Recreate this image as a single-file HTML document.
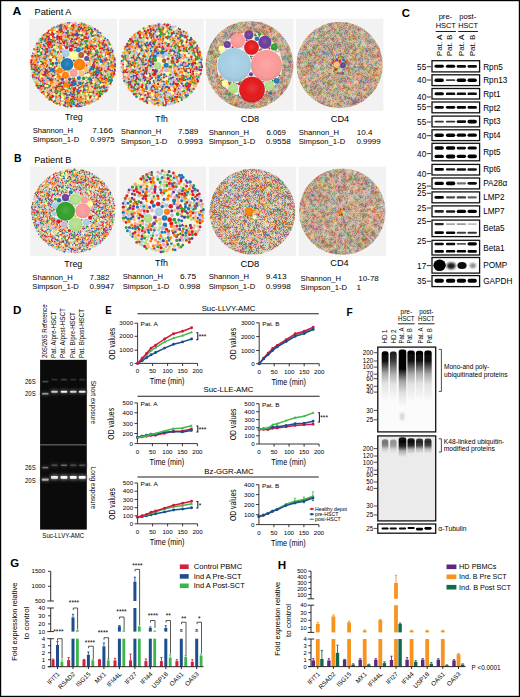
<!DOCTYPE html><html><head><meta charset="utf-8"><title>Figure</title><style>html,body{margin:0;padding:0;background:#fff;}svg{display:block;}</style></head><body><svg width="520" height="697" viewBox="0 0 520 697" font-family='"Liberation Sans", sans-serif'><defs><radialGradient id="shd" cx="0.5" cy="0.45" r="0.55"><stop offset="0" stop-color="#fff" stop-opacity="0.14"/><stop offset="0.6" stop-color="#fff" stop-opacity="0"/><stop offset="1" stop-color="#000" stop-opacity="0.1"/></radialGradient><filter id="pnA" x="0" y="0" width="1" height="1" color-interpolation-filters="sRGB"><feTurbulence type="fractalNoise" baseFrequency="1.618" numOctaves="1" seed="3"/><feColorMatrix type="matrix" values="3 0 0 0 -1.000  3 0 0 0 -1.000  3 0 0 0 -1.000  0 0 0 0 1"/><feComponentTransfer result="p"><feFuncR type="discrete" tableValues="0.871 0.984 0.122 0.694 0.992 0.792 1.000 0.890 0.871 1.000 0.416 0.651 0.200 0.698 0.200 0.122 1.000 1.000 0.984 0.871 0.694 0.992 0.792 0.698 0.416 0.890 0.651 1.000 1.000 0.792 0.694 0.871 0.416 0.890 0.651 0.122 0.698 0.200 0.992 0.984 0.890 1.000 0.651 0.200 0.122 0.416 0.871 0.694 0.698 0.792 1.000 0.984 0.992 0.694 0.698 1.000 0.122 0.890 0.200 1.000 0.416 0.871 0.984 0.992 0.651 0.792 0.122 0.698 1.000 0.200 0.694 0.890 1.000 0.871 0.792 0.984 0.651 0.416 0.992 0.698 0.871 0.200 0.694 0.984 1.000 0.792 0.651 0.416 0.992 0.122 0.890 1.000 0.890 0.792 1.000 0.984 0.694 0.871 0.416 0.992 0.651 0.698 0.200 1.000 0.122 0.871"/><feFuncG type="discrete" tableValues="0.808 0.604 0.471 0.349 0.749 0.698 1.000 0.102 0.808 0.498 0.239 0.808 0.627 0.875 0.627 0.471 1.000 0.498 0.604 0.808 0.349 0.749 0.698 0.875 0.239 0.102 0.808 1.000 0.498 0.698 0.349 0.808 0.239 0.102 0.808 0.471 0.875 0.627 0.749 0.604 0.102 0.498 0.808 0.627 0.471 0.239 0.808 0.349 0.875 0.698 1.000 0.604 0.749 0.349 0.875 1.000 0.471 0.102 0.627 0.498 0.239 0.808 0.604 0.749 0.808 0.698 0.471 0.875 1.000 0.627 0.349 0.102 0.498 0.808 0.698 0.604 0.808 0.239 0.749 0.875 0.808 0.627 0.349 0.604 1.000 0.698 0.808 0.239 0.749 0.471 0.102 0.498 0.102 0.698 1.000 0.604 0.349 0.808 0.239 0.749 0.808 0.875 0.627 0.498 0.471 0.808"/><feFuncB type="discrete" tableValues="0.761 0.600 0.706 0.157 0.435 0.839 0.600 0.110 0.761 0.000 0.604 0.890 0.173 0.541 0.173 0.706 0.600 0.000 0.600 0.761 0.157 0.435 0.839 0.541 0.604 0.110 0.890 0.600 0.000 0.839 0.157 0.761 0.604 0.110 0.890 0.706 0.541 0.173 0.435 0.600 0.110 0.000 0.890 0.173 0.706 0.604 0.761 0.157 0.541 0.839 0.600 0.600 0.435 0.157 0.541 0.600 0.706 0.110 0.173 0.000 0.604 0.761 0.600 0.435 0.890 0.839 0.706 0.541 0.600 0.173 0.157 0.110 0.000 0.761 0.839 0.600 0.890 0.604 0.435 0.541 0.761 0.173 0.157 0.600 0.600 0.839 0.890 0.604 0.435 0.706 0.110 0.000 0.110 0.839 0.600 0.600 0.157 0.761 0.604 0.435 0.890 0.541 0.173 0.000 0.706 0.761"/></feComponentTransfer><feGaussianBlur in="p" stdDeviation="1" result="b"/><feComposite in="p" in2="b" operator="arithmetic" k2="0.28" k3="0.72" result="m"/><feComposite in="m" in2="SourceGraphic" operator="in"/></filter><filter id="pnB" x="0" y="0" width="1" height="1" color-interpolation-filters="sRGB"><feTurbulence type="fractalNoise" baseFrequency="1.618" numOctaves="1" seed="5"/><feColorMatrix type="matrix" values="3 0 0 0 -1.000  3 0 0 0 -1.000  3 0 0 0 -1.000  0 0 0 0 1"/><feComponentTransfer result="p"><feFuncR type="discrete" tableValues="0.871 1.000 0.698 0.200 0.992 0.792 0.871 0.416 1.000 0.122 0.984 0.694 0.651 0.890 1.000 0.651 0.416 0.698 0.871 0.200 1.000 0.992 0.122 0.694 0.984 0.792 0.890 0.651 0.871 0.890 0.416 1.000 0.694 0.984 0.200 1.000 0.792 0.122 0.698 0.992 0.984 0.890 0.416 1.000 0.200 0.871 0.122 1.000 0.992 0.651 0.698 0.792 0.694 0.122 1.000 0.992 0.792 0.698 0.871 0.890 1.000 0.200 0.651 0.416 0.984 0.694 1.000 0.992 0.694 1.000 0.122 0.890 0.651 0.792 0.698 0.416 0.871 0.984 0.200 0.792 0.871 1.000 0.122 0.200 0.694 0.651 0.984 0.698 1.000 0.890 0.992 0.416 0.200 0.416 0.651 0.984 0.890 1.000 0.992 1.000 0.122 0.792 0.694 0.871 0.698 0.871"/><feFuncG type="discrete" tableValues="0.808 0.498 0.875 0.627 0.749 0.698 0.808 0.239 1.000 0.471 0.604 0.349 0.808 0.102 1.000 0.808 0.239 0.875 0.808 0.627 0.498 0.749 0.471 0.349 0.604 0.698 0.102 0.808 0.808 0.102 0.239 1.000 0.349 0.604 0.627 0.498 0.698 0.471 0.875 0.749 0.604 0.102 0.239 1.000 0.627 0.808 0.471 0.498 0.749 0.808 0.875 0.698 0.349 0.471 1.000 0.749 0.698 0.875 0.808 0.102 0.498 0.627 0.808 0.239 0.604 0.349 1.000 0.749 0.349 0.498 0.471 0.102 0.808 0.698 0.875 0.239 0.808 0.604 0.627 0.698 0.808 1.000 0.471 0.627 0.349 0.808 0.604 0.875 0.498 0.102 0.749 0.239 0.627 0.239 0.808 0.604 0.102 1.000 0.749 0.498 0.471 0.698 0.349 0.808 0.875 0.808"/><feFuncB type="discrete" tableValues="0.761 0.000 0.541 0.173 0.435 0.839 0.761 0.604 0.600 0.706 0.600 0.157 0.890 0.110 0.600 0.890 0.604 0.541 0.761 0.173 0.000 0.435 0.706 0.157 0.600 0.839 0.110 0.890 0.761 0.110 0.604 0.600 0.157 0.600 0.173 0.000 0.839 0.706 0.541 0.435 0.600 0.110 0.604 0.600 0.173 0.761 0.706 0.000 0.435 0.890 0.541 0.839 0.157 0.706 0.600 0.435 0.839 0.541 0.761 0.110 0.000 0.173 0.890 0.604 0.600 0.157 0.600 0.435 0.157 0.000 0.706 0.110 0.890 0.839 0.541 0.604 0.761 0.600 0.173 0.839 0.761 0.600 0.706 0.173 0.157 0.890 0.600 0.541 0.000 0.110 0.435 0.604 0.173 0.604 0.890 0.600 0.110 0.600 0.435 0.000 0.706 0.839 0.157 0.761 0.541 0.761"/></feComponentTransfer><feGaussianBlur in="p" stdDeviation="1" result="b"/><feComposite in="p" in2="b" operator="arithmetic" k2="0.28" k3="0.72" result="m"/><feComposite in="m" in2="SourceGraphic" operator="in"/></filter><filter id="pnC" x="0" y="0" width="1" height="1" color-interpolation-filters="sRGB"><feTurbulence type="fractalNoise" baseFrequency="1.618" numOctaves="1" seed="7"/><feColorMatrix type="matrix" values="3 0 0 0 -1.000  3 0 0 0 -1.000  3 0 0 0 -1.000  0 0 0 0 1"/><feComponentTransfer result="p"><feFuncR type="discrete" tableValues="0.925 0.416 0.992 0.792 0.122 0.698 0.694 0.651 1.000 0.925 0.200 0.890 0.984 1.000 0.992 0.792 0.984 1.000 0.925 0.651 1.000 0.200 0.416 0.694 0.122 0.890 0.698 0.792 1.000 0.984 0.200 1.000 0.698 0.925 0.651 0.992 0.890 0.416 0.694 0.122 0.992 0.925 0.890 0.651 0.122 1.000 0.792 0.698 0.694 0.416 0.984 1.000 0.200 0.416 0.122 0.651 0.925 0.890 0.984 0.200 0.698 0.694 0.992 1.000 0.792 1.000 0.122 1.000 1.000 0.992 0.200 0.694 0.984 0.416 0.890 0.651 0.698 0.792 0.925 0.890 0.992 1.000 0.651 0.792 1.000 0.200 0.984 0.925 0.122 0.416 0.694 0.698 0.698 0.651 0.925 0.890 1.000 0.416 0.694 0.992 0.792 0.984 0.200 1.000 0.122 0.925"/><feFuncG type="discrete" tableValues="0.910 0.239 0.749 0.698 0.471 0.875 0.349 0.808 1.000 0.910 0.627 0.102 0.604 0.498 0.749 0.698 0.604 0.498 0.910 0.808 1.000 0.627 0.239 0.349 0.471 0.102 0.875 0.698 0.498 0.604 0.627 1.000 0.875 0.910 0.808 0.749 0.102 0.239 0.349 0.471 0.749 0.910 0.102 0.808 0.471 1.000 0.698 0.875 0.349 0.239 0.604 0.498 0.627 0.239 0.471 0.808 0.910 0.102 0.604 0.627 0.875 0.349 0.749 0.498 0.698 1.000 0.471 0.498 1.000 0.749 0.627 0.349 0.604 0.239 0.102 0.808 0.875 0.698 0.910 0.102 0.749 0.498 0.808 0.698 1.000 0.627 0.604 0.910 0.471 0.239 0.349 0.875 0.875 0.808 0.910 0.102 0.498 0.239 0.349 0.749 0.698 0.604 0.627 1.000 0.471 0.910"/><feFuncB type="discrete" tableValues="0.894 0.604 0.435 0.839 0.706 0.541 0.157 0.890 0.600 0.894 0.173 0.110 0.600 0.000 0.435 0.839 0.600 0.000 0.894 0.890 0.600 0.173 0.604 0.157 0.706 0.110 0.541 0.839 0.000 0.600 0.173 0.600 0.541 0.894 0.890 0.435 0.110 0.604 0.157 0.706 0.435 0.894 0.110 0.890 0.706 0.600 0.839 0.541 0.157 0.604 0.600 0.000 0.173 0.604 0.706 0.890 0.894 0.110 0.600 0.173 0.541 0.157 0.435 0.000 0.839 0.600 0.706 0.000 0.600 0.435 0.173 0.157 0.600 0.604 0.110 0.890 0.541 0.839 0.894 0.110 0.435 0.000 0.890 0.839 0.600 0.173 0.600 0.894 0.706 0.604 0.157 0.541 0.541 0.890 0.894 0.110 0.000 0.604 0.157 0.435 0.839 0.600 0.173 0.600 0.706 0.894"/></feComponentTransfer><feGaussianBlur in="p" stdDeviation="1" result="b"/><feComposite in="p" in2="b" operator="arithmetic" k2="0.5" k3="0.5" result="m"/><feComposite in="m" in2="SourceGraphic" operator="in"/></filter><filter id="pnD" x="0" y="0" width="1" height="1" color-interpolation-filters="sRGB"><feTurbulence type="fractalNoise" baseFrequency="1.618" numOctaves="1" seed="9"/><feColorMatrix type="matrix" values="3 0 0 0 -1.000  3 0 0 0 -1.000  3 0 0 0 -1.000  0 0 0 0 1"/><feComponentTransfer result="p"><feFuncR type="discrete" tableValues="0.871 0.890 0.200 0.871 0.984 0.792 0.698 0.694 0.651 0.992 0.416 1.000 0.122 1.000 0.694 0.890 0.698 0.984 0.792 0.416 0.871 1.000 0.992 0.122 0.651 0.200 1.000 0.694 0.992 0.984 0.890 0.698 0.416 1.000 1.000 0.651 0.122 0.871 0.792 0.200 1.000 0.694 0.416 0.200 0.122 0.992 0.651 0.698 1.000 0.871 0.984 0.792 0.890 0.416 0.122 1.000 0.890 0.698 0.694 0.992 0.792 0.871 0.984 1.000 0.651 0.200 0.651 0.890 0.122 0.992 0.792 1.000 0.984 0.698 0.694 0.871 0.416 1.000 0.200 0.992 0.200 0.416 0.792 0.890 1.000 0.122 0.651 0.694 1.000 0.871 0.984 0.698 0.122 1.000 0.416 0.871 0.200 0.694 0.651 1.000 0.992 0.984 0.792 0.890 0.698 0.871"/><feFuncG type="discrete" tableValues="0.808 0.102 0.627 0.808 0.604 0.698 0.875 0.349 0.808 0.749 0.239 1.000 0.471 0.498 0.349 0.102 0.875 0.604 0.698 0.239 0.808 1.000 0.749 0.471 0.808 0.627 0.498 0.349 0.749 0.604 0.102 0.875 0.239 1.000 0.498 0.808 0.471 0.808 0.698 0.627 1.000 0.349 0.239 0.627 0.471 0.749 0.808 0.875 0.498 0.808 0.604 0.698 0.102 0.239 0.471 0.498 0.102 0.875 0.349 0.749 0.698 0.808 0.604 1.000 0.808 0.627 0.808 0.102 0.471 0.749 0.698 0.498 0.604 0.875 0.349 0.808 0.239 1.000 0.627 0.749 0.627 0.239 0.698 0.102 0.498 0.471 0.808 0.349 1.000 0.808 0.604 0.875 0.471 1.000 0.239 0.808 0.627 0.349 0.808 0.498 0.749 0.604 0.698 0.102 0.875 0.808"/><feFuncB type="discrete" tableValues="0.761 0.110 0.173 0.761 0.600 0.839 0.541 0.157 0.890 0.435 0.604 0.600 0.706 0.000 0.157 0.110 0.541 0.600 0.839 0.604 0.761 0.600 0.435 0.706 0.890 0.173 0.000 0.157 0.435 0.600 0.110 0.541 0.604 0.600 0.000 0.890 0.706 0.761 0.839 0.173 0.600 0.157 0.604 0.173 0.706 0.435 0.890 0.541 0.000 0.761 0.600 0.839 0.110 0.604 0.706 0.000 0.110 0.541 0.157 0.435 0.839 0.761 0.600 0.600 0.890 0.173 0.890 0.110 0.706 0.435 0.839 0.000 0.600 0.541 0.157 0.761 0.604 0.600 0.173 0.435 0.173 0.604 0.839 0.110 0.000 0.706 0.890 0.157 0.600 0.761 0.600 0.541 0.706 0.600 0.604 0.761 0.173 0.157 0.890 0.000 0.435 0.600 0.839 0.110 0.541 0.761"/></feComponentTransfer><feGaussianBlur in="p" stdDeviation="1" result="b"/><feComposite in="p" in2="b" operator="arithmetic" k2="0.30000000000000004" k3="0.7" result="m"/><feComposite in="m" in2="SourceGraphic" operator="in"/></filter><filter id="nzA" x="0" y="0" width="1" height="1" color-interpolation-filters="sRGB"><feTurbulence type="fractalNoise" baseFrequency="0.713" numOctaves="1" seed="3"/><feColorMatrix type="matrix" values="0.9 0 0 0.9 -0.139  0 0.9 0 0.9 -0.241  0 0 0.9 0.9 -0.304  0 0 0 0 1"/><feComposite in2="SourceGraphic" operator="in"/></filter><filter id="nzB" x="0" y="0" width="1" height="1" color-interpolation-filters="sRGB"><feTurbulence type="fractalNoise" baseFrequency="0.713" numOctaves="1" seed="5"/><feColorMatrix type="matrix" values="0.6 0 0 0.9 0.023  0 0.6 0 0.9 -0.095  0 0 0.6 0.9 -0.158  0 0 0 0 1"/><feComposite in2="SourceGraphic" operator="in"/></filter><filter id="nzC" x="0" y="0" width="1" height="1" color-interpolation-filters="sRGB"><feTurbulence type="fractalNoise" baseFrequency="0.713" numOctaves="1" seed="7"/><feColorMatrix type="matrix" values="1.45 0 0 0.9 -0.438  0 1.45 0 0.9 -0.524  0 0 1.45 0.9 -0.571  0 0 0 0 1"/><feComposite in2="SourceGraphic" operator="in"/></filter><filter id="nzD" x="0" y="0" width="1" height="1" color-interpolation-filters="sRGB"><feTurbulence type="fractalNoise" baseFrequency="0.713" numOctaves="1" seed="9"/><feColorMatrix type="matrix" values="0.75 0 0 0.9 -0.060  0 0.75 0 0.9 -0.166  0 0 0.75 0.9 -0.229  0 0 0 0 1"/><feComposite in2="SourceGraphic" operator="in"/></filter><filter id="bl" x="-30%" y="-80%" width="160%" height="260%"><feGaussianBlur stdDeviation="0.45"/></filter><filter id="bl2" x="-50%" y="-80%" width="200%" height="260%"><feGaussianBlur stdDeviation="1.1"/></filter><filter id="gl" x="-40%" y="-150%" width="180%" height="400%"><feGaussianBlur stdDeviation="0.7"/></filter><filter id="gl2" x="-40%" y="-150%" width="180%" height="400%"><feGaussianBlur stdDeviation="1.6"/></filter><linearGradient id="sm1" x1="0" y1="0" x2="0" y2="1"><stop offset="0" stop-color="#000"/><stop offset="0.2" stop-color="#111"/><stop offset="0.32" stop-color="#5a5a5a"/><stop offset="0.46" stop-color="#aaa"/><stop offset="0.66" stop-color="#e2e2e2"/><stop offset="1" stop-color="#fbfbfb"/></linearGradient><linearGradient id="sm2" x1="0" y1="0" x2="0" y2="1"><stop offset="0" stop-color="#1a1a1a"/><stop offset="0.18" stop-color="#383838"/><stop offset="0.32" stop-color="#777"/><stop offset="0.48" stop-color="#b5b5b5"/><stop offset="0.68" stop-color="#e4e4e4"/><stop offset="1" stop-color="#fbfbfb"/></linearGradient><linearGradient id="sm3" x1="0" y1="0" x2="0" y2="1"><stop offset="0" stop-color="#000"/><stop offset="0.34" stop-color="#060606"/><stop offset="0.44" stop-color="#555"/><stop offset="0.56" stop-color="#a5a5a5"/><stop offset="0.76" stop-color="#e0e0e0"/><stop offset="1" stop-color="#fbfbfb"/></linearGradient><filter id="smb" x="-30%" y="-10%" width="160%" height="120%"><feGaussianBlur stdDeviation="0.7"/></filter><linearGradient id="kg" x1="0" y1="0" x2="0" y2="1"><stop offset="0" stop-color="#000" stop-opacity="0.85"/><stop offset="0.2" stop-color="#000" stop-opacity="1"/><stop offset="0.45" stop-color="#000" stop-opacity="0.85"/><stop offset="0.7" stop-color="#000" stop-opacity="0.25"/><stop offset="1" stop-color="#000" stop-opacity="0"/></linearGradient></defs><rect width="520" height="697" fill="#fff"/><rect x="29.2" y="18.6" width="87.9" height="92.2" fill="#f2f2f2"/><path d="M112.9 65.8h0M45.1 68.5h0M79.9 34.7h0M53.5 30.7h0M90 79.9h0" stroke="#1f78b4" stroke-width="2.0" stroke-linecap="round"/><path d="M40.7 81.8h0M98.8 84.7h0M50.2 51.1h0M84.4 41.8h0M71.7 103.8h0M75 80.5h0M69.3 103h0M84.2 24.3h0M77.3 32.4h0M92.9 31.4h0M49.8 37.6h0M36.9 59.3h0M33 53.2h0M108.3 81.5h0M52.9 46h0M65.3 101.9h0M96.2 59.3h0M103.9 60.7h0M84.5 103.2h0M76.7 99.4h0M99.8 94h0M79.8 91.5h0M112 80.4h0M76.8 91.4h0M44.3 80.5h0M83 47.9h0M44 71.6h0M114.9 70.8h0M100.6 62.1h0M50.1 90.7h0M61.6 24.5h0M35.7 74h0M67.8 23h0M104.1 91.4h0" stroke="#1f78b4" stroke-width="2.1" stroke-linecap="round"/><path d="M94.9 45.7h0M88.8 36.9h0M50 68.8h0M54.5 37.5h0M100.5 57.6h0M95.1 61.3h0M40.3 70.9h0M98.9 72.6h0M105.6 60.9h0M59.4 26.5h0M87.9 30.5h0M74.1 34.1h0M40 88h0M77.9 106.5h0M104.2 77.6h0M40.6 40.5h0M57 26.9h0M51.4 91.5h0M65.5 106.1h0M74.5 43.3h0" stroke="#1f78b4" stroke-width="2.2" stroke-linecap="round"/><path d="M98.3 32.5h0M37.9 62.4h0M69.5 86h0M72.3 29.8h0M105.1 38.6h0M47.4 69.9h0M43.8 35.1h0M70.2 92.3h0M105.2 55.4h0M54.1 27.6h0M48.5 51.1h0M86.1 47.4h0M34.1 56.2h0" stroke="#1f78b4" stroke-width="2.3" stroke-linecap="round"/><path d="M53.7 96h0M87.3 82.8h0M67.2 95.2h0M91.2 33.8h0M69.3 46.3h0M90.6 78.4h0M73 94.2h0M92.1 101.3h0M102.2 62h0M47.4 77.9h0M97 72.5h0M55.8 58h0M101.3 67.8h0" stroke="#1f78b4" stroke-width="2.4" stroke-linecap="round"/><path d="M55.4 100.8h0M46.1 43.5h0M88.6 79.2h0M85.7 85.8h0M61.3 26.4h0M40.8 61.6h0M56.8 37.6h0M60.6 98.3h0M49.3 43.2h0M82.4 49.3h0M98.4 52.2h0M46.8 71.4h0" stroke="#1f78b4" stroke-width="2.5" stroke-linecap="round"/><path d="M100.4 60.1h0M100.1 88.3h0M47.5 65.2h0M104.4 47.2h0M60.5 28h0M99.2 70.7h0M44.8 40.7h0M54.5 72.8h0M100.4 82.4h0M74.7 39.6h0" stroke="#1f78b4" stroke-width="2.6" stroke-linecap="round"/><path d="M109.8 80.2h0M49.1 78.1h0M38.9 68.3h0M78.4 90.5h0M104.2 87.9h0M73.2 36.2h0M59.2 95.4h0M73.7 104.3h0M42.1 39.7h0" stroke="#1f78b4" stroke-width="2.7" stroke-linecap="round"/><path d="M79.8 83.3h0" stroke="#1f78b4" stroke-width="4.6" stroke-linecap="round"/><path d="M91.9 68.5h0" stroke="#1f78b4" stroke-width="5.3" stroke-linecap="round"/><path d="M52.6 70h0" stroke="#1f78b4" stroke-width="5.5" stroke-linecap="round"/><path d="M74.5 83.4h0" stroke="#1f78b4" stroke-width="5.6" stroke-linecap="round"/><path d="M66.3 41.8h0M70.2 100.7h0M85.6 73.6h0M80.6 42.2h0M90.5 84.1h0M64 95.1h0" stroke="#33a02c" stroke-width="2.0" stroke-linecap="round"/><path d="M81.9 41.1h0M48.6 84.9h0M109.4 44.1h0M40.5 38.8h0M72.7 41.8h0M32.9 77.2h0M55.4 79.1h0M73.4 44.2h0M40.6 55h0M88.7 95.1h0M43.1 58.4h0M97.3 71h0M84.7 105.1h0M60.2 32.7h0M54.4 42.1h0M70.6 89.1h0M98.6 58.9h0M94.2 96.7h0M87.7 33.6h0M60.3 91.7h0M46.4 37.3h0M110.5 61h0M53.8 49.3h0M72.5 78.5h0M98.9 44.1h0M83.7 39.4h0M55.4 40.6h0M74.7 50.4h0M51.1 80.9h0M108.1 64.2h0M110.4 45h0M82.3 83.3h0M71.6 35.7h0M45.6 46.9h0" stroke="#33a02c" stroke-width="2.1" stroke-linecap="round"/><path d="M99.3 80.5h0M39 77.6h0M111.6 78.9h0M110 57h0M42.8 62.1h0M68.5 97.5h0M69.1 88.2h0M79.8 30.1h0M94 35.6h0M36.8 67.1h0M77.5 100.8h0M86 30.4h0M93.6 56.3h0M61.1 86.1h0M102.6 56.3h0M95.3 40.4h0M58 86.2h0M47.3 87.9h0M94.6 68.1h0M61.9 40.2h0M52.1 40.1h0M53.4 35.6h0M111.3 48.2h0M58.8 46.9h0M110.5 49.9h0M95.3 34.8h0M81.7 106h0M84.1 85.6h0M42.8 84.2h0M105.6 91.7h0M37.7 86.6h0M94.9 75.3h0M67 44.8h0" stroke="#33a02c" stroke-width="2.2" stroke-linecap="round"/><path d="M40.6 53.1h0M37.6 54.9h0M73.9 102.5h0M92.2 56.9h0M105.1 90.1h0M60.3 93.8h0M49.1 94h0M46.6 76.3h0M50.6 61.7h0M105.1 76.1h0M87.9 89.3h0M91.3 92.3h0M99.2 36.3h0M59.5 62.7h0M85.8 89.9h0M71.2 102.5h0M60.4 84.4h0M78.2 28.2h0" stroke="#33a02c" stroke-width="2.3" stroke-linecap="round"/><path d="M107.7 79.5h0M82.7 102.8h0M63.2 88.9h0M39.2 85.4h0M44.7 50.4h0M93.4 74.2h0M34.1 72.6h0M107.8 75.1h0M90.8 28.1h0M108.9 77.3h0M110.4 63.2h0M37.3 71.3h0M41.1 42.1h0M72.6 101.3h0M31.9 69h0M55.5 90.7h0M95.3 83.4h0M63.7 81.8h0M80.3 46h0M89.5 48.4h0M97.7 57.4h0M49.1 87h0M89.7 60.6h0" stroke="#33a02c" stroke-width="2.4" stroke-linecap="round"/><path d="M34.5 77.4h0M95 86.1h0M96.6 69.1h0M50.7 64h0M85.7 40.8h0M101.7 94.1h0M87 45.2h0M39.5 49.5h0M87.4 41.2h0M98.7 45.6h0M38.8 43.2h0M83.1 92.5h0M99.2 86.7h0M82.7 44.6h0M39.2 51.4h0M91.3 32.2h0M63.6 93.4h0M105.9 57.6h0M83.6 82.5h0" stroke="#33a02c" stroke-width="2.5" stroke-linecap="round"/><path d="M90.7 52h0M84.4 89h0M54.3 45h0M44.7 89h0M51 98.9h0M35.4 71.1h0M68 32.5h0M96.6 52.2h0M110.9 81.9h0M81.5 23.9h0M97.3 50.3h0M57.5 92.8h0M67.7 35.4h0M100.6 91.4h0M89.5 77.2h0" stroke="#33a02c" stroke-width="2.6" stroke-linecap="round"/><path d="M67.7 106.3h0M80 103.1h0M97.1 87.8h0M47 56h0M100.9 73.3h0M99.2 92.4h0M57.1 103.3h0M88.6 27.5h0M57.6 90.9h0M37.5 74.2h0M55.2 51.7h0M77.6 94.4h0M110.5 76.7h0M81.6 34.7h0M89.5 81.7h0M52 55.1h0M91.5 44.9h0M97 63h0" stroke="#33a02c" stroke-width="2.7" stroke-linecap="round"/><path d="M69 82.8h0" stroke="#33a02c" stroke-width="3.4" stroke-linecap="round"/><path d="M52.5 64.9h0" stroke="#33a02c" stroke-width="3.5" stroke-linecap="round"/><path d="M98.3 69.3h0M104.1 79.2h0M64.8 26h0M85.8 43.3h0M41.7 52.1h0M69.8 22.9h0M81.3 36.2h0" stroke="#6a3d9a" stroke-width="2.0" stroke-linecap="round"/><path d="M108.4 62.8h0M71 94h0M112.2 70.6h0M101.1 35.6h0M94.7 59h0M83 28.7h0M64.8 41h0M45.7 52.4h0M49 33.2h0M109.1 59.6h0M111.6 62.1h0M74.7 95h0M34.8 67h0M57.7 42.5h0M104.8 59.4h0M45.4 72.1h0M46.3 57.6h0M85.5 83.4h0M95.6 54.3h0M98.4 74.3h0M83.8 86.9h0M60.3 25.2h0M87.3 53.8h0M100.4 33.1h0M102.8 74.9h0M107.9 48.1h0M95 55.8h0M42.9 79.2h0M52.2 95.2h0M78.7 44.8h0" stroke="#6a3d9a" stroke-width="2.1" stroke-linecap="round"/><path d="M71 41h0M93.2 78.1h0M87.6 47.1h0M75.5 33.6h0M38.2 56.9h0M38.2 88h0M75.1 35.3h0M67.8 30.7h0M37.1 51.9h0M108.6 51h0M64.4 45.6h0M43.6 44.7h0M112.2 52.4h0M53.6 50.9h0M63.6 32.5h0M94.5 64.9h0M112.6 50.6h0M49.4 71.4h0M50.9 39.5h0M95.9 71h0M99.3 67.5h0M56.4 59.8h0M38.6 79h0M99.3 48.4h0M73.9 60.6h0M56.6 85.8h0M63.7 57.7h0" stroke="#6a3d9a" stroke-width="2.2" stroke-linecap="round"/><path d="M51.8 78.7h0M69.5 95.2h0M68 37.1h0M78.8 24.6h0M56.1 93.8h0M91.3 95.8h0M78.5 35h0M79 87.9h0M89.8 70.9h0M52.2 42.2h0M110.2 55.4h0M87.8 72.8h0M57.7 53.6h0M104.6 45.6h0" stroke="#6a3d9a" stroke-width="2.3" stroke-linecap="round"/><path d="M72 85.6h0M95.9 74h0M88.8 53.5h0M44.8 73.5h0M65.5 103.7h0M45.3 39.1h0M86.7 77h0M110.1 70.5h0M55.1 87.7h0M77.1 34h0M107.4 40.3h0" stroke="#6a3d9a" stroke-width="2.4" stroke-linecap="round"/><path d="M45.3 54.3h0M83.6 90.6h0M77.9 103.9h0M104.1 50.3h0M44.9 58.8h0M79.9 106h0M114.8 64.3h0M109.4 53.6h0M66.4 33.1h0M71.7 82.5h0M44.7 83.5h0M85.4 101.9h0M106.5 87.4h0" stroke="#6a3d9a" stroke-width="2.5" stroke-linecap="round"/><path d="M49.3 47.7h0M92.3 36.1h0M114.5 59.7h0M94.9 29.4h0M42.4 49h0M34 69.6h0M53.6 34h0M66.6 97.8h0M80.9 28.5h0M93.1 75.8h0" stroke="#6a3d9a" stroke-width="2.6" stroke-linecap="round"/><path d="M102.5 44.7h0M97.4 54.6h0M76.9 35.7h0M48.6 39.4h0M39.2 72.7h0M74.7 99.4h0M91.6 80.1h0M108.6 66.5h0M96.1 77.5h0M57.3 35.7h0M73.9 97h0M76 43.2h0" stroke="#6a3d9a" stroke-width="2.7" stroke-linecap="round"/><path d="M63.3 29.2h0M48.5 59h0M85.1 39.1h0M71.2 90.6h0M93.3 44.6h0M54.1 65.8h0M42.8 69.2h0" stroke="#a6cee3" stroke-width="2.0" stroke-linecap="round"/><path d="M57.4 34h0M93.8 101.6h0M46.6 59h0M104.7 67.5h0M69.3 106.4h0M95.9 48.1h0M76.2 40.6h0M82 50.8h0" stroke="#a6cee3" stroke-width="2.1" stroke-linecap="round"/><path d="M67.1 89.2h0M84.1 84.1h0M94.4 76.7h0M96.3 36h0M62.4 85.2h0M106.6 64.5h0M102 51.4h0M73.3 86.8h0M35.4 78.9h0M45.3 95.7h0M90.3 37.8h0M101.6 33.8h0M79.8 36.2h0M64.4 38.7h0M62.9 48.9h0M95.3 91.5h0M53.7 54.8h0M64.5 87.4h0M39.9 84h0M55.6 80.5h0" stroke="#a6cee3" stroke-width="2.2" stroke-linecap="round"/><path d="M45.4 45.2h0M73.8 106.1h0M50.2 54.9h0M105.9 85.7h0M36.1 46.1h0M43.3 89.8h0M42.1 44.3h0M108.2 45.8h0M45.5 77.7h0" stroke="#a6cee3" stroke-width="2.3" stroke-linecap="round"/><path d="M105.7 40.1h0M101.7 65.1h0M51.3 72.7h0M89.4 50.3h0M57.7 89.1h0M59.8 81.7h0M55.7 38.9h0" stroke="#a6cee3" stroke-width="2.4" stroke-linecap="round"/><path d="M106.7 69h0M92.6 28.1h0M75.8 101h0M57.4 48.2h0M104.5 56.8h0M45.3 66.8h0M53.4 29.2h0M103.6 36.9h0M41.4 83.6h0M50.7 49.1h0M48.7 52.8h0M45.6 81.6h0M63 104.2h0M86.6 63h0M82.9 42.3h0M109.5 75.2h0M71.6 43.9h0" stroke="#a6cee3" stroke-width="2.5" stroke-linecap="round"/><path d="M62.9 101.1h0M53.6 52.6h0M68.3 41h0M109.8 64.9h0M37.4 76.7h0M39.1 47.3h0M76.6 23.9h0M57.5 99.2h0" stroke="#a6cee3" stroke-width="2.6" stroke-linecap="round"/><path d="M95.9 31.6h0M48.9 63.9h0M55.5 95.8h0" stroke="#a6cee3" stroke-width="2.7" stroke-linecap="round"/><path d="M102.5 83h0M40.6 47h0M77.4 37.5h0M81.4 102h0" stroke="#b15928" stroke-width="2.0" stroke-linecap="round"/><path d="M100 42.6h0M95.4 51.1h0M114.3 57.9h0M70.1 105h0M49.7 35.2h0M51.8 100.3h0M74.5 47.5h0M85.2 46.2h0M64.9 89.8h0M86.3 32.1h0M97.4 30.5h0M92.7 32.9h0M79.2 31.4h0M59.5 83.2h0M46.8 35.8h0M60.6 31.4h0M62.4 90.4h0M46.9 66.7h0M51.6 74.3h0" stroke="#b15928" stroke-width="2.1" stroke-linecap="round"/><path d="M111.8 75.4h0M98.4 97h0M53.9 40.6h0M59.5 41.2h0M48.2 72.4h0M41 64.5h0M39.6 59.1h0M89.5 92.4h0M46.9 84.5h0M110.7 52.6h0M60.9 51.9h0M47.4 92.9h0M51.5 44.9h0M91.2 73.5h0M88.4 55.2h0M73 99h0M101.8 86.2h0M59.5 43.2h0M93.6 60.3h0M39 55.7h0" stroke="#b15928" stroke-width="2.2" stroke-linecap="round"/><path d="M35.6 68.6h0M60.8 100.7h0M101.7 87.8h0M77.3 97.1h0M86.6 65.5h0M57.6 74.3h0M113.8 61.9h0M73.2 88.7h0M104.8 70.8h0M70.8 42.5h0M88.6 102.3h0M108.8 42.4h0M70.5 45.3h0M73.6 26.1h0" stroke="#b15928" stroke-width="2.3" stroke-linecap="round"/><path d="M67.2 102.5h0M103.8 82.3h0M33.3 64.3h0M50.6 53.2h0M50.1 59.7h0M96.3 85h0M106 71.8h0M50.4 85.6h0M114 72.1h0M56.7 96.8h0M31.7 66.7h0M93.3 72.5h0M45.6 48.5h0" stroke="#b15928" stroke-width="2.4" stroke-linecap="round"/><path d="M42.1 54.1h0M105.2 44h0M34.3 49.3h0M56 89h0M87.8 38.6h0M74 27.8h0M54.7 92.7h0M46.9 73.5h0M76 30.9h0M93.3 93.1h0" stroke="#b15928" stroke-width="2.5" stroke-linecap="round"/><path d="M114.9 66h0M80.8 44h0M106.5 49.4h0M97.9 79.1h0M31.6 64.8h0M84.9 36.5h0M111.2 73.9h0M87.4 85.4h0M66.3 40.1h0" stroke="#b15928" stroke-width="2.6" stroke-linecap="round"/><path d="M36.7 85.3h0M61.1 89.5h0M79.6 93.1h0M57.9 80.7h0M52.6 80.2h0M74.1 92.6h0M74.5 78.6h0M52.7 57.8h0" stroke="#b15928" stroke-width="2.7" stroke-linecap="round"/><path d="M76.9 29.1h0M43.2 56.2h0M95.6 37.3h0M94.8 70h0M78.5 57.7h0M47.5 60.1h0M67.5 87.6h0M103.6 89.5h0" stroke="#b2df8a" stroke-width="2.0" stroke-linecap="round"/><path d="M67.6 38.9h0M75.1 29.5h0M48.5 97.7h0M96.5 41.6h0M41 60h0M80.5 88.7h0M43.1 70.5h0M113.4 68.9h0M77.3 82.2h0M66 43.8h0M66 79.8h0M55.7 69.5h0M88.1 80.9h0M92.2 52.7h0M86.4 78.5h0M99.2 54.9h0M79.8 39.2h0M62.5 43.4h0M96.7 45.3h0" stroke="#b2df8a" stroke-width="2.1" stroke-linecap="round"/><path d="M83.5 96h0M111.6 54.6h0M102.5 39.6h0M33.1 71.1h0M44.2 47.8h0M108 85.6h0M41 68.3h0M98.4 34h0M75.9 90h0M108.6 83.6h0M95.2 100.7h0M32.7 59.1h0M98.8 89.7h0M93.4 34.2h0M113 53.6h0M90.5 36.4h0M46.8 45.5h0M89.4 85.9h0M67.2 93.2h0M111.4 56.7h0M51.6 52h0M113 60.5h0" stroke="#b2df8a" stroke-width="2.2" stroke-linecap="round"/><path d="M103.2 92.9h0M81.5 47.1h0M76.2 93.2h0M89.5 44.8h0M47 47.5h0M96.2 79.6h0M37.1 79.7h0M64.8 96.4h0M99.8 34.9h0M101.9 46.4h0M79.3 94.9h0M37.9 46.3h0M89.6 67.5h0M76 79.4h0M83.8 101.8h0" stroke="#b2df8a" stroke-width="2.3" stroke-linecap="round"/><path d="M84 94.1h0M51.6 87.5h0M42.9 41.5h0M108 60.9h0M82.4 94.1h0M92.4 94.7h0M65.8 38.4h0M93.3 88.8h0M68.2 29h0M91.8 77h0M104.5 64.3h0M68.5 71.5h0" stroke="#b2df8a" stroke-width="2.4" stroke-linecap="round"/><path d="M87.5 96.2h0M102 89.5h0M70.2 30.5h0M44.5 37.3h0M79.2 33h0M97.7 83.6h0M57.8 82.7h0M66.1 30.3h0M36.9 81.4h0" stroke="#b2df8a" stroke-width="2.5" stroke-linecap="round"/><path d="M43.4 60.5h0M99.2 50.7h0M93.3 84.2h0M108.9 71.8h0M109 73.5h0M107.3 76.7h0M113.1 63.5h0M90.3 26.5h0" stroke="#b2df8a" stroke-width="2.6" stroke-linecap="round"/><path d="M34.8 81.6h0M93.6 53.6h0M53 73.7h0M103.1 72h0M92 71.3h0M39.3 41.5h0M72.1 37.6h0" stroke="#b2df8a" stroke-width="2.7" stroke-linecap="round"/><path d="M91.7 60.3h0" stroke="#b2df8a" stroke-width="3.4" stroke-linecap="round"/><path d="M59.1 66.1h0" stroke="#b2df8a" stroke-width="3.6" stroke-linecap="round"/><path d="M55.7 54.2h0" stroke="#b2df8a" stroke-width="4.0" stroke-linecap="round"/><path d="M43.7 43h0M44.7 91.5h0" stroke="#cab2d6" stroke-width="2.0" stroke-linecap="round"/><path d="M39.1 60.6h0M89.5 99.6h0M91 85.5h0M95.4 63.7h0M92.5 39.2h0M49.7 73.7h0M37.3 63.9h0M32.3 72.6h0M36.6 72.9h0M105.6 65.6h0M43.4 54.9h0" stroke="#cab2d6" stroke-width="2.1" stroke-linecap="round"/><path d="M55.6 27.3h0M55.2 85.8h0M58.2 44.2h0M106.1 67h0M78.4 102.3h0M115.2 61.5h0M99.7 75.1h0M74.2 49h0" stroke="#cab2d6" stroke-width="2.2" stroke-linecap="round"/><path d="M85.3 87.6h0M107.4 88.7h0M109.5 48.2h0M79.2 96.5h0M68.6 92.7h0M69.2 27.7h0M38.6 81.1h0M83.5 104.4h0M48.2 61.8h0M39.3 39.8h0M102 57.7h0M47.8 57.4h0M93.7 87.1h0" stroke="#cab2d6" stroke-width="2.3" stroke-linecap="round"/><path d="M33.1 54.8h0M103.1 68.4h0M90 40.1h0M48 68h0M66.6 23.9h0M100.5 66.5h0M58 28.3h0M49.2 76.4h0M33.8 79h0M94 95.2h0" stroke="#cab2d6" stroke-width="2.4" stroke-linecap="round"/><path d="M89.4 35.2h0M48.8 49.5h0M47.5 54h0M38.1 58.5h0M48 80.8h0M107 73.2h0" stroke="#cab2d6" stroke-width="2.5" stroke-linecap="round"/><path d="M98.6 76.6h0M41.4 79.9h0M94.2 98.6h0M76.2 86.3h0M53.4 77.8h0M59.6 49.8h0M95.9 89.8h0M102.6 76.8h0M55.6 74.5h0M61.7 50h0M70.9 27.2h0" stroke="#cab2d6" stroke-width="2.6" stroke-linecap="round"/><path d="M41.3 57.3h0M86.7 35.9h0" stroke="#cab2d6" stroke-width="2.7" stroke-linecap="round"/><path d="M56.4 66.2h0M114.7 69.4h0M107.9 54.2h0M37.6 47.7h0M87.8 48.8h0" stroke="#e31a1c" stroke-width="2.0" stroke-linecap="round"/><path d="M56.8 87.3h0M58.5 36.9h0M43.3 91.7h0M92.9 65.1h0M54.1 75.6h0M100.8 48.3h0M60.6 96.2h0M51.9 47.2h0M96.2 46.6h0M94.8 72.3h0M110.3 83.9h0M35.6 55.9h0M82.8 35.9h0M62.8 41.8h0M98.6 41.4h0M92.2 86.7h0M74 24.7h0M78.2 29.8h0M51.4 89.7h0M102.7 91.4h0M48.5 31.1h0M39.8 80h0M78 92.8h0M81 90.6h0M76 47.2h0M59.9 36.7h0M89.1 29.7h0M48.2 46h0M70.7 84.8h0M100.6 52.3h0M45.5 87.6h0M81.3 27h0M108 49.8h0M102 60.3h0M65.6 27.2h0M84 38h0M90.8 49.8h0M77.3 89.2h0" stroke="#e31a1c" stroke-width="2.1" stroke-linecap="round"/><path d="M41.9 78.1h0M42.6 81.1h0M47.9 95.4h0M101.3 74.9h0M61 43.5h0M59.5 103.2h0M58.7 84.5h0M67.5 43.3h0M65.4 91.4h0M99.1 56.4h0M53.7 101.8h0M47.9 44.5h0M49.9 44.9h0M106.4 45.4h0M62.1 31.6h0M97.3 67.7h0M41.9 92.4h0M42.7 38.1h0M54.8 67.6h0M101.8 69.4h0M82.9 30.4h0M37 43.7h0M36.6 78h0M106.8 90.3h0M49.5 67.4h0M51.5 60.2h0M50.9 43.1h0M32.1 56h0" stroke="#e31a1c" stroke-width="2.2" stroke-linecap="round"/><path d="M86.3 34.1h0M93.4 91.3h0M104 40.7h0M57.2 31.6h0M50.1 97.1h0M64.1 105.3h0M100.8 70.6h0M36.9 49.5h0M37 69.6h0M59.8 86.7h0M47.1 51.9h0M49.5 99.5h0M79 26.9h0M44.1 46.1h0M58 51.9h0M52.6 76h0M81 86.8h0M77.8 43.6h0" stroke="#e31a1c" stroke-width="2.3" stroke-linecap="round"/><path d="M94.3 48.8h0M57.4 39.1h0M93.7 62.8h0M45.8 70h0M97.1 75.2h0M31.2 62.4h0M106 78.4h0M66.2 28.5h0M43 74.9h0M52.3 32.5h0M72 39.3h0M32.8 75.5h0M61.3 38.8h0M97.8 35.5h0M86.2 37.8h0" stroke="#e31a1c" stroke-width="2.4" stroke-linecap="round"/><path d="M72.1 25.5h0M59.6 30h0M90.7 46.5h0M102 78.7h0M72.2 34.3h0M95 88.2h0M78.1 85.3h0M52.9 62.9h0M52.7 37h0M69.5 35.4h0M102.4 48.5h0M48.1 36.7h0M84.8 27.4h0M81 97h0M52.3 96.9h0M42.9 63.7h0M106.9 59.5h0M35.2 65.1h0M45.1 75.2h0M64.1 83.6h0M88.5 51.7h0" stroke="#e31a1c" stroke-width="2.5" stroke-linecap="round"/><path d="M62.3 87.1h0M61.5 82.9h0M64.1 43.1h0M73.5 80.6h0M81.8 39.4h0M65.6 93.8h0M47.1 49.4h0M71.2 106.3h0M47.4 33.3h0M92.9 46.8h0M100 96.1h0M96.7 94h0M50.1 41.7h0M49.9 79.7h0M41 86.1h0M71.2 99.2h0M91.6 82.9h0M103 42.6h0M31.5 60.5h0M114.1 73.9h0" stroke="#e31a1c" stroke-width="2.6" stroke-linecap="round"/><path d="M75 88.3h0M103.8 85.9h0M43.4 86.4h0M73.9 90.4h0M91.8 30.1h0M51.5 34.7h0M72 96.5h0M76.2 105.6h0M76.7 38.9h0M59.6 38.7h0M61.7 36.5h0M90.2 97.3h0M61.4 29.6h0M108.4 68.9h0M47.9 42.2h0M93.9 66.5h0" stroke="#e31a1c" stroke-width="2.7" stroke-linecap="round"/><path d="M72.5 45.9h0" stroke="#e31a1c" stroke-width="3.4" stroke-linecap="round"/><path d="M80.9 30.9h0M51.2 76.4h0M88.9 25.8h0M111 58.2h0M88.1 93.5h0M86.1 104.1h0M64.6 28.6h0" stroke="#fb9a99" stroke-width="2.0" stroke-linecap="round"/><path d="M72.9 31.7h0M82.1 32h0M96.6 33.3h0M107 46.8h0M64.5 30.9h0M48.2 34.6h0M42.1 36.4h0M91.1 102.8h0M39.5 89.8h0M72.1 23.5h0M108.4 87.1h0M58.1 40.8h0M79.7 81h0M56.5 72.8h0M77.1 80.6h0M104.8 69.1h0M94.6 47.3h0M60.7 87.9h0M44.2 69.6h0" stroke="#fb9a99" stroke-width="2.1" stroke-linecap="round"/><path d="M38.1 44.7h0M48.9 70.1h0M58.3 97h0M95.5 95.2h0M96.2 81.9h0M53.7 88.7h0M97.6 39.5h0M54.2 39.1h0" stroke="#fb9a99" stroke-width="2.2" stroke-linecap="round"/><path d="M41.3 73.8h0M79.3 43.3h0M83.9 32.6h0M73.8 37.8h0M33.8 60.9h0M95.1 93h0M42.5 46.7h0M96.1 39h0M62.2 45h0M42.7 50.9h0M106.2 62.6h0M70.5 34h0M93.7 57.9h0" stroke="#fb9a99" stroke-width="2.3" stroke-linecap="round"/><path d="M52.6 92.6h0M92.2 99.5h0M81.5 100.3h0M34.9 53.9h0M48.1 90.7h0M97 43.9h0M89.3 41.7h0M42.9 88h0M81 104.6h0M55.7 33.1h0M74.9 45.4h0M44.3 78.6h0M42.4 65.9h0M50 92.2h0M33.3 66.5h0M107.5 43.4h0" stroke="#fb9a99" stroke-width="2.4" stroke-linecap="round"/><path d="M52.7 43.7h0M55.9 42.8h0M101.6 41.2h0M94.4 80.8h0M98.8 64.2h0M86.3 81h0M92.2 54.8h0" stroke="#fb9a99" stroke-width="2.5" stroke-linecap="round"/><path d="M49.8 88.7h0M47.2 82.9h0M36 63h0M74.7 32.2h0M62.7 35.2h0M98.2 65.8h0M59.1 34h0" stroke="#fb9a99" stroke-width="2.6" stroke-linecap="round"/><path d="M99.5 39.7h0M86.5 26.4h0M74.9 23.3h0M46.4 79.9h0M64.6 35.1h0M104.1 52.1h0M59 100.4h0M103.1 59.1h0M35.6 75.8h0M77.4 26h0" stroke="#fb9a99" stroke-width="2.7" stroke-linecap="round"/><path d="M69.3 43.8h0" stroke="#fb9a99" stroke-width="3.4" stroke-linecap="round"/><path d="M66.4 81.7h0" stroke="#fb9a99" stroke-width="3.8" stroke-linecap="round"/><path d="M46.1 91.2h0M106.9 84.2h0M84 34.8h0M62.9 38.7h0M46.6 62.3h0M70.5 36.8h0M105.5 73.8h0M103.1 70.3h0M106 47.9h0" stroke="#fdbf6f" stroke-width="2.0" stroke-linecap="round"/><path d="M97.1 64.6h0M82.1 87.8h0M69.9 32.7h0M50.4 75.1h0M60.9 103.7h0M79.7 85.9h0M57.1 79.1h0M55.9 49.1h0M62.7 94.6h0M96.3 99.6h0M102.5 66.7h0M45.7 92.5h0M98 42.8h0M84.1 43.4h0M52.8 84.1h0M90.3 30.8h0M93.4 30.1h0M40.6 91.3h0M60.9 41.3h0M77.6 83.9h0" stroke="#fdbf6f" stroke-width="2.1" stroke-linecap="round"/><path d="M78.3 39.8h0M99.1 61.7h0M54.4 83.2h0M49.1 81.9h0M61.1 34.1h0M41 72.3h0M63.7 36.8h0M43.1 52.9h0M55.9 44.6h0M105.5 51h0M58.5 102.1h0M60.3 61.5h0M70.1 76.4h0M80 23.6h0" stroke="#fdbf6f" stroke-width="2.2" stroke-linecap="round"/><path d="M75.6 96.4h0M84.9 44.7h0M38.6 64.7h0M42.5 71.9h0M56.2 82.1h0M59.3 53.4h0M83.7 100.3h0M53.3 90.4h0M38.5 83.5h0M90.3 56.9h0M35.7 51.2h0M35.7 48.4h0M104.2 66.1h0M40.2 78.5h0M103.4 80.8h0" stroke="#fdbf6f" stroke-width="2.3" stroke-linecap="round"/><path d="M54 81.5h0M62.1 91.9h0M82.3 26h0M34.2 57.8h0M92 43h0M88.4 43.4h0M94.5 79.2h0M97.8 37.7h0M75.7 27.5h0M92.4 50.1h0M90.6 88.2h0M56.9 46h0M108.4 56.4h0M103.7 73.7h0M53.3 85.7h0M66.7 105h0M107.3 41.9h0M111.6 60h0M57 76.8h0M64.4 23.8h0M69 90h0M63.8 91.1h0M70.5 97.6h0M105 84.2h0M36.6 53.5h0M39.9 74.4h0M46.5 89.4h0M52.9 67.1h0" stroke="#fdbf6f" stroke-width="2.4" stroke-linecap="round"/><path d="M51.4 94h0M88.8 84h0M89.3 90.5h0M91.9 90.4h0M110.7 72.3h0M99.5 53.4h0M76 103.3h0M49.5 65.7h0M108.2 58.4h0M75.3 36.9h0" stroke="#fdbf6f" stroke-width="2.5" stroke-linecap="round"/><path d="M101.9 37.2h0M55.9 84.3h0M95.7 57.3h0M88.9 32h0M57 101.2h0M105.2 42.2h0" stroke="#fdbf6f" stroke-width="2.6" stroke-linecap="round"/><path d="M55 29.9h0M82 81h0M43.3 76.9h0M100.6 45.2h0M110.8 68h0M81.2 95.3h0M57.4 95.3h0" stroke="#fdbf6f" stroke-width="2.7" stroke-linecap="round"/><path d="M86.7 28.2h0M112.4 58.2h0M72.3 27.9h0M43.6 39.4h0M45.4 35.5h0M88.8 46.3h0M33.6 68h0" stroke="#ff7f00" stroke-width="2.0" stroke-linecap="round"/><path d="M39.2 69.9h0M97.8 81.3h0M51 67.5h0M62.8 25.1h0M69 24.2h0M55.8 98.1h0M34.2 74.8h0M43.6 68h0M39.5 76h0M98.3 95.1h0M83.3 98.7h0M59.4 90.7h0M97.7 85.8h0M100.2 69h0M96.5 66.5h0M79.6 98.5h0M47 38.6h0M52.1 53.4h0M84.6 48.1h0M87.6 101h0M78.2 99.4h0M70.8 29h0M85.7 24.8h0M99.8 37.6h0M101.5 49.8h0M114.7 67.8h0M101.4 43.1h0M63.9 85.7h0M55.3 102.9h0M73.7 30h0M85.8 48.9h0M41.7 69.9h0M64 70.8h0M62.3 33.3h0" stroke="#ff7f00" stroke-width="2.1" stroke-linecap="round"/><path d="M58 25.7h0M53.6 56.4h0M103.1 64h0M91.3 58.4h0M79.2 41.3h0M90.4 101.6h0M90.8 54h0M68.1 104.4h0M89.1 103.7h0M36.7 61h0M32.3 57.6h0M106.6 52h0M85.7 97.7h0M84.4 29.2h0M33.9 62.7h0M113.5 76h0M39.6 57.2h0M112.4 77.1h0M50.4 95.6h0M52 28.4h0M99.9 46.7h0M107.3 70.5h0M90.1 43.4h0M108 52.4h0M58.5 61h0" stroke="#ff7f00" stroke-width="2.2" stroke-linecap="round"/><path d="M101.7 53.6h0M37.2 65.7h0M104.3 62.2h0M46.1 63.9h0M106 53.5h0M100.1 78h0M89.7 72.7h0M84.5 30.8h0M97.3 60.7h0M52.3 50.2h0M52.5 82.5h0M60.1 45.7h0M91.5 41.2h0M63.4 40.1h0M50 30.2h0M68.4 101.4h0M101.1 76.4h0M59.2 88.2h0M83.9 25.8h0M53.2 87.3h0M60 104.8h0" stroke="#ff7f00" stroke-width="2.3" stroke-linecap="round"/><path d="M112.4 72.5h0M113.1 55.8h0M52.7 38.7h0M36.2 57.5h0M44.3 65.6h0M48.4 75h0M75.2 25.8h0M85.4 95.8h0M44 93.8h0M105.8 82.8h0M71.5 32.8h0M50.4 46.5h0M63.6 27.5h0M80.7 25.3h0M71.8 92h0M91.4 48.3h0M65.6 36.8h0M59.5 78.6h0" stroke="#ff7f00" stroke-width="2.4" stroke-linecap="round"/><path d="M94.2 41.9h0M74.3 41.4h0M45 62.7h0M36.5 83.5h0M87.4 91.7h0M71.9 87.6h0M111.7 64.4h0M55.2 56.4h0M45.3 34h0M43.1 82.6h0M68.1 99.2h0M77.3 45.3h0M58.8 31.9h0M48.8 56.1h0M91.3 75.3h0M100.9 55.7h0M35.3 60.3h0M84.9 92.5h0" stroke="#ff7f00" stroke-width="2.5" stroke-linecap="round"/><path d="M82.4 85.5h0M52 30.3h0M87.1 102.9h0M64.6 98.6h0M41.2 89.2h0M85.8 99.3h0M81.4 98.7h0M69.5 38.6h0M112.7 67.3h0M101.7 80.6h0M88 87.4h0M97.4 91.5h0M44.7 56.9h0M67.4 90.9h0M79.4 100.6h0M46.9 97h0M75.8 98.1h0" stroke="#ff7f00" stroke-width="2.6" stroke-linecap="round"/><path d="M45.9 60.5h0M94.2 38.9h0M50.7 83.2h0M66.1 100.3h0M106 80.5h0M79.1 37.8h0M46.7 40.8h0M39.9 66.8h0M40.4 45.1h0M67.1 26.6h0M55.9 71.2h0M97.7 98.8h0M111.2 66h0" stroke="#ff7f00" stroke-width="2.7" stroke-linecap="round"/><path d="M60.7 47.8h0" stroke="#ff7f00" stroke-width="3.9" stroke-linecap="round"/><path d="M59.3 76.4h0" stroke="#ff7f00" stroke-width="4.2" stroke-linecap="round"/><path d="M66.5 85.2h0" stroke="#ff7f00" stroke-width="5.9" stroke-linecap="round"/><path d="M95.3 43.7h0M92.8 37.7h0M63 47.1h0M58.6 93.9h0M93.1 79.7h0" stroke="#ffff99" stroke-width="2.0" stroke-linecap="round"/><path d="M77.1 41.7h0M63 102.7h0M77.3 87.7h0M86.8 94.1h0M100.3 63.9h0M60.9 74.6h0M51 36.6h0M78 23.3h0M56.6 68.1h0M109.4 61.9h0M82.1 89.5h0M51 66.1h0M75.9 77.8h0M49.1 83.4h0M47.5 86.1h0" stroke="#ffff99" stroke-width="2.1" stroke-linecap="round"/><path d="M106.6 56.3h0M85.1 82h0M70.7 24.2h0M53.8 98.9h0M50.1 32.1h0M39.3 53.7h0M54.9 77.2h0M51.2 38h0M65.6 88.3h0M100.6 85.1h0M86.6 88.6h0M56.8 29.8h0M81.3 92.9h0M109.6 85.7h0M85.1 54.7h0" stroke="#ffff99" stroke-width="2.2" stroke-linecap="round"/><path d="M93.5 51.5h0M55.6 35.3h0M33.5 51.7h0M92.7 97.5h0M102.6 35h0M83.4 46.3h0" stroke="#ffff99" stroke-width="2.3" stroke-linecap="round"/><path d="M69.2 25.7h0M40 63.3h0M96.8 97.3h0M90.8 93.9h0M87.7 98.3h0M54.3 94.3h0M63.3 97.5h0" stroke="#ffff99" stroke-width="2.4" stroke-linecap="round"/><path d="M97.6 48.5h0M45.9 86h0M46.2 94h0M62.3 96.2h0M102.2 84.6h0M85.1 75.4h0M41.1 50.3h0" stroke="#ffff99" stroke-width="2.5" stroke-linecap="round"/><path d="M54.5 47.3h0M93.7 82.3h0M57.4 50.1h0M110.8 46.6h0M94.7 33.2h0M103.6 54.7h0M80.9 33h0M101.1 38.8h0" stroke="#ffff99" stroke-width="2.6" stroke-linecap="round"/><path d="M82.2 37.6h0M50.8 57.1h0M54.4 31.9h0M41.3 76.4h0M62.1 99.3h0" stroke="#ffff99" stroke-width="2.7" stroke-linecap="round"/><path d="M88 75.3h0" stroke="#ffff99" stroke-width="4.2" stroke-linecap="round"/><path d="M53.7 60.1h0" stroke="#ffff99" stroke-width="4.4" stroke-linecap="round"/><circle cx="67.1" cy="64.2" r="6.3" fill="#1f78b4"/><circle cx="67.1" cy="64.2" r="6.3" fill="url(#shd)"/><circle cx="79.5" cy="64.6" r="5.8" fill="#ff7f00"/><circle cx="79.5" cy="64.6" r="5.8" fill="url(#shd)"/><circle cx="73.7" cy="55.6" r="4" fill="#ffff99"/><circle cx="73.7" cy="55.6" r="4" fill="url(#shd)"/><circle cx="65.7" cy="53.3" r="3.7" fill="#a6cee3"/><circle cx="65.7" cy="53.3" r="3.7" fill="url(#shd)"/><circle cx="73.7" cy="72.9" r="3.8" fill="#fb9a99"/><circle cx="73.7" cy="72.9" r="3.8" fill="url(#shd)"/><circle cx="65.4" cy="75.2" r="3.5" fill="#ff7f00"/><circle cx="65.4" cy="75.2" r="3.5" fill="url(#shd)"/><circle cx="59.9" cy="70.6" r="2.9" fill="#ff7f00"/><circle cx="59.9" cy="70.6" r="2.9" fill="url(#shd)"/><circle cx="59.9" cy="57.3" r="2.9" fill="#fdbf6f"/><circle cx="59.9" cy="57.3" r="2.9" fill="url(#shd)"/><circle cx="81.2" cy="55" r="2.9" fill="#b15928"/><circle cx="81.2" cy="55" r="2.9" fill="url(#shd)"/><circle cx="86.7" cy="58.5" r="2.5" fill="#6a3d9a"/><circle cx="86.7" cy="58.5" r="2.5" fill="url(#shd)"/><circle cx="78.4" cy="49.8" r="2.5" fill="#1f78b4"/><circle cx="78.4" cy="49.8" r="2.5" fill="url(#shd)"/><circle cx="81.6" cy="73.5" r="2.9" fill="#fdbf6f"/><circle cx="81.6" cy="73.5" r="2.9" fill="url(#shd)"/><circle cx="86.4" cy="69.4" r="2.5" fill="#fdbf6f"/><circle cx="86.4" cy="69.4" r="2.5" fill="url(#shd)"/><circle cx="70.9" cy="49.6" r="2.1" fill="#e31a1c"/><circle cx="66.6" cy="47.5" r="1.7" fill="#e31a1c"/><circle cx="78.9" cy="78.1" r="2.1" fill="#1f78b4"/><circle cx="83.6" cy="78.4" r="1.8" fill="#33a02c"/><circle cx="69.7" cy="79.2" r="1.8" fill="#6a3d9a"/><circle cx="89.7" cy="63.8" r="2" fill="#fdbf6f"/><circle cx="56.4" cy="63.3" r="1.8" fill="#1f78b4"/><circle cx="62.2" cy="79.3" r="1.7" fill="#6a3d9a"/><circle cx="85.2" cy="51.8" r="1.8" fill="#b15928"/><rect x="119.2" y="18.6" width="84.6" height="92.2" fill="#f2f2f2"/><path d="M146.6 91.8h0M150.8 42.2h0M133.6 78h0M191.7 91.9h0M179.4 56.2h0" stroke="#1f78b4" stroke-width="2.1" stroke-linecap="round"/><path d="M178.3 28.6h0M132 71.4h0M150.5 48.6h0M161.9 81.5h0M195.6 56.6h0M150.4 97.7h0M192.6 67.3h0M182.9 35.8h0M127.3 61.4h0M145.4 70h0M127.8 66.6h0M180.2 35.1h0M156.7 98.7h0M169.8 37.4h0M128.9 61.4h0M138.6 56.9h0M195.3 42.5h0M177.5 55.8h0M181.4 44.4h0M187.8 36.5h0M176.2 58.7h0" stroke="#1f78b4" stroke-width="2.2" stroke-linecap="round"/><path d="M169 53.6h0M140.7 47.4h0M156.8 29.6h0M160.4 37h0M171.2 46.6h0M184.4 37.2h0M174 31.9h0M145.9 50.4h0M131.3 43.3h0M170.4 83.9h0M167.6 38.6h0M166.3 103.8h0M145.5 79.3h0M144.7 91.5h0M174.4 100.5h0M177.6 67h0M174 33.5h0M151.7 55.4h0M161 96.9h0" stroke="#1f78b4" stroke-width="2.3" stroke-linecap="round"/><path d="M182.4 64.7h0M174 51h0M159.6 35.4h0M166.3 42.9h0M172 34.8h0" stroke="#1f78b4" stroke-width="2.4" stroke-linecap="round"/><path d="M187.8 78.9h0M131.4 76.7h0M164.2 84.6h0M170.5 26.9h0M186.9 83h0M121.9 61h0M180.6 57.4h0M174.6 64.2h0M152.1 77.8h0M162.2 89.1h0M201.8 65.7h0M143.4 78.4h0M188.2 72.5h0M172.4 50.3h0M187.8 85.4h0M175.8 75.6h0" stroke="#1f78b4" stroke-width="2.5" stroke-linecap="round"/><path d="M139.7 53.5h0M149.9 83.3h0M141.4 60.1h0M187.9 65.8h0M189.1 64h0M136.5 59.9h0M191.8 45.9h0M175.2 97h0M181.6 99.8h0M151.3 51.1h0M185.8 66.1h0M177.4 53.3h0M138.6 79.4h0" stroke="#1f78b4" stroke-width="2.6" stroke-linecap="round"/><path d="M199.6 67.3h0M165.1 51.9h0M155.5 31.5h0M149.4 74h0M158 102.9h0M182 40.5h0M185.6 95.3h0M151 31.3h0M188.8 59.9h0M165.8 87h0M197 69.4h0M190.8 38h0M124.5 80.8h0" stroke="#1f78b4" stroke-width="2.7" stroke-linecap="round"/><path d="M164.6 93.7h0M146.8 42.7h0M190 78.5h0M157.8 80.4h0M136.5 96.5h0M172.8 84.5h0M152.3 46.8h0M138.5 42.5h0M179.9 37.6h0M180.6 65.2h0M187.6 95.3h0" stroke="#1f78b4" stroke-width="2.8" stroke-linecap="round"/><path d="M164.2 74.6h0M146.5 88.5h0M141.9 49.2h0M180 54.3h0M154.6 52.1h0" stroke="#1f78b4" stroke-width="2.9" stroke-linecap="round"/><path d="M150.9 62h0" stroke="#1f78b4" stroke-width="3.4" stroke-linecap="round"/><path d="M157.7 53.2h0" stroke="#1f78b4" stroke-width="3.7" stroke-linecap="round"/><path d="M158.5 76.8h0" stroke="#1f78b4" stroke-width="4.3" stroke-linecap="round"/><path d="M162.2 52.6h0M154.6 56.2h0" stroke="#1f78b4" stroke-width="4.7" stroke-linecap="round"/><path d="M160.5 94.5h0M177.1 57.3h0M181 36.3h0M147.7 67.8h0M124.1 76.9h0M147.8 66.3h0" stroke="#33a02c" stroke-width="2.1" stroke-linecap="round"/><path d="M143.1 50.7h0M188.8 53.7h0M183.4 50.8h0M144.2 101.3h0M128.7 85.8h0M199 62.5h0M141.3 74h0M128.6 83.9h0M171.7 97.2h0M128.8 41.1h0M138.7 64.9h0M192.1 47.5h0M195.7 60.2h0M128.8 65.5h0M189.7 42.9h0M153.7 37h0M133.5 88.5h0M146.2 47h0M163.4 34.7h0M186.2 97.1h0M193.5 65.1h0" stroke="#33a02c" stroke-width="2.2" stroke-linecap="round"/><path d="M154.9 42.6h0M148.6 95.3h0M187.2 40h0M190 91.5h0M134.1 87h0M192.5 82.5h0M135.5 73.2h0M139.6 31.4h0M196.4 76.3h0M174.7 102.6h0M162.4 49.9h0M160.9 79.4h0M178.2 61.6h0M198.9 58.1h0M134.3 80.8h0M192.8 53.1h0M133.5 91h0M141.9 62h0M167.4 31h0M149 97h0" stroke="#33a02c" stroke-width="2.3" stroke-linecap="round"/><path d="M179.4 97h0M165 34.3h0M138.7 72h0M123.5 59.6h0M178.5 51.7h0M183.9 76.1h0M153.6 41.7h0M175.5 47.9h0M168.4 81.7h0M130.7 73.1h0M169.3 97.1h0M178.9 49.6h0" stroke="#33a02c" stroke-width="2.4" stroke-linecap="round"/><path d="M168.8 79.2h0M168.6 33.2h0M163 27.5h0M181.3 97.7h0M183.9 78.3h0M143.7 28.6h0M183.8 90.7h0M173.1 40.5h0M190.9 76h0M146.9 81.4h0M135.4 40.7h0M161.7 48.1h0M198.5 77h0M143.1 58.7h0M146 31.8h0M146.4 99.6h0M153.3 35.2h0" stroke="#33a02c" stroke-width="2.5" stroke-linecap="round"/><path d="M137.7 40.3h0M145.2 56.6h0M155 89.2h0M170.5 98.9h0M130.4 63.9h0M144.8 71.5h0M186.4 47.6h0M199.7 55.9h0M142.4 64.4h0M133.1 70.2h0M194.1 83.1h0M174.6 46.3h0M141.7 38.1h0M161.2 34.4h0M185.6 84.4h0" stroke="#33a02c" stroke-width="2.6" stroke-linecap="round"/><path d="M157.5 89.3h0M136.9 57.9h0M160.6 32.1h0M140.3 80.2h0M170.4 74.9h0M177.8 46.1h0M190.1 47.6h0M135.5 63.3h0M144.6 43.8h0" stroke="#33a02c" stroke-width="2.7" stroke-linecap="round"/><path d="M185.9 50h0M197.3 59.1h0M158.8 28.7h0M136.5 83.4h0M149.9 58.9h0M170.7 30h0M168.2 36.6h0M135.3 89.4h0M136.1 94h0M130.5 52.2h0M193.7 43.5h0M147.2 83.1h0M178.2 80.8h0M133.2 62.7h0M161 29.7h0M194.6 54.8h0" stroke="#33a02c" stroke-width="2.8" stroke-linecap="round"/><path d="M125.3 55.7h0M123.4 57.4h0M201.2 59.4h0" stroke="#33a02c" stroke-width="2.9" stroke-linecap="round"/><path d="M170.2 67.2h0M155.1 60.1h0" stroke="#33a02c" stroke-width="4.0" stroke-linecap="round"/><path d="M187.7 88.2h0M178.8 88.6h0M175.4 55.6h0M180 29.4h0M170.8 36.2h0M162.7 86.7h0M126.3 66.5h0" stroke="#6a3d9a" stroke-width="2.1" stroke-linecap="round"/><path d="M133.7 55.3h0M153.8 33.6h0M176.9 78.9h0M125.5 71.1h0M175.8 65.7h0M182.1 42.7h0M197.2 79.2h0M166.3 92.2h0M131.6 38.9h0M152.8 43.3h0M144.2 65.1h0M187.8 90.2h0M146.6 37.6h0M166.3 76.4h0M129.1 53.4h0M134.8 60.3h0M186.7 71.1h0M154.2 83.1h0M128.5 63.4h0M144.7 80.7h0M150.9 45h0M181.7 34.7h0" stroke="#6a3d9a" stroke-width="2.2" stroke-linecap="round"/><path d="M148.9 65.3h0M128.8 82.2h0M162.3 43.4h0M133.5 42.5h0M190.7 84.4h0M183.7 31.6h0M143.6 62.3h0M185.7 79.8h0M146.8 73.9h0M173 77.4h0M155.4 48.7h0M156.2 50.7h0" stroke="#6a3d9a" stroke-width="2.3" stroke-linecap="round"/><path d="M146.4 71.8h0M175.1 52.3h0M197 45.7h0M131.8 57.6h0M153.8 81h0M123.3 72.3h0M178.1 38.8h0M154.2 44.2h0M176.8 33.4h0M135 84.8h0M150.1 81.6h0" stroke="#6a3d9a" stroke-width="2.4" stroke-linecap="round"/><path d="M136.1 79.8h0M198.9 70.1h0M167.9 87h0M151.6 87.5h0M150.3 56.7h0M136.1 76.1h0M183.4 85.7h0M200.8 62.5h0M139 46.9h0M141.2 94.9h0M146.3 86.5h0M145.7 64.1h0" stroke="#6a3d9a" stroke-width="2.5" stroke-linecap="round"/><path d="M160.6 90.8h0M133.7 75.7h0M139.8 58.3h0M130.8 81.9h0M146.3 101.3h0M129.5 49.1h0M127.4 44.1h0M200.4 73.6h0M192.9 77.8h0M141.5 45.4h0M149.7 33.3h0M138.7 44.9h0" stroke="#6a3d9a" stroke-width="2.6" stroke-linecap="round"/><path d="M195.6 48.1h0M189.5 89.7h0M197.6 53h0M163.8 48.6h0M145.6 45.4h0M155.6 92.4h0M149.8 43.7h0M181.9 83.3h0M138.5 84.3h0M158.8 24.6h0" stroke="#6a3d9a" stroke-width="2.7" stroke-linecap="round"/><path d="M143.3 74.7h0M171.1 78.3h0M191.9 65.3h0M170.4 51.4h0M153 85.9h0M197.4 50.5h0" stroke="#6a3d9a" stroke-width="2.8" stroke-linecap="round"/><path d="M183.5 62.5h0M189.7 39.9h0M157.1 36.8h0" stroke="#6a3d9a" stroke-width="2.9" stroke-linecap="round"/><path d="M153.1 63.8h0" stroke="#6a3d9a" stroke-width="3.0" stroke-linecap="round"/><path d="M150.8 65.9h0" stroke="#6a3d9a" stroke-width="3.1" stroke-linecap="round"/><path d="M155.9 71.2h0" stroke="#6a3d9a" stroke-width="4.6" stroke-linecap="round"/><path d="M151 85h0M129.9 58.6h0M172.3 82.2h0M170.6 53.3h0" stroke="#a6cee3" stroke-width="2.1" stroke-linecap="round"/><path d="M192.9 54.9h0M145.3 62.3h0M142.2 55h0M200.8 71.7h0M161 45.2h0M161.9 92.3h0M128.3 59.5h0M151.7 25.9h0M182.9 44.4h0M190.3 57.9h0M150.5 53.3h0M132.3 55.9h0M199.3 79.1h0M132.6 92.9h0M179.4 91.1h0M152.1 97.6h0" stroke="#a6cee3" stroke-width="2.2" stroke-linecap="round"/><path d="M160.7 24.7h0M162.2 98.1h0M173.6 75.1h0M132.6 84.4h0M155 27.9h0M159.3 97.8h0M199.9 60.7h0M193.2 69.6h0M177.6 41.8h0M140.7 63.1h0M166.3 93.8h0M127 48.4h0M165 41.6h0M177.9 73.5h0M121.8 71.3h0M141.4 53.3h0M148 72.8h0M157 25.5h0" stroke="#a6cee3" stroke-width="2.3" stroke-linecap="round"/><path d="M141.3 67.6h0M149.4 87.6h0M180 92.9h0M171.1 81h0M128 70.4h0M164.7 82.8h0M187 58.5h0M137.5 35.1h0M138.1 69.3h0" stroke="#a6cee3" stroke-width="2.4" stroke-linecap="round"/><path d="M182.6 88h0M178.6 64.5h0M187.4 34.7h0M139.1 81.7h0M197.2 83h0M155.2 80.2h0M161.7 38.5h0M173.1 103.3h0" stroke="#a6cee3" stroke-width="2.5" stroke-linecap="round"/><path d="M148 85.3h0M191.5 51.8h0M147.6 54.2h0M161.3 101.8h0M153.4 88.4h0M179.5 75.4h0M143.1 68.1h0" stroke="#a6cee3" stroke-width="2.6" stroke-linecap="round"/><path d="M126.3 80.3h0M123.4 54.5h0M135.6 45.9h0M140.3 43.9h0M189.7 51.6h0M136.1 51.4h0M142.3 71.7h0M163 100.8h0M139.7 74.6h0M174.2 58.7h0M182.2 81.5h0" stroke="#a6cee3" stroke-width="2.7" stroke-linecap="round"/><path d="M140.9 40.1h0M131.8 74.5h0M175.9 42.5h0M147.1 58h0M172.3 28.1h0M143.4 41.7h0M182.2 49.4h0" stroke="#a6cee3" stroke-width="2.8" stroke-linecap="round"/><path d="M159.2 92.3h0M171.8 71.5h0" stroke="#a6cee3" stroke-width="2.9" stroke-linecap="round"/><path d="M165.8 54.2h0" stroke="#a6cee3" stroke-width="4.2" stroke-linecap="round"/><path d="M201.2 64.1h0M178.2 92.3h0M145.9 84.5h0M126.1 60h0M155.8 100.5h0M191.3 63.6h0M143.9 36.9h0M171.3 101.8h0" stroke="#b15928" stroke-width="2.1" stroke-linecap="round"/><path d="M155.7 78.1h0M163 103h0M170.4 49.7h0M174.5 73.2h0M151.8 36.4h0M130.5 40.9h0M146 59.9h0M150.7 89.6h0M156.4 103.3h0M173.7 54.2h0M174.8 40.9h0M123.1 67.8h0M131.4 85.4h0M159.5 30.8h0M157.3 92.2h0" stroke="#b15928" stroke-width="2.2" stroke-linecap="round"/><path d="M173.7 81.1h0M188.9 49.2h0M175.9 35.9h0M168.7 46h0M127.2 82.6h0M178.6 31.6h0M148.3 50.6h0M162.7 32.8h0M193.6 48.4h0M125 72.8h0M182.4 91.6h0M183.9 66.4h0" stroke="#b15928" stroke-width="2.3" stroke-linecap="round"/><path d="M133.7 58.6h0M197.4 57h0M147.2 70.1h0M125.6 58.1h0M184.7 69.9h0M177.2 85.9h0M155.1 97.3h0M185.5 63.1h0M180.3 41.2h0M166.4 26.1h0M185.1 35.8h0M182.3 77.7h0M122.2 56h0M163.7 81.5h0" stroke="#b15928" stroke-width="2.4" stroke-linecap="round"/><path d="M151.4 34.1h0M128.9 79.2h0M186.7 69h0M155.4 25.8h0M158.5 26.6h0M150.1 35.6h0M135.4 48.2h0M163.5 29.1h0" stroke="#b15928" stroke-width="2.5" stroke-linecap="round"/><path d="M139.8 68.6h0M139.4 93.5h0M148.5 80.7h0M164.5 97.4h0M138.6 88h0" stroke="#b15928" stroke-width="2.6" stroke-linecap="round"/><path d="M175.9 44.5h0M125.6 46.8h0M194.4 52.5h0M149.6 26.3h0M180.3 94.7h0M154.2 100.1h0M189.2 68.5h0" stroke="#b15928" stroke-width="2.7" stroke-linecap="round"/><path d="M193.5 88.9h0M127 50.4h0M182.1 79.6h0M134.3 66.5h0M155.5 40.6h0M180.9 32.5h0M163.5 105.1h0M159.1 44.2h0" stroke="#b15928" stroke-width="2.8" stroke-linecap="round"/><path d="M156.9 47.3h0M136.8 44.3h0M138.3 54.9h0M129.8 44.5h0M163.5 39.2h0M152.9 61.2h0" stroke="#b15928" stroke-width="2.9" stroke-linecap="round"/><path d="M152.8 59.1h0M161.1 74.6h0" stroke="#b15928" stroke-width="3.1" stroke-linecap="round"/><path d="M172.5 61.7h0" stroke="#b15928" stroke-width="4.7" stroke-linecap="round"/><path d="M142.3 43.8h0M175.5 61.2h0M190.6 66.5h0M148.5 41.3h0M141.4 77.8h0M157.9 86.3h0M153 51.2h0M178.6 95.5h0" stroke="#b2df8a" stroke-width="2.1" stroke-linecap="round"/><path d="M158.7 81.8h0M136.3 69.8h0M137.3 64.7h0M165.4 27.3h0M142.6 52.2h0M170.4 43.7h0M160.6 99.4h0M159.6 101.4h0M125.3 82.9h0M186.8 60.3h0M177.3 77h0M141.8 81.2h0M152.7 101.2h0M139.2 39.7h0M143.7 49.3h0" stroke="#b2df8a" stroke-width="2.2" stroke-linecap="round"/><path d="M134.3 39h0M130.7 55.7h0M197.5 71h0M177.4 68.6h0M126.9 64.4h0M136 36h0M198.3 66.1h0M152.5 48.9h0M129.6 74.9h0M149.2 67.1h0" stroke="#b2df8a" stroke-width="2.3" stroke-linecap="round"/><path d="M134.8 92.1h0M157.6 42.7h0M180 42.9h0M185.7 75.1h0M170.8 41.3h0M173.4 48.4h0M175 77.2h0M184 83.7h0M169.7 34.8h0M127.3 53.7h0M123.1 66.2h0M168.2 83.4h0" stroke="#b2df8a" stroke-width="2.4" stroke-linecap="round"/><path d="M195.3 65.4h0M166.3 89.4h0M125.2 50.3h0M199.2 50.2h0M175.6 32.1h0M144.8 38.2h0M144.5 99.5h0M179.2 77.1h0" stroke="#b2df8a" stroke-width="2.5" stroke-linecap="round"/><path d="M148.6 52.4h0M161.2 104.2h0M136.3 33.3h0M137.4 81h0M197 63.8h0M191.3 88.4h0" stroke="#b2df8a" stroke-width="2.6" stroke-linecap="round"/><path d="M154.8 102h0M190.6 61.6h0M144 85.5h0M139.9 97.3h0M167.5 95.9h0M186.9 81.1h0M143.5 83h0M176.4 91.3h0M184.2 98h0M132.8 82.5h0" stroke="#b2df8a" stroke-width="2.7" stroke-linecap="round"/><path d="M138.7 91.2h0M188.4 74.9h0M143 39.4h0M171.5 38.3h0M150.1 69.2h0M172.4 65.1h0M183 54.2h0M190.4 93.2h0" stroke="#b2df8a" stroke-width="2.8" stroke-linecap="round"/><path d="M132.3 52.7h0" stroke="#b2df8a" stroke-width="2.9" stroke-linecap="round"/><path d="M169 55.5h0" stroke="#b2df8a" stroke-width="3.3" stroke-linecap="round"/><path d="M169.3 62.6h0" stroke="#b2df8a" stroke-width="3.4" stroke-linecap="round"/><path d="M152.1 72.5h0" stroke="#b2df8a" stroke-width="3.5" stroke-linecap="round"/><path d="M158.6 73.3h0" stroke="#b2df8a" stroke-width="4.1" stroke-linecap="round"/><path d="M183.6 34h0M133.3 48.6h0M134.9 69h0M138.2 37.9h0M156.6 90.7h0M186.4 64.5h0M136.5 38h0M143.8 45.7h0M176 67.2h0M176 54.2h0" stroke="#cab2d6" stroke-width="2.2" stroke-linecap="round"/><path d="M153.7 96.1h0M184.7 61.1h0M172.7 44.1h0M173.3 26.6h0M132.6 44.6h0M135 54h0M164.6 36.1h0M194 85.5h0" stroke="#cab2d6" stroke-width="2.3" stroke-linecap="round"/><path d="M121.4 67.3h0M173.3 56h0M150.6 95.9h0M155.3 53.8h0M181.9 95.4h0M166.1 44.5h0M141.4 34.3h0M155.2 36.4h0M130.8 78.4h0M176.7 51.4h0M135.2 77.8h0M195.8 71.2h0M175.4 50.1h0" stroke="#cab2d6" stroke-width="2.4" stroke-linecap="round"/><path d="M175.5 26.8h0M137 67.7h0M188.6 57.7h0M180.6 86.4h0M169.9 93.6h0M170.8 95.5h0M133.6 36.2h0M172.4 42.1h0M169.8 25.1h0M175.3 80.2h0" stroke="#cab2d6" stroke-width="2.5" stroke-linecap="round"/><path d="M169.7 86.5h0M155.7 34.2h0M177 49.4h0M144.6 97.4h0M157.4 31.6h0M152 75h0" stroke="#cab2d6" stroke-width="2.6" stroke-linecap="round"/><path d="M188.9 45.2h0M152.1 102.9h0M179.5 67.9h0M140.5 65.7h0M150.5 100.7h0M169.1 76.9h0M136.9 86.7h0M162.1 94.8h0M172.8 73.5h0M168 93.2h0" stroke="#cab2d6" stroke-width="2.7" stroke-linecap="round"/><path d="M168.6 104.3h0M131.8 89h0M161.7 85.1h0M152.6 66.8h0M163.2 25.4h0M148.5 47.2h0M171.3 103.6h0M158.3 55.7h0" stroke="#cab2d6" stroke-width="2.8" stroke-linecap="round"/><path d="M136.9 53.4h0M164.5 89.8h0" stroke="#cab2d6" stroke-width="2.9" stroke-linecap="round"/><path d="M163.1 56.4h0" stroke="#cab2d6" stroke-width="4.0" stroke-linecap="round"/><path d="M166.3 70.2h0" stroke="#cab2d6" stroke-width="4.3" stroke-linecap="round"/><path d="M167.1 46.1h0M194.6 68.9h0M195.3 58.7h0M133.6 57.1h0M158.1 39.3h0M135 70.7h0" stroke="#e31a1c" stroke-width="2.1" stroke-linecap="round"/><path d="M154.5 50.4h0M186.2 76.8h0M183.5 68.6h0M179 58.1h0M191.6 59.4h0M173 98.5h0M187.1 51.3h0M202 67.3h0M166 101.9h0M146.7 51.8h0M130 39.2h0M190.1 86.1h0M164.6 24.3h0M169.1 28.8h0M165.5 105.3h0M185 55.1h0M159.6 80.6h0M178.3 101.3h0M141.1 50.8h0" stroke="#e31a1c" stroke-width="2.2" stroke-linecap="round"/><path d="M147.6 38.7h0M178.8 69.5h0M154.4 87h0M190.4 72.2h0M150.4 79.2h0M166.2 37.5h0M142.3 84.9h0M188.8 87h0M127.1 72.3h0M123 64.6h0M144.7 73.1h0M151.3 38.1h0M123.9 70.5h0M177.4 94.3h0M176.8 62.5h0M190.7 44.4h0M143.2 70.1h0M173.9 82.9h0M185.3 71.7h0M162.9 46.5h0M126.5 69.2h0M184 48.8h0M135.8 81.6h0M191.7 39.6h0" stroke="#e31a1c" stroke-width="2.3" stroke-linecap="round"/><path d="M179.3 47.5h0M169.1 88.3h0M199.8 52.2h0M130.2 84.3h0M198.3 54.6h0M183.8 80.4h0M177.2 96.9h0M193 73.9h0M134 94.3h0M163.8 77.5h0M193.5 50.4h0M182.5 75.2h0M147.4 102.7h0M166.8 50.3h0" stroke="#e31a1c" stroke-width="2.4" stroke-linecap="round"/><path d="M159.5 46.7h0M179.7 79h0M190.4 70.1h0M150.6 28.9h0M127.6 46h0M147.3 97.5h0M201.1 70.1h0M137.3 74.4h0M143.5 56h0M191.5 56.7h0M137.5 89.5h0M193 63.3h0M176.1 73.7h0M174.3 91.6h0M145.5 77.6h0" stroke="#e31a1c" stroke-width="2.5" stroke-linecap="round"/><path d="M186.4 37.5h0M177.5 60h0M137.1 78h0M168.6 44.3h0M188.9 83.8h0M139.8 35h0M172.3 100.4h0M148.2 45.3h0M133.5 72.3h0M195.1 63.1h0M143.9 76.7h0M132.5 41h0M138.3 32.9h0M158 84h0M180.4 50.7h0" stroke="#e31a1c" stroke-width="2.6" stroke-linecap="round"/><path d="M171.8 33.1h0M142.5 99.1h0M177.7 84h0M148.2 30.4h0M196.3 67.4h0M141.9 87.1h0M148 93.5h0M148.9 60.8h0M153.5 29.8h0M145.3 95h0M152.4 90.9h0M165.6 99.5h0M193.1 71.6h0M150 76.2h0M175.8 84h0M139.9 37.3h0M183.2 46.1h0M131.6 87.2h0" stroke="#e31a1c" stroke-width="2.7" stroke-linecap="round"/><path d="M186.3 86.4h0M175.2 89.4h0M145.9 68h0M131.7 65.3h0M145.9 33.8h0M197.8 81.2h0M172.5 58h0M186.4 41.9h0M153.1 70.1h0" stroke="#e31a1c" stroke-width="2.8" stroke-linecap="round"/><path d="M144.4 30.7h0M167.7 24.9h0" stroke="#e31a1c" stroke-width="2.9" stroke-linecap="round"/><path d="M154.4 74.3h0" stroke="#e31a1c" stroke-width="4.2" stroke-linecap="round"/><path d="M173.1 90.3h0M139.9 49.1h0M159.8 102.9h0" stroke="#fb9a99" stroke-width="2.1" stroke-linecap="round"/><path d="M156.6 39.2h0M160.5 42.8h0M180.2 89.4h0M125.5 76.2h0M134.6 82.6h0M143 80h0M138 76h0M198 74.9h0M191.2 90.2h0M171.4 48.3h0M169.5 47.4h0M139.7 60.9h0M148.9 37.6h0M181.6 61.9h0" stroke="#fb9a99" stroke-width="2.2" stroke-linecap="round"/><path d="M161.2 27.2h0M177.7 89.7h0M128.9 76.5h0M147.3 61.6h0M175.2 37.9h0M187.8 93.4h0M123.4 74.8h0M156.4 27.1h0M173.6 79.6h0M140.9 90.1h0M161.9 77.8h0M160.9 87.1h0M141.8 75.8h0M123.3 78.3h0M122.9 62.2h0M182.7 96.9h0M184.9 87.8h0" stroke="#fb9a99" stroke-width="2.3" stroke-linecap="round"/><path d="M139.4 77.2h0M180.9 63.3h0M167 97.6h0M138 62.7h0M165.9 32.1h0M142.7 47.5h0M169.2 101.1h0M176.6 101.6h0M159.8 95.9h0M142.7 66.1h0M143.9 93h0" stroke="#fb9a99" stroke-width="2.4" stroke-linecap="round"/><path d="M131.1 68.9h0M167.1 84.8h0M153.7 25.5h0M128.1 74.4h0M173.9 68.4h0M172.4 36.7h0M132.1 37.2h0M144.6 51.9h0M159.1 38h0M158.9 41.4h0" stroke="#fb9a99" stroke-width="2.5" stroke-linecap="round"/><path d="M128.1 56.1h0M171.7 86h0M183.9 58.8h0M148.8 100.6h0M156.2 76.2h0M127.7 57.9h0M187.9 76.7h0" stroke="#fb9a99" stroke-width="2.6" stroke-linecap="round"/><path d="M181.5 55.7h0M201 57.3h0M176.4 81.8h0M125.2 78.4h0M186.6 91.7h0" stroke="#fb9a99" stroke-width="2.7" stroke-linecap="round"/><path d="M168 48.5h0M143.2 94.7h0M143 32.8h0M148.1 78.1h0M183.4 56.8h0M176.6 30.3h0M165.8 48.7h0M194.3 66.9h0M196.5 74.1h0M136.6 91.6h0M121.7 63.4h0M184.6 64.7h0M133.5 46.4h0" stroke="#fb9a99" stroke-width="2.8" stroke-linecap="round"/><path d="M175.1 93.9h0" stroke="#fb9a99" stroke-width="2.9" stroke-linecap="round"/><path d="M126.1 52.2h0M182.2 73.7h0M165.8 46.9h0M185.8 44.4h0" stroke="#fdbf6f" stroke-width="2.1" stroke-linecap="round"/><path d="M185.5 33.9h0M152.3 32.6h0M138.3 59.8h0M150.2 46.9h0M188.2 41.6h0M181.9 30.8h0M148.1 56.6h0M171 73.2h0M180.9 48.2h0" stroke="#fdbf6f" stroke-width="2.2" stroke-linecap="round"/><path d="M172.9 30.2h0M149.3 71.7h0M160.5 82.2h0M186.4 72.9h0M153.8 76.9h0M140.3 83.7h0M199.5 64.1h0M131.7 49.5h0M141.5 57.9h0M144.3 66.6h0M145.3 29.2h0" stroke="#fdbf6f" stroke-width="2.3" stroke-linecap="round"/><path d="M178.7 40.6h0M147.5 27.7h0M142.1 92.4h0M153.1 92.6h0M135.5 56.5h0M149 55.3h0M181 70.6h0M182.8 94h0M123 52.8h0M145.1 41.9h0M186.9 45.7h0" stroke="#fdbf6f" stroke-width="2.4" stroke-linecap="round"/><path d="M145.3 36.1h0M128.2 68.5h0M156.9 45.1h0M146.1 66h0M168.2 51.4h0M156.5 85.4h0M180.2 60.2h0M167.2 29.3h0M122.5 69.4h0M126.9 84.3h0M159.8 85.4h0M129.5 42.7h0M135.2 43.1h0M129.8 89.9h0M175.7 69.5h0M193.6 59.4h0" stroke="#fdbf6f" stroke-width="2.5" stroke-linecap="round"/><path d="M177.4 71.1h0M190.4 54.6h0M149.2 90.3h0M137.7 95h0M152.6 84h0M192.8 84.4h0M188.8 80.9h0M182 58.8h0" stroke="#fdbf6f" stroke-width="2.6" stroke-linecap="round"/><path d="M155.7 81.9h0M164.3 45.5h0M176.4 40h0M194.3 46.4h0M174.5 86h0" stroke="#fdbf6f" stroke-width="2.7" stroke-linecap="round"/><path d="M195.6 86.2h0M137.5 48.5h0M132.3 59.8h0M170.1 31.9h0" stroke="#fdbf6f" stroke-width="2.8" stroke-linecap="round"/><path d="M160.6 55.3h0" stroke="#fdbf6f" stroke-width="3.1" stroke-linecap="round"/><path d="M169.5 70.1h0" stroke="#fdbf6f" stroke-width="4.5" stroke-linecap="round"/><path d="M162.6 90.7h0M144.7 89.3h0M164.3 43.3h0M179.1 85.4h0M183.2 41.6h0M174.6 98.9h0M172.3 45.6h0" stroke="#ff7f00" stroke-width="2.1" stroke-linecap="round"/><path d="M177.6 37.2h0M134.7 61.8h0M167.5 101.5h0M170.2 39.5h0M159.4 87.1h0M181.5 68.6h0M130.7 61.7h0M157.3 96.6h0M181.3 76.3h0M143 88.8h0M176.6 87.3h0M127.5 77.7h0M158.4 105.3h0M159.7 51.2h0M124.8 48.7h0M186.3 89h0M164.8 91.6h0M191.3 74.1h0M134.1 64.7h0M184.9 51.6h0M193.8 79.3h0M195.8 84.1h0" stroke="#ff7f00" stroke-width="2.2" stroke-linecap="round"/><path d="M170.6 90h0M124.6 52.6h0M128.7 87.9h0M195.6 82.3h0M184.4 47.3h0M143.7 35.2h0M171.2 55.3h0M191.7 68.9h0M173.2 95.4h0M137.8 66.2h0M180 39.4h0M188.3 61.7h0M199.6 75.4h0M196.1 51.9h0M167.9 27.7h0M186.3 32.7h0M128.3 51.7h0M174.2 66.5h0M136.7 41.9h0" stroke="#ff7f00" stroke-width="2.3" stroke-linecap="round"/><path d="M193.9 41.2h0M184.8 93h0M135 37.4h0M162.6 40.8h0M157.8 49.7h0M148.1 63.4h0M143.4 60.4h0M134.5 34.7h0M168.1 99.7h0M156.9 87.5h0M137 72.1h0M148.1 32.2h0" stroke="#ff7f00" stroke-width="2.4" stroke-linecap="round"/><path d="M150 93.2h0M165.1 95.6h0M178.6 34.1h0M158.3 99.9h0M152.3 40.5h0M154.7 85.4h0M130.4 66.7h0M141.5 42.1h0M162.8 30.9h0M173.3 38.8h0M152.5 99.2h0M191.6 49.7h0M146.9 35.6h0M185.6 57.1h0M140.3 99.3h0M166.4 83.2h0M137.2 46.5h0" stroke="#ff7f00" stroke-width="2.5" stroke-linecap="round"/><path d="M143.2 90.4h0M139.9 86.6h0M182.3 72h0M194.7 77.4h0M173.7 87.8h0M144.4 54.2h0M133.9 51.3h0M166.6 81.2h0M129.4 47.2h0M190.8 81.8h0M178.4 43.5h0M174.7 71h0M140.5 71.3h0M164.2 88h0M181.2 46.1h0M174.1 43.1h0" stroke="#ff7f00" stroke-width="2.6" stroke-linecap="round"/><path d="M180 72.3h0M147.5 49h0M193.4 75.8h0M162.9 36.4h0M158.2 94.6h0M131.7 46.6h0M155.4 95.1h0M168.4 90h0M198.1 48h0M200 54h0" stroke="#ff7f00" stroke-width="2.7" stroke-linecap="round"/><path d="M194.7 80.7h0M177.6 75.3h0M193.5 61.2h0M152.5 53.5h0M192 79.8h0M160.2 39.5h0M131.8 91.1h0M129.5 71.6h0M154.6 46.3h0M152.8 27.7h0M180.1 81.5h0M154.1 39.2h0M140.9 32.6h0M162.9 67.8h0" stroke="#ff7f00" stroke-width="2.8" stroke-linecap="round"/><path d="M176.6 99.5h0M191.6 42.4h0M132.4 80.2h0M154.7 104.1h0" stroke="#ff7f00" stroke-width="2.9" stroke-linecap="round"/><path d="M146.4 75.7h0M154.1 78.8h0" stroke="#ffff99" stroke-width="2.1" stroke-linecap="round"/><path d="M172.3 53.4h0M170.9 91.8h0M194.8 72.5h0M184.2 82.1h0M149.9 39.4h0M124.9 65.4h0M186.7 55.3h0M159.5 88.8h0M145.5 82.3h0M195.5 45.1h0M151.5 80.9h0M189.6 36.1h0M153.7 98h0M176.8 64.2h0M146 53.6h0" stroke="#ffff99" stroke-width="2.2" stroke-linecap="round"/><path d="M142.2 36.3h0M173.6 35.4h0M196.3 54.1h0M182.3 89.7h0M185.3 59.7h0M193.9 57.6h0M132.7 67.2h0M121.8 58.8h0M140.3 56.3h0M125.4 74.4h0M150.5 103.6h0M176.9 27.8h0" stroke="#ffff99" stroke-width="2.3" stroke-linecap="round"/><path d="M182.8 38.4h0M142.6 30.5h0M191.9 86.8h0M179.7 44.7h0M197.3 61.8h0M182.5 60.5h0M159.9 49.3h0M149.6 99.1h0M164.2 31.8h0" stroke="#ffff99" stroke-width="2.4" stroke-linecap="round"/><path d="M184.2 73.3h0M188.6 55.6h0M166.7 34.2h0M145.7 93.1h0" stroke="#ffff99" stroke-width="2.5" stroke-linecap="round"/><path d="M149.3 102.5h0M185.4 53.2h0M181.1 52.7h0M152.6 94.8h0M184.4 43h0M175.4 28.8h0M185 40.4h0M165.1 29.9h0" stroke="#ffff99" stroke-width="2.6" stroke-linecap="round"/><path d="M125.5 62.9h0M172.9 93.2h0M188.8 38.1h0M172 88.6h0M142 96.5h0" stroke="#ffff99" stroke-width="2.7" stroke-linecap="round"/><path d="M144.5 47.7h0M139.1 51h0M167.7 41.6h0M167 78.7h0M179.5 99.9h0M125.1 67.9h0M164.7 79.6h0M165.4 39.9h0M146.3 40.3h0M198.9 72.6h0M162.3 64.2h0" stroke="#ffff99" stroke-width="2.8" stroke-linecap="round"/><path d="M157.8 33.6h0M188.6 70.5h0M148.1 75.5h0" stroke="#ffff99" stroke-width="2.9" stroke-linecap="round"/><path d="M167.6 73.7h0" stroke="#ffff99" stroke-width="3.6" stroke-linecap="round"/><circle cx="157.6" cy="65.8" r="3.6" fill="#b2df8a"/><circle cx="157.6" cy="65.8" r="3.6" fill="url(#shd)"/><circle cx="164.1" cy="60.8" r="2.2" fill="#b15928"/><circle cx="166.1" cy="65.3" r="2.5" fill="#1f78b4"/><circle cx="166.1" cy="65.3" r="2.5" fill="url(#shd)"/><circle cx="159.6" cy="59.8" r="1.8" fill="#ffff99"/><circle cx="161.6" cy="70.8" r="2" fill="#fb9a99"/><circle cx="168.1" cy="58.8" r="1.6" fill="#b15928"/><rect x="205.6" y="18.6" width="88" height="92.2" fill="#f2f2f2"/><circle cx="249.5" cy="65" r="44" fill="#000" filter="url(#pnA)"/><circle cx="249.5" cy="65" r="32.8" fill="#f6f4f2"/><path d="M233.7 82.7h0M278.7 77.8h0M263.3 81.4h0" stroke="#1f78b4" stroke-width="1.5" stroke-linecap="round"/><path d="M251.4 58.6h0" stroke="#1f78b4" stroke-width="1.6" stroke-linecap="round"/><path d="M255.9 35.7h0M236.8 83.6h0M238.4 95h0" stroke="#1f78b4" stroke-width="1.8" stroke-linecap="round"/><path d="M250.9 56.4h0" stroke="#1f78b4" stroke-width="2.0" stroke-linecap="round"/><path d="M218.6 56.3h0" stroke="#33a02c" stroke-width="1.5" stroke-linecap="round"/><path d="M254.4 35.4h0" stroke="#33a02c" stroke-width="1.7" stroke-linecap="round"/><path d="M272.8 80.7h0" stroke="#33a02c" stroke-width="1.9" stroke-linecap="round"/><path d="M267.2 91.3h0M219.7 54.4h0" stroke="#33a02c" stroke-width="2.0" stroke-linecap="round"/><path d="M221.9 80.2h0" stroke="#33a02c" stroke-width="2.1" stroke-linecap="round"/><path d="M230.3 82.7h0M239.9 82.4h0" stroke="#33a02c" stroke-width="2.5" stroke-linecap="round"/><path d="M246.6 40.3h0" stroke="#6a3d9a" stroke-width="2.1" stroke-linecap="round"/><path d="M242.3 47.6h0" stroke="#a6cee3" stroke-width="1.7" stroke-linecap="round"/><path d="M264.7 81.9h0" stroke="#a6cee3" stroke-width="2.2" stroke-linecap="round"/><path d="M252.7 56.6h0" stroke="#b15928" stroke-width="1.4" stroke-linecap="round"/><path d="M241 81.1h0" stroke="#b15928" stroke-width="1.5" stroke-linecap="round"/><path d="M259.5 50.3h0" stroke="#b15928" stroke-width="2.0" stroke-linecap="round"/><path d="M261.1 49.3h0" stroke="#b15928" stroke-width="2.1" stroke-linecap="round"/><path d="M280 56.2h0" stroke="#b2df8a" stroke-width="1.6" stroke-linecap="round"/><path d="M242.3 33.7h0M253.9 75.9h0M226.2 49.2h0" stroke="#cab2d6" stroke-width="1.5" stroke-linecap="round"/><path d="M235.7 83.1h0" stroke="#cab2d6" stroke-width="1.6" stroke-linecap="round"/><path d="M219.9 75.8h0" stroke="#cab2d6" stroke-width="2.2" stroke-linecap="round"/><path d="M276.2 51.3h0" stroke="#cab2d6" stroke-width="2.5" stroke-linecap="round"/><path d="M266.1 92h0M259.2 36.8h0" stroke="#e31a1c" stroke-width="1.5" stroke-linecap="round"/><path d="M255.5 34.3h0M228.7 82.3h0" stroke="#e31a1c" stroke-width="1.6" stroke-linecap="round"/><path d="M232.8 47.2h0M229.2 84h0" stroke="#e31a1c" stroke-width="1.8" stroke-linecap="round"/><path d="M269.4 48.5h0" stroke="#e31a1c" stroke-width="1.9" stroke-linecap="round"/><path d="M279.5 75.5h0" stroke="#e31a1c" stroke-width="2.0" stroke-linecap="round"/><path d="M238.8 84h0" stroke="#e31a1c" stroke-width="2.6" stroke-linecap="round"/><path d="M248.1 75.9h0" stroke="#fb9a99" stroke-width="1.7" stroke-linecap="round"/><path d="M278.3 51.4h0" stroke="#fb9a99" stroke-width="1.8" stroke-linecap="round"/><path d="M231.1 47h0" stroke="#fb9a99" stroke-width="1.9" stroke-linecap="round"/><path d="M223.7 79.4h0" stroke="#fb9a99" stroke-width="2.2" stroke-linecap="round"/><path d="M221.9 78.9h0M220.1 52.7h0" stroke="#fdbf6f" stroke-width="1.4" stroke-linecap="round"/><path d="M238.3 91.8h0" stroke="#fdbf6f" stroke-width="1.8" stroke-linecap="round"/><path d="M254.2 33.6h0" stroke="#ff7f00" stroke-width="1.5" stroke-linecap="round"/><path d="M220.9 77.3h0" stroke="#ff7f00" stroke-width="2.6" stroke-linecap="round"/><path d="M236.4 94.1h0M252.8 38.9h0" stroke="#ffff99" stroke-width="1.5" stroke-linecap="round"/><path d="M279.3 54.4h0" stroke="#ffff99" stroke-width="1.7" stroke-linecap="round"/><circle cx="234.2" cy="64.9" r="16.8" fill="#a6cee3"/><circle cx="234.2" cy="64.9" r="16.8" fill="url(#shd)"/><circle cx="266.5" cy="65.4" r="15.5" fill="#fb9a99"/><circle cx="266.5" cy="65.4" r="15.5" fill="url(#shd)"/><circle cx="252" cy="89.6" r="12.9" fill="#e31a1c"/><circle cx="252" cy="89.6" r="12.9" fill="url(#shd)"/><circle cx="251.5" cy="47.4" r="7.4" fill="#e31a1c"/><circle cx="251.5" cy="47.4" r="7.4" fill="url(#shd)"/><circle cx="237.7" cy="40.5" r="7.4" fill="#fb9a99"/><circle cx="237.7" cy="40.5" r="7.4" fill="url(#shd)"/><circle cx="264.9" cy="42.3" r="6.5" fill="#6a3d9a"/><circle cx="264.9" cy="42.3" r="6.5" fill="url(#shd)"/><circle cx="248.8" cy="34.9" r="4.6" fill="#6a3d9a"/><circle cx="248.8" cy="34.9" r="4.6" fill="url(#shd)"/><circle cx="227.3" cy="44.6" r="3.5" fill="#6a3d9a"/><circle cx="227.3" cy="44.6" r="3.5" fill="url(#shd)"/><circle cx="274.2" cy="46.9" r="3.5" fill="#33a02c"/><circle cx="274.2" cy="46.9" r="3.5" fill="url(#shd)"/><circle cx="233.1" cy="88.5" r="5" fill="#b2df8a"/><circle cx="233.1" cy="88.5" r="5" fill="url(#shd)"/><circle cx="269.5" cy="85.7" r="5" fill="#b2df8a"/><circle cx="269.5" cy="85.7" r="5" fill="url(#shd)"/><circle cx="221.5" cy="48.8" r="3" fill="#ffff99"/><circle cx="221.5" cy="48.8" r="3" fill="url(#shd)"/><circle cx="225" cy="83.8" r="3.2" fill="#ffff99"/><circle cx="225" cy="83.8" r="3.2" fill="url(#shd)"/><circle cx="276.5" cy="80.8" r="2.8" fill="#1f78b4"/><circle cx="276.5" cy="80.8" r="2.8" fill="url(#shd)"/><circle cx="256.9" cy="38.8" r="2.3" fill="#1f78b4"/><circle cx="259.6" cy="34.2" r="1.8" fill="#33a02c"/><circle cx="251" cy="74.2" r="2" fill="#6a3d9a"/><circle cx="229.5" cy="94" r="1.5" fill="#33a02c"/><circle cx="270.5" cy="93" r="1.6" fill="#1f78b4"/><rect x="295.8" y="18.6" width="87.6" height="92.2" fill="#f2f2f2"/><circle cx="339.6" cy="65" r="43.2" fill="#000" filter="url(#pnD)"/><path d="M349.6 65.3L382 66.2M348.2 70L376.3 86.3M346.1 72.6L367.3 97.1M344.1 73.9L358.8 102.8M340.3 75L342.6 107.3M336.9 74.6L328.3 105.9M333.5 72.9L313.6 98.5M331 70.1L303.1 86.5M330.1 68.2L299.5 78.7M329.6 64.9L297.2 64.7M330.9 60L302.9 43.8M332.6 57.9L309.7 34.9M336 55.7L324.5 25.4M337.9 55.2L332.3 23.2M342.2 55.4L350.8 24.1M345.8 57.2L366.1 31.9M347.6 58.9L373.3 39.3M349.5 63.5L381.5 58.6" stroke="#fff" stroke-width="0.7" opacity="0.3"/><path d="M331.6 68.4h0M344.4 71h0M335.1 61.2h0" stroke="#1f78b4" stroke-width="1.1" stroke-linecap="round"/><path d="M333.1 66.5h0" stroke="#1f78b4" stroke-width="1.2" stroke-linecap="round"/><path d="M340.5 56.7h0M348.2 67.5h0" stroke="#33a02c" stroke-width="1.1" stroke-linecap="round"/><path d="M347.8 62.1h0" stroke="#33a02c" stroke-width="1.2" stroke-linecap="round"/><path d="M334.4 72h0" stroke="#33a02c" stroke-width="1.4" stroke-linecap="round"/><path d="M341.9 56.7h0" stroke="#33a02c" stroke-width="1.6" stroke-linecap="round"/><path d="M334.1 67.8h0" stroke="#33a02c" stroke-width="1.8" stroke-linecap="round"/><path d="M347 63.6h0" stroke="#33a02c" stroke-width="2.1" stroke-linecap="round"/><path d="M331.2 65.6h0" stroke="#33a02c" stroke-width="2.2" stroke-linecap="round"/><path d="M333.6 58.5h0" stroke="#6a3d9a" stroke-width="1.1" stroke-linecap="round"/><path d="M330.8 64.1h0" stroke="#6a3d9a" stroke-width="1.2" stroke-linecap="round"/><path d="M333.8 71h0M343.2 73h0" stroke="#6a3d9a" stroke-width="1.4" stroke-linecap="round"/><path d="M345.7 59.3h0" stroke="#a6cee3" stroke-width="1.2" stroke-linecap="round"/><path d="M332.6 65.2h0M345.2 58.2h0M344.6 72.2h0" stroke="#a6cee3" stroke-width="1.3" stroke-linecap="round"/><path d="M343.5 71.4h0" stroke="#a6cee3" stroke-width="1.5" stroke-linecap="round"/><path d="M336.9 56.9h0" stroke="#a6cee3" stroke-width="2.2" stroke-linecap="round"/><path d="M348.5 65.1h0" stroke="#b15928" stroke-width="1.1" stroke-linecap="round"/><path d="M337.6 68.5h0" stroke="#b15928" stroke-width="1.2" stroke-linecap="round"/><path d="M342.5 57.7h0" stroke="#b15928" stroke-width="1.3" stroke-linecap="round"/><path d="M341.9 72.3h0" stroke="#b15928" stroke-width="1.5" stroke-linecap="round"/><path d="M347 60.4h0" stroke="#b15928" stroke-width="1.7" stroke-linecap="round"/><path d="M339.3 73.4h0" stroke="#b15928" stroke-width="1.9" stroke-linecap="round"/><path d="M333 67.5h0" stroke="#b2df8a" stroke-width="1.1" stroke-linecap="round"/><path d="M340.2 58.4h0" stroke="#b2df8a" stroke-width="1.2" stroke-linecap="round"/><path d="M336.3 71.7h0" stroke="#b2df8a" stroke-width="1.3" stroke-linecap="round"/><path d="M339.9 57.4h0" stroke="#b2df8a" stroke-width="1.4" stroke-linecap="round"/><path d="M346.5 66.4h0" stroke="#b2df8a" stroke-width="2.0" stroke-linecap="round"/><path d="M337.4 71.2h0" stroke="#cab2d6" stroke-width="1.4" stroke-linecap="round"/><path d="M346 70.7h0" stroke="#cab2d6" stroke-width="1.5" stroke-linecap="round"/><path d="M347.3 65h0" stroke="#cab2d6" stroke-width="1.6" stroke-linecap="round"/><path d="M331.4 67.3h0" stroke="#cab2d6" stroke-width="1.7" stroke-linecap="round"/><path d="M342.1 73.5h0" stroke="#e31a1c" stroke-width="1.1" stroke-linecap="round"/><path d="M343.2 57.2h0" stroke="#e31a1c" stroke-width="1.2" stroke-linecap="round"/><path d="M340.7 73.2h0" stroke="#e31a1c" stroke-width="1.3" stroke-linecap="round"/><path d="M338.6 57.4h0" stroke="#e31a1c" stroke-width="1.4" stroke-linecap="round"/><path d="M333.7 61h0" stroke="#e31a1c" stroke-width="1.8" stroke-linecap="round"/><path d="M348.1 63.2h0" stroke="#fb9a99" stroke-width="1.1" stroke-linecap="round"/><path d="M339.6 56h0" stroke="#fb9a99" stroke-width="1.2" stroke-linecap="round"/><path d="M333.4 68.9h0" stroke="#fdbf6f" stroke-width="1.4" stroke-linecap="round"/><path d="M331.6 61.6h0M335.1 57.9h0" stroke="#ff7f00" stroke-width="1.1" stroke-linecap="round"/><path d="M347.8 66.6h0M334.4 59.7h0" stroke="#ff7f00" stroke-width="1.2" stroke-linecap="round"/><path d="M335.4 72.5h0M347 67.7h0" stroke="#ff7f00" stroke-width="1.5" stroke-linecap="round"/><path d="M341.6 58.5h0" stroke="#ff7f00" stroke-width="1.6" stroke-linecap="round"/><path d="M338.8 58.9h0" stroke="#ff7f00" stroke-width="1.7" stroke-linecap="round"/><path d="M332.7 69.6h0" stroke="#ffff99" stroke-width="1.3" stroke-linecap="round"/><circle cx="336.6" cy="64.9" r="2.9" fill="#fdbf6f"/><circle cx="336.6" cy="64.9" r="2.9" fill="url(#shd)"/><circle cx="342.9" cy="65.1" r="2.8" fill="#6a3d9a"/><circle cx="342.9" cy="65.1" r="2.8" fill="url(#shd)"/><circle cx="340.1" cy="69.9" r="2.2" fill="#b2df8a"/><circle cx="339.9" cy="61.4" r="1.4" fill="#e31a1c"/><circle cx="336.8" cy="59.9" r="1.4" fill="#6a3d9a"/><circle cx="335.7" cy="69.6" r="1.4" fill="#e31a1c"/><circle cx="345.5" cy="61.8" r="1.1" fill="#e31a1c"/><circle cx="343.5" cy="59.8" r="1.5" fill="#1f78b4"/><circle cx="332.5" cy="59.5" r="0.9" fill="#1f78b4"/><circle cx="332.5" cy="63" r="0.9" fill="#e31a1c"/><circle cx="344" cy="69.2" r="0.9" fill="#b15928"/><circle cx="337.4" cy="73.1" r="0.9" fill="#1f78b4"/><circle cx="346.1" cy="69" r="0.8" fill="#1f78b4"/><rect x="30.2" y="166.6" width="86.1" height="89.4" fill="#f2f2f2"/><path d="M103.4 221.8h0M80.5 234.5h0M107.5 209.7h0M90.2 182.7h0M105.1 192.3h0M80.7 187.5h0M42.9 206h0M60.2 196h0M45.5 208.7h0M45.6 216.6h0M48.6 191.8h0M103.4 186.6h0M59.6 225h0M93.5 218.5h0M103.1 206.4h0M97.1 217.8h0M36.2 221.1h0M81.9 184.1h0M99.1 214.4h0M71.1 250.7h0M93.6 205h0M104.4 183.3h0M77 182h0M32 214.4h0M109.8 200.3h0M72.5 231.7h0" stroke="#1f78b4" stroke-width="1.4" stroke-linecap="round"/><path d="M100.5 217.5h0M109.8 197.4h0M72.1 189.5h0M95.1 209.3h0M62 173.6h0M81.8 185.8h0M61.5 193.4h0M53 228.8h0M95 220.5h0M50.2 201.3h0M92.3 177.6h0M107.3 228.9h0M92.2 245.7h0M110.7 217.2h0M64.6 178.4h0M107.7 232.8h0M83.4 229.3h0M52.7 183.5h0M48.9 204.3h0M38.1 198.5h0M93.1 212.5h0M41 184.6h0M52.3 244.5h0M92.1 222.8h0M84.6 234.4h0M41.2 216.9h0M65.2 231.8h0M74.1 242h0M65.2 240.7h0M69.1 201.1h0M55 222.1h0M73.6 235h0M48.9 244.9h0M49.7 216.4h0M64.2 177.1h0M67.6 188.3h0M70.5 234.1h0M103.3 183.1h0M86.7 246.7h0M87.5 193h0M97 229.8h0M56.3 223.7h0M95.1 221.9h0" stroke="#1f78b4" stroke-width="1.5" stroke-linecap="round"/><path d="M72.9 236h0M66.1 190.5h0M48.6 229h0M88.6 180.9h0M68.2 249.6h0M72.7 172.3h0M43.1 221.8h0M46 187.3h0M90.4 248.5h0M48.9 182.5h0M82.9 244.2h0M38 203.1h0M58.4 240.3h0M82.8 182.6h0M41.8 228.2h0M69.6 171.4h0M95 230.5h0M107.4 189.3h0M98.9 230.1h0M96.1 219.1h0M36.3 215.4h0M57.2 177.5h0M105.7 206.2h0M99.4 236.3h0M39.4 218.5h0M114.1 214.5h0M97.7 235.2h0M82.6 245.7h0M46 183.3h0" stroke="#1f78b4" stroke-width="1.6" stroke-linecap="round"/><path d="M59.5 190h0M74.4 234h0M44.5 208h0M54.7 193h0M50.7 215.6h0M102.4 207.5h0M111.6 205.8h0M53 210.4h0M86.4 243.5h0M95.1 240.3h0M60.5 182.1h0M103.4 191.8h0M108.4 195.5h0M62.5 232.3h0M94.9 231.9h0M98.5 191.4h0M87.5 247.6h0M109.4 227.2h0M96.5 213.7h0M50.6 230.8h0M99.8 198h0M88 174.3h0M56.7 239.9h0M61.9 238.7h0M56.2 187.6h0M45 188h0M82.8 251.1h0M71.7 235.6h0M84 248.9h0M71.8 181.4h0M94.1 235.4h0" stroke="#1f78b4" stroke-width="1.7" stroke-linecap="round"/><path d="M112.5 217.3h0M76.9 177.8h0M72.9 244.9h0M96.4 230.8h0M51.3 245.4h0M58.3 247.8h0M59.8 186.5h0M66.5 232.2h0M36.4 212.4h0M36.5 202.6h0M49.7 243.3h0M43.3 231.1h0M102.5 240.2h0M78.5 232h0M37.8 196.8h0M43.5 224.2h0M93.8 222.2h0M105.4 222.8h0M61.5 192.2h0M107.1 205.3h0M40.4 222.7h0M74.2 236.3h0" stroke="#1f78b4" stroke-width="1.8" stroke-linecap="round"/><path d="M55.1 178.1h0M110.1 211.4h0M100.9 192h0M105.6 197.4h0M62.6 186.6h0M96.5 244.1h0M107.4 214.2h0M49.4 212.4h0M79.5 171.6h0M39.2 199.8h0M76.3 176.1h0M58.8 236.8h0M38.8 206.4h0M81.4 182.8h0M49.4 188.6h0M42.4 199.9h0M32.9 217.2h0M48.8 178.8h0M100.1 225.1h0M66.4 242.6h0M69.3 244.2h0M36.9 225h0M91.6 197.1h0M92.6 228.5h0M85.1 179.4h0M36.3 226.5h0M92.8 237h0" stroke="#1f78b4" stroke-width="1.9" stroke-linecap="round"/><path d="M70.4 188.4h0M92.7 234.9h0M71 248.4h0M41.1 200.2h0M66.9 241h0M97 205.1h0M82.9 240.9h0M53.4 190.5h0M50.8 204.5h0M64.2 251.7h0M107.1 220.9h0M99.3 203.8h0M58 233.1h0M54.2 194.3h0" stroke="#1f78b4" stroke-width="2.0" stroke-linecap="round"/><path d="M46.7 201.6h0M78.7 243.5h0M81.5 250h0M98.5 208.5h0M61 244.1h0M64.7 235.8h0M105.7 199.2h0M113.5 211.2h0M45.2 214.9h0M93.4 184h0M42.1 214.2h0M62.1 188.2h0M33.4 212.3h0M55.5 179.3h0M73.3 173.5h0M88.1 188.1h0M93 243.2h0" stroke="#33a02c" stroke-width="1.4" stroke-linecap="round"/><path d="M47.8 237.1h0M103.5 232.3h0M42.2 190.9h0M35.6 203.8h0M94.3 193.2h0M105.9 214.1h0M89.5 174.8h0M108.1 217.1h0M61.9 228.9h0M91.4 193.2h0M108 229.9h0M66 246.8h0M34.2 213.6h0M77.1 250.2h0M39 214.5h0M99.1 239.2h0M39.6 201h0M65.2 189.3h0M96.2 226.8h0M77.5 252.3h0M96.4 196.1h0M65.5 185.5h0M80.6 183.9h0M102.4 192.6h0M67.7 172.7h0M102.8 202.9h0M101.5 181.9h0M99.1 212.1h0M80.4 179.2h0M103.9 194.6h0M79.1 185.7h0M74.7 237.7h0M104.7 200.2h0M42.1 227h0M67.7 232.7h0M112.7 219h0M35.9 192.5h0M60.1 184.9h0M93.7 192.3h0M40.1 192.5h0M75.1 190.9h0M104.7 238.6h0M48.5 226.5h0M98.7 178.7h0M102.7 233.4h0M76.5 244.4h0" stroke="#33a02c" stroke-width="1.5" stroke-linecap="round"/><path d="M82.3 193.7h0M64.9 172.1h0M93.6 231.9h0M72.6 170.7h0M52 179.8h0M80.4 239.5h0M77.5 186.6h0M35.4 227.8h0M94.5 238.6h0M72.4 174.1h0M55.4 195.2h0M91.9 185h0M75.3 179.4h0M101.8 225.8h0M76.1 181.1h0M34.6 214.9h0M64.5 193h0M43.3 189.5h0M102.7 197.9h0M62.1 178.7h0M93.5 223.5h0M109.8 206.4h0M91.6 242.3h0M100.8 221.8h0M68.2 177h0M80 181.1h0M49.7 229.8h0M39.1 187.1h0M105.7 205h0M86.4 193.2h0M44.9 232.3h0M86.8 190.3h0M44.6 202.5h0M40.8 233.2h0" stroke="#33a02c" stroke-width="1.6" stroke-linecap="round"/><path d="M88 234.7h0M103.1 211.7h0M38.4 211.4h0M72.1 234.3h0M101.6 228.3h0M57.2 185.1h0M87.9 230.8h0M96.9 198.1h0M92.3 233.1h0M99.2 233.7h0M101.6 232.9h0M90.7 235.5h0M63.4 229.4h0M86.9 172.8h0M48.1 243.4h0M81.1 241.4h0M73.9 170.6h0M60 247.4h0M104.1 236.2h0M103.2 223.2h0M93 199.1h0M86.6 226.3h0M68.3 243.3h0" stroke="#33a02c" stroke-width="1.7" stroke-linecap="round"/><path d="M94.8 177.7h0M56.7 179.8h0M34.7 225.2h0M60.1 174.2h0M47.5 233.8h0M84 246.4h0M96.9 183.7h0M96.6 180.9h0M73.1 175.1h0M81.6 179.4h0M107.9 215.5h0M46.4 200.4h0M63.3 176.2h0M90 181.4h0M65.5 245.5h0M63.4 247.7h0M68.8 180.9h0M49.1 220.6h0M54.6 187.8h0M58.3 246.2h0M61.7 242.4h0M72.4 238.6h0M112 220.9h0" stroke="#33a02c" stroke-width="1.8" stroke-linecap="round"/><path d="M101.9 185.3h0M77.6 180.3h0M86.2 228.1h0M105.4 195h0M86 189.1h0M64.8 173.5h0M112.7 222.2h0M69.3 247.6h0M40.8 236.4h0M97.9 210.6h0M101.4 209.2h0M62.4 191h0M99.1 232.3h0M47.9 203.6h0M94.9 207.1h0M37.6 201.2h0M90.8 232.4h0M36.8 228.1h0M65.5 236.8h0M86.4 249.6h0M83.3 188h0M101.9 183.6h0M66.7 187.5h0" stroke="#33a02c" stroke-width="1.9" stroke-linecap="round"/><path d="M66 183.1h0M85.6 178.1h0M77.5 172.8h0M32 206.5h0M42.1 223.3h0M54.7 219h0M104.4 210.8h0M65 238.2h0M110.3 194h0M98.4 216.2h0M81.4 189.2h0M105.7 208.4h0M57.8 190.7h0M67.2 235.4h0M44.7 194.8h0M82.2 170.4h0M71 178.9h0M47 222.8h0" stroke="#33a02c" stroke-width="2.0" stroke-linecap="round"/><path d="M39.1 196.9h0M89.6 243.8h0M108.7 194h0M63.2 188h0M77.1 188.6h0M98.8 235.2h0M104.6 185h0M77.6 245h0M59.7 227.6h0M41.8 209.4h0M79.9 233.7h0M96 197.1h0M109.2 207.4h0M80.2 188.6h0" stroke="#6a3d9a" stroke-width="1.4" stroke-linecap="round"/><path d="M112.5 200.1h0M104.5 190h0M59.7 244.7h0M40.9 224.1h0M66.2 180.2h0M96.5 177.3h0M105.4 203.4h0M57.7 239h0M108.6 205h0M89.1 237h0M89.9 190.5h0M76.5 235.5h0M107.1 224.5h0M56.1 229h0M40.7 218.1h0M54.1 237.7h0M39.2 204.4h0M80.4 232.3h0M73.9 180.4h0M114.2 215.9h0M53.2 224.3h0M54.5 189.8h0M89.5 235.4h0M57.3 240.9h0M38.4 225.7h0M49.7 189.8h0M32.6 219.2h0M103.9 228.2h0M94.2 212.6h0M84.7 249.9h0M88.4 195.9h0M81.7 219.7h0M77.3 241.2h0M46.2 190.6h0M109 201h0M86 186.3h0M83.9 182.5h0M39 191.9h0M110.2 215.7h0M75.7 182.8h0M99.9 243.3h0M59.2 187.6h0M91.4 187.8h0" stroke="#6a3d9a" stroke-width="1.5" stroke-linecap="round"/><path d="M89.1 230.3h0M95.1 244.8h0M94.9 187.2h0M109.3 224h0M48.5 202h0M94.6 243.8h0M69.6 234.9h0M59.1 178.1h0M47.7 220h0M99.7 237.6h0M102.7 209.3h0M35.2 193.7h0M43 196.8h0M78.8 239h0M63.4 178.3h0M98.1 202.2h0M97.1 190.8h0M83.3 226.7h0M45.5 237h0M109.8 218h0M111.1 228.1h0M94.9 242h0M75 180.6h0M77.5 239.4h0M38.4 224.5h0M85.3 192.6h0M104.4 196.3h0M84.4 228.5h0M51.8 202.8h0M38.7 234.3h0M83.5 170.5h0M74.3 250.8h0M67.6 171.5h0M71.4 175.1h0" stroke="#6a3d9a" stroke-width="1.6" stroke-linecap="round"/><path d="M74.5 243.2h0M32.8 204.2h0M43.3 212.6h0M33.9 222.6h0M83.8 180.1h0M74.1 176h0M56.8 175.5h0M51.6 200.3h0M51.9 239.2h0M90.4 221.5h0M41.3 221h0M96.7 201.7h0M75.5 250.3h0M94.6 197.1h0M55.1 190.9h0M92.3 174h0M50.2 213.8h0M57.9 193.1h0M103.9 203.7h0M43.9 213.9h0M93.8 209.3h0M74.7 169.3h0M45.3 199.2h0M49.7 200.1h0M79.7 247h0" stroke="#6a3d9a" stroke-width="1.7" stroke-linecap="round"/><path d="M49.8 192h0M67.1 181.2h0M63.4 242h0M71 238.5h0M85.9 185.1h0M105.6 219.6h0M71.9 249.5h0M74.5 232.4h0M67.2 227.8h0M99.3 200.5h0M56.5 244.2h0M55.3 180.7h0M32.6 209.1h0M48.1 195.5h0M105.4 215.7h0M54.7 241.4h0M93.5 177h0M50 183.1h0M82.4 242.6h0M84.7 174.2h0M45.9 231h0" stroke="#6a3d9a" stroke-width="1.8" stroke-linecap="round"/><path d="M34.5 209.9h0M96.7 228.6h0M51.7 197.2h0M52.8 238.1h0M58.2 181.2h0M48.6 199h0M104.4 217.8h0M83.9 242.9h0M70.4 184.8h0M96.5 203.8h0M95 204.9h0M47.1 221.2h0M87.8 226.8h0M65.8 171.2h0M77.3 183.3h0M106.3 210.4h0M110.3 192.4h0M101.7 217h0M102.6 238.8h0M106.6 230.6h0M112.3 211.2h0M89.4 249.4h0" stroke="#6a3d9a" stroke-width="1.9" stroke-linecap="round"/><path d="M103.7 216.2h0M79.8 248.7h0M92.3 231.1h0M99.9 211h0M44.9 235.8h0M36.7 195.7h0M74 190h0M92.7 215.8h0M81 243.2h0M105.1 231.1h0M59.1 243.3h0M67.1 245.9h0M57.1 194.3h0M87.3 185h0" stroke="#6a3d9a" stroke-width="2.0" stroke-linecap="round"/><path d="M48.1 208.2h0M96.4 178.7h0M58.8 172.6h0M87 233.4h0M101.6 211.7h0M40.6 205.1h0M55.4 224.2h0M60.4 250.5h0M97.5 244.9h0M94.6 184.5h0M64.1 175.2h0M95.1 227.4h0" stroke="#a6cee3" stroke-width="1.4" stroke-linecap="round"/><path d="M100.2 231.5h0M69.7 249.5h0M101.3 214.3h0M53 175.5h0M85.1 245.3h0M94.7 191.6h0M61.3 195.6h0M82 187.8h0M102.5 231.2h0M78.4 247.6h0M96.4 188h0M46.9 242.2h0M56.1 191.9h0M82.6 174.3h0M71.8 237.2h0M47.3 206h0M33.4 199.2h0M113.7 220.7h0M55 175.4h0M70.5 175.9h0M72.8 185.1h0M84.9 241.5h0M44.9 192.8h0M99.7 223.7h0M53.5 241.9h0M81.4 245.9h0M60.5 183.9h0M86.9 230h0M61.8 171.2h0M84.1 244.5h0M34.8 226.5h0M115.1 213.3h0M54.1 217.2h0M61.2 247.1h0M98.6 244.3h0M94.5 210.3h0M94.6 175h0M115 209.1h0M99.2 199.2h0M93.9 206h0M82.9 175.4h0M92 227.3h0" stroke="#a6cee3" stroke-width="1.5" stroke-linecap="round"/><path d="M40.8 214.1h0M55.5 232.3h0M107.9 202.3h0M43.6 193.2h0M78.7 184.6h0M84.1 232h0M103.6 187.8h0M56.7 234.2h0M46.7 228.3h0M89.6 245h0M108.3 228.1h0M44.4 190.6h0M47.8 225.6h0M47.1 230.7h0M112.6 214.1h0M108.8 196.8h0M41.6 189.4h0M97.9 214.1h0M99.2 180.3h0M52.9 180.9h0M95.8 202.5h0M96.4 208.8h0M85.8 230.5h0M100.1 214.7h0M39.9 213.3h0M36.7 214.3h0M63.9 189.4h0M48.8 224.7h0M95 203.5h0M40.6 219.8h0M95.7 183.5h0M68.1 247.1h0" stroke="#a6cee3" stroke-width="1.6" stroke-linecap="round"/><path d="M48.7 186h0M78 251h0M57.9 187.1h0M42.5 208.4h0M98.7 222.8h0M56.3 218.4h0M54.7 236.5h0M68.4 252h0M47.9 200.9h0M55.8 201.6h0M92.4 191.6h0M40.1 226.8h0M45.2 201h0M55.4 225.9h0M109.1 231.1h0M59.3 232h0M36.7 222.4h0M62.7 201.3h0M108.6 203.8h0M91.6 220.4h0M84.8 170.9h0M95.6 243h0M65.4 233h0" stroke="#a6cee3" stroke-width="1.7" stroke-linecap="round"/><path d="M67.6 236.8h0M81.3 233.6h0M102.2 186.9h0M99.5 220.9h0M98.8 242.5h0M99.9 179.2h0M82.9 186.4h0M57.3 243.1h0M64.6 179.7h0M33.3 205.9h0M44.2 198.5h0M40 211.9h0M104.3 219.2h0M69.3 178.5h0M112.4 203.6h0M87 179.2h0M84.2 251.1h0M85.8 242.4h0M104.4 220.8h0" stroke="#a6cee3" stroke-width="1.8" stroke-linecap="round"/><path d="M82.3 235h0M40.9 231.4h0M74 247.2h0M49.6 184.6h0M106.4 187.8h0M90.3 223.8h0M106 191h0M65.7 234.7h0M58.5 195.2h0M113.3 205.5h0M47.5 189.5h0M95.7 246.1h0M82.6 190.3h0M92.2 241.2h0M107.8 188.1h0" stroke="#a6cee3" stroke-width="1.9" stroke-linecap="round"/><path d="M102.6 194h0M59.1 175.5h0M84.7 194.3h0M47.7 211.3h0M47.6 214.5h0M100.2 234.7h0M95.9 192.5h0M43.3 187.8h0" stroke="#a6cee3" stroke-width="2.0" stroke-linecap="round"/><path d="M33.2 210.5h0M44.7 231.2h0M58.7 194h0M94.8 176.3h0M73.8 186.2h0M42.2 217.4h0M93.3 241.9h0M65.8 251.3h0M88.8 238.5h0M46.8 193.3h0M53 184.7h0M109.7 199h0" stroke="#b15928" stroke-width="1.4" stroke-linecap="round"/><path d="M51.6 189.6h0M89.5 232.2h0M86.2 231.6h0M108.4 212.1h0M52.3 201.6h0M43.5 240.1h0M86.1 187.7h0M37.3 191.6h0M32.8 202.8h0M86.4 180.4h0M45.7 198.1h0M82.3 178.5h0M60.3 229.6h0M99.4 187.2h0M46.5 232.5h0M103.9 198.8h0M53.2 200.9h0M51.7 195.1h0M72.1 188.3h0M70.2 233h0M64.8 181.4h0M97.5 226.6h0M103.6 208h0M111.9 207.3h0M75.2 186.5h0M59 191.7h0M75 235.3h0M44.4 206.7h0M41.4 237.5h0" stroke="#b15928" stroke-width="1.5" stroke-linecap="round"/><path d="M54.8 209.7h0M54.2 223.1h0M101.7 221.1h0M43.4 234.4h0M67.8 185.8h0M51.1 242.8h0M81.8 172.3h0M88.1 182.7h0M80 235.7h0M52.2 236.4h0M95.6 190.2h0M88.3 243.8h0M109.3 229.2h0M75.1 192.3h0M44.2 196.5h0M38.7 194.8h0M34.4 206.9h0M113.6 201.7h0M76 187.3h0M112.2 208.8h0M45.6 205.8h0M102.2 190h0M109.7 213.3h0M44.7 239h0M84.5 187.2h0M111 201h0M50.8 182.1h0M46.1 182.1h0M60.5 175.5h0M41.3 192.7h0M56.2 235.6h0M97.9 200.9h0M82.9 237.2h0M91.4 178.5h0M96.3 212.5h0M53.7 221.6h0M80.7 192.2h0M53.2 220.1h0" stroke="#b15928" stroke-width="1.6" stroke-linecap="round"/><path d="M73.6 237.9h0M51.2 210.5h0M106.1 193.1h0M40 186h0M103.1 226.4h0M96.6 221.6h0M85.2 237.9h0M35.3 221.7h0M66.1 243.9h0M52.4 221.9h0M36.2 194.5h0M95.3 213.6h0M41.1 207.2h0M80.8 247.4h0M93.9 195.8h0M97.6 236.5h0M84.3 172.4h0M62.3 230.6h0M52 220.3h0M91.2 210.2h0M47 198.1h0M39.1 219.9h0M83.9 238.1h0M41.4 212.8h0M96.9 185.1h0M49 236.4h0M102.4 188.5h0" stroke="#b15928" stroke-width="1.7" stroke-linecap="round"/><path d="M77.9 238.1h0M77.8 249h0M51.6 207.8h0M106 216.9h0M99.6 213.3h0M63.3 185.4h0M91.3 226.2h0M86.5 245.3h0M96.8 242.8h0M51.1 219.4h0M57.1 249.3h0M38.7 212.7h0M67.9 242h0M64 233.1h0M102 191.4h0M38.3 189.5h0M57.7 235.5h0M78.3 236.4h0M67.8 239.7h0M90.9 240.2h0M89.3 185.7h0" stroke="#b15928" stroke-width="1.8" stroke-linecap="round"/><path d="M48.1 197.2h0M51.4 223.9h0M79.3 187.2h0M92.4 211.2h0M101.1 189.3h0M99.7 188.7h0M40.7 191.4h0M47.1 217.4h0M87.7 239.3h0M58.5 185.8h0M108.7 199.8h0M81.4 251.4h0M96.8 206.9h0M95.3 201.1h0" stroke="#b15928" stroke-width="1.9" stroke-linecap="round"/><path d="M100.7 203.3h0M52.7 218.3h0M76.3 240.1h0M88.4 178.7h0M45.3 240.6h0M44.7 212.5h0M62.4 233.7h0M60.3 172.2h0" stroke="#b15928" stroke-width="2.0" stroke-linecap="round"/><path d="M107.6 231.6h0M95.5 218.2h0M59.2 233.1h0M91 211.5h0M52.6 231.9h0M72.9 242.4h0M95.5 215.9h0M37.8 209.7h0M36.7 204h0M96.2 236.2h0M55.7 248.8h0M106.9 199.5h0M105.6 226.2h0M42.7 229.2h0" stroke="#b2df8a" stroke-width="1.4" stroke-linecap="round"/><path d="M38.9 228.6h0M97.9 203.8h0M101.8 210.4h0M94.2 224.4h0M95.3 179.2h0M33.2 207.8h0M34.2 198h0M37.5 220.7h0M77.8 174h0M57.9 172.2h0M40.4 187.7h0M40.1 197.4h0M65.6 175.4h0M74.4 240.7h0M107.1 218h0M44.5 223.1h0M87 181.9h0M77 232.6h0M55.6 247.7h0M112.1 195.8h0M108.2 197.8h0M42.8 232.3h0M99.3 209.7h0M87 195.6h0M51 212.9h0M94.1 189h0M47 187.9h0M42.2 204.6h0M48 232.8h0M91.8 200.8h0M57.9 203.1h0M96.8 209.9h0M70.8 240.1h0M89.5 191.5h0" stroke="#b2df8a" stroke-width="1.5" stroke-linecap="round"/><path d="M101.2 205.3h0M114.3 210.4h0M54.8 246.3h0M68.2 179.3h0M65.2 187.1h0M34 216.8h0M51.2 192.1h0M84.9 188.6h0M85.9 173.7h0M50.6 193.4h0M41.9 238.5h0M83.2 236.1h0M90.5 199.8h0M90.5 173.7h0M60.9 189.8h0M50.2 223.2h0M62.8 237.8h0M51.9 216.7h0M36.4 205.7h0M83.4 179h0M52.4 192.5h0M38.9 202h0M64.3 248.8h0M93.6 217.3h0M112.5 225.2h0M93.2 238.2h0M85.3 195.5h0" stroke="#b2df8a" stroke-width="1.6" stroke-linecap="round"/><path d="M80.7 174.9h0M74.7 188.2h0M61.7 250.8h0M52.9 240.3h0M71.1 169.9h0M58.1 226h0M45.9 189.2h0M90.9 186.7h0M73 232.8h0M70.6 180.6h0M98 231.2h0M105.1 237.3h0M70 186.4h0M102.9 200.3h0M36.6 219.5h0M76.8 179.1h0M58.2 189.1h0M64.1 183.6h0M80 242.3h0M72.2 241.3h0M94.7 216.8h0M59.3 248.9h0M80.2 185.2h0M68.1 182.7h0M71.2 173.5h0M102.4 230h0M88.7 198.6h0M89.2 234h0M41.8 197.4h0M45.1 180.2h0M48.4 213.3h0" stroke="#b2df8a" stroke-width="1.7" stroke-linecap="round"/><path d="M92.8 220.9h0M58.8 234.4h0M97.6 212.7h0M48.6 190.6h0M91.1 183.8h0M84.6 229.9h0M109.4 190.9h0M84.1 225.6h0M41.2 203.8h0M97.6 179.5h0M55.5 188.9h0M53.5 231h0M77.3 170.5h0M96.7 223h0M34.2 204.4h0M45.4 196.2h0M90.4 237.8h0M72 176.2h0" stroke="#b2df8a" stroke-width="1.8" stroke-linecap="round"/><path d="M86.6 174.9h0M100.5 227.1h0M64.8 190.5h0M97.2 241.1h0M58.1 227.4h0M43.9 219.3h0M66.4 230.6h0M59.2 182.8h0M56.2 230.8h0M88.7 189.7h0M94.6 234.1h0M107.1 211.6h0M39.4 230.3h0" stroke="#b2df8a" stroke-width="1.9" stroke-linecap="round"/><path d="M46.3 207.3h0M40.7 208.9h0M71 246.9h0M85.4 248.4h0M90.6 176.7h0M48.3 231.4h0M41.9 234h0M44.7 186.5h0M40.2 234.7h0" stroke="#b2df8a" stroke-width="2.0" stroke-linecap="round"/><path d="M81.6 196h0" stroke="#b2df8a" stroke-width="2.6" stroke-linecap="round"/><path d="M64.2 231.4h0M63.4 250h0M100.9 239.4h0M92.5 196.1h0M76.2 190.7h0M47.8 227.4h0M95.2 196.1h0M56.9 228.3h0M36.2 200.2h0M61.8 175.1h0M58.9 203.3h0" stroke="#cab2d6" stroke-width="1.4" stroke-linecap="round"/><path d="M82 192.5h0M95.8 185.2h0M113.8 213.4h0M98.3 198.3h0M48.7 209.9h0M35.6 209.4h0M99.3 182.4h0M46.1 238.5h0M49.5 235.3h0M67.2 184.3h0M75 239.1h0M51.9 193.8h0M45.5 227.3h0M48.7 206.7h0M55.3 184.5h0M91.4 190.6h0M36.4 230.4h0M83.5 173.5h0M73.1 250.5h0M49.7 211h0M106.2 228.6h0M35 211.2h0M68.1 173.8h0" stroke="#cab2d6" stroke-width="1.5" stroke-linecap="round"/><path d="M51.5 190.8h0M73.1 183.4h0M109.1 215h0M101.8 241.4h0M112.5 201.4h0M77.3 246.4h0M78.8 234.9h0M49.2 227.6h0M42.8 198.7h0M51.5 229.4h0M70.1 174.7h0M111.3 225.3h0M68.5 170.1h0M95.8 241.3h0M58.3 176.8h0M62.7 181.6h0M93.3 175.6h0M96.5 239.4h0M81.3 173.3h0M40.8 225.6h0M97.5 225.3h0M54.2 228.8h0M70.4 181.8h0M73.1 189h0M97.4 182.5h0M96 176h0M89.8 184h0M95.8 206.2h0" stroke="#cab2d6" stroke-width="1.6" stroke-linecap="round"/><path d="M107.9 222.1h0M93.8 180.6h0M100.1 216.3h0M94.1 236.7h0M53.8 232.8h0M54.1 244.2h0M49.9 238.3h0M83.1 247.3h0M100.1 208.8h0M85.5 246.7h0M89.8 239.5h0M75.4 172.3h0M35.2 205.9h0M79 179.5h0M38.1 229.9h0M50.8 244.1h0M88.6 240.9h0M54.2 247.8h0M90.8 244.9h0M107.2 186.6h0M46.6 196.8h0" stroke="#cab2d6" stroke-width="1.7" stroke-linecap="round"/><path d="M107 198h0M34.8 208.1h0M67.3 174.8h0M54.1 179.4h0M90.8 230.2h0M83.6 192.3h0M79 188.6h0M65.1 247.9h0M79.4 176.3h0M32.4 215.9h0M49.3 193.4h0M55.6 220.1h0" stroke="#cab2d6" stroke-width="1.8" stroke-linecap="round"/><path d="M71.6 243h0M37 206.9h0M45.4 220.2h0M38.4 222.9h0M44.5 225.3h0M91.3 195.7h0M98.7 226.2h0M91.1 208h0M62.8 193.8h0M39.6 225h0M50.8 188.2h0M93.1 197.8h0M44.2 209.5h0" stroke="#cab2d6" stroke-width="1.9" stroke-linecap="round"/><path d="M51.9 227.4h0M99.1 240.7h0M76.5 247.5h0M107.4 206.9h0M35.6 201.3h0M99.5 205.3h0M43.3 202h0M72.4 180.2h0" stroke="#cab2d6" stroke-width="2.0" stroke-linecap="round"/><path d="M50.7 234.7h0M49.5 194.7h0M73.5 249.4h0M54.2 182.3h0M63.4 240.8h0M52.4 196.1h0M37.9 217h0M56 186.4h0M53.8 209h0M53.2 245.4h0M80.4 231h0M88 171.9h0M31.9 213h0M75 252.6h0M103.7 230.8h0M83 181h0M54.2 176.3h0M67.8 178.3h0M71.4 233.1h0" stroke="#e31a1c" stroke-width="1.4" stroke-linecap="round"/><path d="M48.2 205.3h0M41.1 229.2h0M93 201.2h0M70 179.6h0M43.5 215.8h0M69.4 172.9h0M78.7 182.7h0M60.3 242.1h0M100.1 181.2h0M88.5 184.2h0M82.6 249.6h0M105 207h0M63.6 191.9h0M32.3 211.9h0M59.3 230.7h0M103.9 197.5h0M51.7 240.4h0M104.8 213h0M114 208.6h0M95.1 236.1h0M36 210.5h0M91.4 228.8h0M50.2 233.1h0M38.4 231.2h0M43 236.8h0M113.7 203.7h0M90.5 198.3h0M47.4 181.3h0M52.8 178.4h0M68.4 187.5h0M42.6 235.3h0M91.1 243.8h0M110.7 229.7h0M40.1 220.8h0M103.3 225.2h0M91.9 199.4h0M34.1 219.3h0M100.3 241.9h0M101.6 200.3h0M95.4 180.5h0M82.8 228.3h0M93.7 203.7h0M56.3 181.9h0M94.6 194.4h0M113.4 199h0M43.1 238.9h0M107.7 190.5h0M64.9 230.4h0M67.4 221.7h0M101.2 207.6h0M79.9 243.9h0M108.1 234.1h0M102.5 224.5h0" stroke="#e31a1c" stroke-width="1.5" stroke-linecap="round"/><path d="M34.5 212.2h0M53.5 177.4h0M91.6 238.3h0M103.1 195.7h0M40.8 195.6h0M98.9 228.4h0M102.6 218.1h0M42.5 192.1h0M80.9 170.2h0M54.3 220.5h0M70.5 177.5h0M102.3 234.7h0M86.7 236h0M43.3 216.9h0M105.9 200.7h0M71.5 252h0M55.4 173.3h0M89 187h0M86.2 171.7h0M98.1 229.3h0M96.8 211.4h0M52.2 241.6h0M72.8 248.4h0M50.4 206.3h0M49.8 209.4h0M92.4 179.2h0M39.2 207.7h0M46.5 241.1h0M102.1 222.6h0M47.2 229.5h0M71.3 185.8h0M37.5 212.9h0M35.5 207.2h0M97.2 193.9h0M47.1 218.7h0M103.3 189.7h0M60.2 194.7h0M55.2 227.4h0M78 178.7h0" stroke="#e31a1c" stroke-width="1.6" stroke-linecap="round"/><path d="M99.5 196.1h0M57.2 224.9h0M52.8 194.7h0M106.8 222.9h0M101 197.4h0M35.5 220.2h0M61.7 180.2h0M68.8 238.2h0M97.1 215h0M69.5 176.7h0M69.3 236.8h0M110.4 214.4h0M85.2 235.7h0M100.5 240.8h0M95.1 237.5h0M82.6 239.1h0M37.2 211.2h0M98.2 181.3h0M46.8 236.6h0M90.6 191.8h0M31.8 207.8h0M88.1 236h0M49.3 203.1h0M66.1 239.7h0M103.7 229.5h0M114.7 205.6h0M73.1 182.2h0M61.7 221.1h0" stroke="#e31a1c" stroke-width="1.7" stroke-linecap="round"/><path d="M42.9 209.9h0M63.8 236.8h0M62.8 182.8h0M94.3 183h0M79.7 173.3h0M51 236.8h0M70.5 172.4h0M90.2 241.3h0M97.9 195.1h0M75.5 245.2h0M106.1 227.3h0M49.8 195.9h0M46.6 212.4h0M65.3 249.7h0M80 190.2h0M92.3 186.5h0M99.9 207.2h0M105.3 236.1h0M100.7 182.8h0M80 182.4h0M42.2 230.3h0M56.9 189h0M76.3 189.5h0M104 233.5h0M89.5 173h0M71.4 171.4h0M111.1 213.2h0M53.7 174.4h0M85.6 176.2h0M60.5 226.3h0M62.3 241.2h0" stroke="#e31a1c" stroke-width="1.8" stroke-linecap="round"/><path d="M42 219.4h0M49.4 241.2h0M96.8 200h0M104.9 229h0M50.7 199.1h0M92.3 181h0M49.6 218.3h0M77.5 234.3h0M101.4 196.1h0M77.8 175.6h0M96.3 235h0M105.9 232.5h0M111.9 215.7h0M93.8 211.4h0M48 193.8h0M49.7 177.1h0M41.7 202.2h0M102.7 213h0M69.4 195.3h0M40.1 198.8h0M42.2 186.1h0M88.8 242.4h0M106 189.2h0M61.3 187.3h0" stroke="#e31a1c" stroke-width="1.9" stroke-linecap="round"/><path d="M61 234.7h0M80.7 193.8h0M85.2 181.1h0M110.1 225.9h0M37.7 193.1h0M60.7 231.6h0M98.4 206.1h0M109.9 202.8h0M55.2 239.2h0M65.9 192.3h0M88 245.1h0" stroke="#e31a1c" stroke-width="2.0" stroke-linecap="round"/><path d="M64 234.6h0M104.4 186.5h0M45.8 194.1h0M54.1 240h0M61.9 245.1h0M100.7 199.5h0M97.4 196.6h0M41.7 232.2h0M111.5 226.6h0M91.7 194.4h0M85.7 250.7h0" stroke="#fb9a99" stroke-width="1.4" stroke-linecap="round"/><path d="M95.1 211.7h0M45.8 192h0M98.3 185.1h0M36.3 197h0M69.1 185.5h0M114.2 206.8h0M35 199.8h0M104.7 193.5h0M85 182.8h0M58 174.8h0M60.6 246.2h0M72.3 186.3h0M76.3 252h0M62 247.9h0M108.6 210.7h0M52.5 199.5h0M56.2 241.9h0M87.8 249.5h0M83.6 189.3h0M88 225.6h0M58.7 174h0M57.1 178.7h0M49.9 245.3h0M109 232.6h0M51.7 181h0" stroke="#fb9a99" stroke-width="1.5" stroke-linecap="round"/><path d="M100.1 184.1h0M54.3 195.8h0M61.1 240.6h0M88.7 246.4h0M59.2 226.5h0M50.5 180.3h0M97.6 239.8h0M79.5 252.2h0M70.7 236.6h0M78.2 189.9h0M37.2 231.6h0M93.1 208.2h0M108.3 208.3h0M38.9 193.4h0M98.2 189h0M102.7 204.6h0M43.2 204h0M91.9 209h0M75.3 206.2h0M73.5 169.4h0M78.1 242.5h0M62.3 249.1h0M87.6 180.4h0" stroke="#fb9a99" stroke-width="1.6" stroke-linecap="round"/><path d="M60.3 191.6h0M50 225.2h0M70 251.2h0M46.5 226.5h0M36 198.2h0M52.5 225.4h0M73.6 251.9h0M67.8 244.4h0M49.6 231.9h0M37.6 208.5h0M93.6 178.8h0M109.4 221.5h0M84 177.4h0M41.6 198.8h0M44.1 237.3h0M81.6 244.6h0M62.3 239.9h0M67 249.1h0M95.4 188.9h0M104.4 209h0M50.1 226.5h0M43.2 182.3h0M89.5 175.9h0M45.6 242.2h0" stroke="#fb9a99" stroke-width="1.7" stroke-linecap="round"/><path d="M44.5 181.3h0M87 240.4h0M91 179.9h0M101.1 224.2h0M74.3 174.1h0M42.7 225.7h0M46.9 178.9h0M53.8 227.3h0M78.4 177.6h0M44.3 217.6h0M81.5 191.3h0M57.7 183h0M86.3 194.6h0M61.2 176.5h0M68.6 233.5h0M95.7 224h0M47.6 235.6h0M76.4 248.9h0M95.5 229.2h0M98.3 224.2h0M88.1 232.6h0M58.9 184.2h0M59.5 239.7h0" stroke="#fb9a99" stroke-width="1.8" stroke-linecap="round"/><path d="M95.8 195h0M87.3 242.4h0M84 190.6h0M85.1 227.1h0M75.6 242h0M52.2 186.3h0M31.7 210.6h0M45.3 234h0M61.8 184.2h0M48.2 216.4h0M39.4 210.2h0M34.2 220.9h0M95.4 198.5h0" stroke="#fb9a99" stroke-width="1.9" stroke-linecap="round"/><path d="M92.8 207h0M55.2 234.8h0M82.2 231.3h0M74.5 183.8h0M50.3 207.7h0M34.7 196.3h0M46.6 224.9h0M105.6 233.9h0M48.7 180.4h0M61.9 236.5h0M43.2 207.2h0" stroke="#fb9a99" stroke-width="2.0" stroke-linecap="round"/><path d="M88.1 176.1h0M91.9 214.7h0M93.2 187.5h0M54 226.1h0M100.4 190.4h0M72.9 246.3h0M63.4 180.6h0M93.1 225.7h0" stroke="#fdbf6f" stroke-width="1.4" stroke-linecap="round"/><path d="M102.7 201.6h0M93.2 226.7h0M40.2 189.5h0M65.2 241.8h0M58.4 242.2h0M61.1 249.1h0M101.3 230.6h0M71.3 231.9h0M56.3 196.5h0M78.9 237.5h0M33 213.5h0M61.1 227.5h0M91.9 212.6h0M112.2 210h0M101.3 201.6h0M108.4 218.2h0M107.6 226.9h0M81.8 229.3h0M53 197.2h0M64.5 184.9h0M104.4 215h0M75.3 246.4h0M69.6 169.8h0M98.2 207.4h0M40.3 228.2h0M89.1 182.2h0M92 229.8h0M52.6 209.3h0" stroke="#fdbf6f" stroke-width="1.5" stroke-linecap="round"/><path d="M61.5 185.8h0M102.8 182.1h0M91.9 189.3h0M101.5 237.9h0M103.7 239.5h0M43.5 226.9h0M69.8 245.8h0M78.7 240.9h0M67.9 192.9h0M37 190.3h0M110.6 195.8h0M84.2 236.9h0M91.8 175.3h0M98.1 193.2h0M114.1 217.6h0M99.9 186.1h0M112.8 206.6h0M70.9 241.9h0M103.9 201.6h0M96 238.2h0M41.7 188.2h0M39.1 221.2h0M84.6 183.9h0M47.1 182.8h0M107.3 194.1h0M88.8 248.1h0M97.2 238.1h0M48.3 187.9h0M101.3 213.1h0M53.1 188.9h0M35.1 202.6h0M62.8 179.6h0M106 185.5h0M55.9 176.2h0M75.7 232.3h0M43.8 229.8h0M81.3 202.6h0" stroke="#fdbf6f" stroke-width="1.6" stroke-linecap="round"/><path d="M50.5 202.6h0M67 247.8h0M84.2 175.9h0M63.2 172.1h0M48 241.6h0M88.6 197.3h0M112.2 212.6h0M80.1 238.2h0M51.4 209.1h0M94.4 226.1h0M85.6 233.4h0M56.1 193.5h0M84.1 185.6h0M59.8 181h0M60.3 179.2h0M78.6 246.3h0M93.5 244.3h0M48.7 223.4h0M43.9 200.6h0M50.4 228.3h0M104.5 225.5h0M106.8 213h0M89.3 177.5h0M103.3 220h0M68.8 174.8h0M107.9 192.5h0M94.2 246.4h0M114 219.5h0M50.1 240h0M58.2 196.5h0M51 175.7h0M62.9 235.2h0M111 197h0M68.6 235.6h0M71.9 184.3h0M80.1 237h0" stroke="#fdbf6f" stroke-width="1.7" stroke-linecap="round"/><path d="M90.2 194.2h0M93.2 194.1h0M62.6 189.4h0M110 204.3h0M96.9 216.5h0M57.9 230.2h0M88.9 228.4h0M92.7 247.3h0M87.4 189h0M50.7 178.5h0M90.4 227.2h0M90.5 185.1h0M42.1 183.7h0M111.4 223.9h0M79.2 174.7h0M88 237.5h0M67.5 191.5h0M94.2 190.4h0M64.2 246h0" stroke="#fdbf6f" stroke-width="1.8" stroke-linecap="round"/><path d="M107 219.5h0M66 228.7h0M71.9 182.9h0M108.3 220h0M47.1 239.3h0M67.4 190.1h0M102.1 215.5h0M52 234.4h0M46.8 184.5h0M39.5 233.3h0M89.9 179.1h0M96.9 232.1h0M73.7 239.4h0" stroke="#fdbf6f" stroke-width="1.9" stroke-linecap="round"/><path d="M54.8 230.2h0M72.2 177.7h0M97.8 187.4h0" stroke="#fdbf6f" stroke-width="2.0" stroke-linecap="round"/><path d="M75.3 216.2h0" stroke="#fdbf6f" stroke-width="2.7" stroke-linecap="round"/><path d="M107.1 196.6h0M44.9 221.8h0M33.2 214.9h0M103.2 184.4h0M74 179.1h0M34.3 218h0M108.5 224.8h0M109 192.9h0M90.4 234.3h0M46.6 180h0M63.9 239.1h0M49.4 205.8h0M62 246.3h0M94.3 185.8h0M41.4 235.2h0M98.5 237.8h0M90.7 214h0M102.1 180.7h0M44.3 185h0M44.5 227.7h0M73.7 191.6h0M102.7 227.9h0M39.6 231.9h0M59.4 250.1h0M59.8 235.2h0M89.5 188h0" stroke="#ff7f00" stroke-width="1.4" stroke-linecap="round"/><path d="M39.1 216.6h0M70.4 183.1h0M95.6 182.4h0M94.2 219.3h0M110.1 209.2h0M85.6 191.4h0M45.4 184.8h0M45.6 210.2h0M100.3 229.2h0M54.3 242.9h0M94.6 223.1h0M43.3 185.4h0M99.2 193.3h0M64.7 229h0M45.1 211.1h0M96 225.3h0M46.8 209.6h0M41.9 205.7h0M58.9 228.8h0M40.3 193.6h0M98.2 183.3h0M34.4 224h0M68.7 245.9h0M94.2 215.3h0M73.4 187.5h0M48.6 239.2h0M90.1 242.8h0M51.3 222.4h0M76.2 173.2h0M52.5 182.2h0M79.4 240h0M108.6 209.4h0M54.2 224.7h0M50.8 241.5h0M47.8 177.8h0M112.8 224h0M57 245.5h0M93.2 181.9h0M33.9 202.3h0M63.1 251.1h0M92.4 183.5h0M113.3 207.7h0" stroke="#ff7f00" stroke-width="1.5" stroke-linecap="round"/><path d="M105.5 202.2h0M53.8 185.8h0M41.7 211.4h0M55.5 243h0M48.1 184.4h0M93.4 240.1h0M89 199.9h0M94.5 181.6h0M49 214.5h0M57.9 244.6h0M45.7 223.4h0M51.6 183h0M37.8 214.8h0M87.2 177.3h0M40.1 202.6h0M75.1 248.4h0M58.5 179.4h0M55.8 183.3h0M52.9 246.8h0M75.6 234.3h0M95.5 233.2h0M78.6 181.3h0M109.5 222.7h0M103.8 213.9h0M83.1 176.5h0M69.3 184h0M48.9 222h0M91 246.2h0M43 211.4h0M89.8 195.7h0M75.1 185.1h0M48 240.3h0M52.2 211.3h0M61.4 183h0M47.7 186.9h0" stroke="#ff7f00" stroke-width="1.6" stroke-linecap="round"/><path d="M107.1 200.7h0M104.9 188.2h0M75.8 170.5h0M104 234.8h0M108.6 189.7h0M97.6 233.2h0M106.6 225.6h0M47.1 192.1h0M76.4 174.6h0M73.2 176.8h0M37.9 219h0M74.6 181.9h0M92.2 224.8h0M75.5 236.6h0M39.8 215.7h0M99.2 219.6h0M51 211.7h0M82.8 195h0M81.7 181.4h0M97.8 177.7h0M46.8 186.1h0M109 216.3h0M86.2 234.8h0M35.7 218.1h0M56.2 190.2h0M53.4 235.7h0M42.3 195.5h0M39.3 188.7h0M84.9 243.7h0M75.2 175.1h0M44 220.8h0" stroke="#ff7f00" stroke-width="1.7" stroke-linecap="round"/><path d="M38.6 190.8h0M76 238.3h0M83.1 171.7h0M103.7 237.9h0M35.6 213.8h0M111.9 198h0M46.9 215.9h0M106.5 203.4h0M92.1 239.9h0M64.7 243.9h0M80.7 177.4h0M94.2 199.7h0M94.2 228.5h0M59.2 241.3h0M96.6 186.6h0M83.3 184.6h0M69.7 242.6h0M106.8 235.8h0M37.6 227h0M93.1 185.3h0M87.9 194.5h0M100.2 195.1h0M100.8 193.5h0M44.1 191.8h0M96.8 220.2h0M51.7 184.7h0M102.3 199.1h0M101.3 235.7h0M55.3 237.9h0" stroke="#ff7f00" stroke-width="1.8" stroke-linecap="round"/><path d="M51 217.7h0M46.7 195.2h0M110.7 221.6h0M86.2 183.6h0M111.5 219.4h0M81.7 176.5h0M99 190.1h0M106.9 234.4h0M85.1 239.8h0M81.6 237.4h0M46 213.7h0M52.4 187.6h0M56.6 226.9h0M94.2 202.5h0M37.5 204.9h0M67 170.2h0M35.8 224h0M75.2 177.6h0M56.4 246.6h0M105.6 211.7h0M99.2 218.1h0M37.1 218h0" stroke="#ff7f00" stroke-width="1.9" stroke-linecap="round"/><path d="M44.6 204.9h0M109.7 219.6h0M99.4 201.8h0M79.9 245.2h0M56.9 173.5h0M54.4 183.7h0M91.6 182.3h0M104.3 205.5h0" stroke="#ff7f00" stroke-width="2.0" stroke-linecap="round"/><path d="M59.3 193.1h0M93 188.6h0M72 239.9h0M110.2 207.9h0M95.8 210.5h0M49.1 233.6h0M87.3 228.3h0M60.5 197.1h0M92.6 219.3h0M91.3 236.4h0M106.8 195.2h0" stroke="#ffff99" stroke-width="1.4" stroke-linecap="round"/><path d="M66 177.2h0M37 199.5h0M102.4 236.5h0M66.9 251.3h0M90.6 188.6h0M111.4 202.6h0M89.6 247.3h0M58.2 249.7h0M51 186.1h0M105.6 221h0M60.2 188.1h0M56 217.2h0M66.7 176.2h0M71.3 244.9h0M97.9 219.5h0M61.1 177.9h0M104.4 224.4h0M67.2 233.6h0M98.2 199.7h0M105.9 223.9h0M39.6 195.8h0M45 203.6h0M73.8 177.9h0M55.7 245.5h0M76.5 171.8h0M101.2 218.7h0M96.7 189.1h0M88.1 173.1h0" stroke="#ffff99" stroke-width="1.5" stroke-linecap="round"/><path d="M101.2 219.9h0M56.7 232.2h0M43.6 228.6h0M66 179h0M101.1 187.7h0M46 202.8h0M83.4 233.6h0M74.1 192.8h0M98.2 220.7h0M48.3 218.1h0M57.7 231.4h0M82.3 232.6h0M103.1 210.4h0M59.9 176.9h0M64.7 191.8h0" stroke="#ffff99" stroke-width="1.6" stroke-linecap="round"/><path d="M68.6 188.9h0M44.6 183.6h0M52.4 243h0M33.3 201.2h0M76.6 185.3h0M87.8 186.4h0M66.6 238.6h0M42.5 194h0M51.7 176.7h0M50.1 197.3h0M93.2 229.8h0M49.7 187.3h0M100.8 180.3h0M41 210.3h0M76.9 237.1h0M66 172.6h0M92.3 244.3h0M108.6 206.2h0" stroke="#ffff99" stroke-width="1.7" stroke-linecap="round"/><path d="M32.9 221.2h0M53.7 192.2h0M36.1 216.8h0M79.8 250.6h0M51.5 232.6h0M45.5 229.3h0M69.6 240.4h0M42 215.7h0M53.6 234.4h0M91.2 247.5h0M89.1 192.6h0M111.3 199.7h0M56.9 237.9h0M66.7 173.6h0M82.1 248.3h0M79.5 170h0M74.2 172.6h0M60.6 233.1h0" stroke="#ffff99" stroke-width="1.8" stroke-linecap="round"/><path d="M76.8 243.2h0M93.5 213.7h0M89.4 225.5h0M88 191.5h0M64.3 170.8h0M62.9 174.5h0M60.1 238.5h0M50.2 221.5h0M62.6 243.9h0M46.4 204.5h0M114.9 211.9h0M86.8 238h0M74.2 245.5h0" stroke="#ffff99" stroke-width="1.9" stroke-linecap="round"/><path d="M60.4 236.8h0M45.7 218.6h0" stroke="#ffff99" stroke-width="2.0" stroke-linecap="round"/><circle cx="65.5" cy="211.3" r="9.5" fill="#33a02c"/><circle cx="65.5" cy="211.3" r="9.5" fill="url(#shd)"/><circle cx="82.8" cy="210.7" r="7.4" fill="#fb9a99"/><circle cx="82.8" cy="210.7" r="7.4" fill="url(#shd)"/><circle cx="75.6" cy="224.5" r="7" fill="#b2df8a"/><circle cx="75.6" cy="224.5" r="7" fill="url(#shd)"/><circle cx="75.4" cy="199.3" r="5.7" fill="#b2df8a"/><circle cx="75.4" cy="199.3" r="5.7" fill="url(#shd)"/><circle cx="65.5" cy="197.6" r="3.6" fill="#6a3d9a"/><circle cx="65.5" cy="197.6" r="3.6" fill="url(#shd)"/><circle cx="84.5" cy="199.7" r="3.4" fill="#fb9a99"/><circle cx="84.5" cy="199.7" r="3.4" fill="url(#shd)"/><circle cx="90.2" cy="204" r="2.8" fill="#ffff99"/><circle cx="90.2" cy="204" r="2.8" fill="url(#shd)"/><circle cx="86.2" cy="222" r="3.2" fill="#a6cee3"/><circle cx="86.2" cy="222" r="3.2" fill="url(#shd)"/><circle cx="64.4" cy="224.5" r="3.2" fill="#cab2d6"/><circle cx="64.4" cy="224.5" r="3.2" fill="url(#shd)"/><circle cx="58.5" cy="221.5" r="2.3" fill="#e31a1c"/><circle cx="90.2" cy="217.7" r="2.1" fill="#e31a1c"/><circle cx="59.1" cy="200.3" r="2.3" fill="#1f78b4"/><circle cx="70.8" cy="192.3" r="2.1" fill="#1f78b4"/><circle cx="54.9" cy="205.4" r="3" fill="#a6cee3"/><circle cx="54.9" cy="205.4" r="3" fill="url(#shd)"/><circle cx="54.3" cy="214" r="2.4" fill="#a6cee3"/><circle cx="69.3" cy="230.5" r="1.6" fill="#e31a1c"/><circle cx="55.3" cy="199" r="1.5" fill="#33a02c"/><circle cx="78.3" cy="192.5" r="1.6" fill="#a6cee3"/><rect x="119.5" y="166.6" width="86.8" height="89.4" fill="#f2f2f2"/><path d="M132.6 228.4h0M186 180.6h0M132.5 236.6h0M199.9 220.1h0" stroke="#1f78b4" stroke-width="2.7" stroke-linecap="round"/><path d="M125.9 217.5h0M181.8 216.2h0M171.4 243.6h0M135.5 229.1h0M183.3 177.3h0M141.6 239.1h0M194.4 200.3h0M148.8 232.7h0M197.3 205.8h0M181.9 175.4h0" stroke="#1f78b4" stroke-width="2.8" stroke-linecap="round"/><path d="M143 191.7h0M168.1 237.7h0M143.7 206.5h0M175.4 231.7h0M175.1 249.9h0M154.3 230.2h0M182.8 245h0" stroke="#1f78b4" stroke-width="2.9" stroke-linecap="round"/><path d="M199.6 214.4h0M169.3 240.2h0M174 177.8h0M146.5 188.9h0M174.1 203.6h0" stroke="#1f78b4" stroke-width="3.0" stroke-linecap="round"/><path d="M160.7 189.7h0M148 230.1h0M176.9 195.6h0M164.9 232.3h0M129.5 227.5h0M192.3 198.5h0M181.7 220.7h0M127.5 230.8h0M127.9 203.2h0M137.7 227.4h0M185.3 204.2h0M195.7 208.1h0" stroke="#1f78b4" stroke-width="3.1" stroke-linecap="round"/><path d="M178.8 220.1h0M179.5 175.4h0M182.4 190.7h0M162 232.2h0M187.7 192.1h0M128.1 219h0" stroke="#1f78b4" stroke-width="3.2" stroke-linecap="round"/><path d="M180.1 225.9h0M152.3 225.9h0M181.8 200.7h0M140.7 186.8h0" stroke="#1f78b4" stroke-width="3.3" stroke-linecap="round"/><path d="M203.3 209.6h0M130.9 218.6h0M162.3 177.6h0M185.9 232.9h0M137.4 207.1h0M195 189.5h0M171.9 184h0" stroke="#1f78b4" stroke-width="3.4" stroke-linecap="round"/><path d="M190.1 182h0M185.6 206.9h0M185.5 211.6h0M123.3 212.4h0M188.6 208.7h0M162.2 206.5h0" stroke="#1f78b4" stroke-width="3.5" stroke-linecap="round"/><path d="M174.1 200.7h0" stroke="#1f78b4" stroke-width="4.3" stroke-linecap="round"/><path d="M164.9 224.9h0" stroke="#1f78b4" stroke-width="4.6" stroke-linecap="round"/><path d="M185.9 235.5h0M153.9 196.6h0M143.9 178.5h0M183.2 188.4h0M147.9 177.1h0M146.5 248.4h0" stroke="#33a02c" stroke-width="2.7" stroke-linecap="round"/><path d="M183.4 228.9h0M159.7 238.7h0M181.1 247h0M186.4 195.1h0M136.5 186.9h0M152.8 235.6h0" stroke="#33a02c" stroke-width="2.8" stroke-linecap="round"/><path d="M127.9 209.8h0M164.1 193.1h0M176.3 186.7h0M175.8 222.6h0M167.6 175h0M180.1 233.7h0M163.2 251.6h0" stroke="#33a02c" stroke-width="2.9" stroke-linecap="round"/><path d="M157.9 179.3h0M138.8 201.5h0M193.5 209.3h0M151.6 174.8h0M126.2 227.5h0M193.7 185.5h0M184.1 209.3h0" stroke="#33a02c" stroke-width="3.0" stroke-linecap="round"/><path d="M142.8 227.6h0M160.2 182.4h0M140.3 225.4h0" stroke="#33a02c" stroke-width="3.1" stroke-linecap="round"/><path d="M170.5 176h0M130.6 201.4h0M192.4 234.6h0M142.4 220.8h0" stroke="#33a02c" stroke-width="3.2" stroke-linecap="round"/><path d="M132.5 187.1h0M144.5 238.1h0M157.8 246.7h0M176.8 240.4h0" stroke="#33a02c" stroke-width="3.3" stroke-linecap="round"/><path d="M181.6 208.4h0M166.9 185.5h0M123.5 218.3h0" stroke="#33a02c" stroke-width="3.4" stroke-linecap="round"/><path d="M188 217h0M178.2 244.4h0" stroke="#33a02c" stroke-width="3.5" stroke-linecap="round"/><path d="M177.7 214h0M174.2 219.7h0" stroke="#33a02c" stroke-width="3.8" stroke-linecap="round"/><path d="M154.2 248.5h0M193.2 187.7h0M187.3 182.5h0M132.3 193.9h0M197.7 190.7h0" stroke="#6a3d9a" stroke-width="2.7" stroke-linecap="round"/><path d="M197.9 218.2h0M142.9 198.6h0M151.6 172.4h0M167.6 244.5h0M182.7 225.2h0M160.9 251.9h0M123.2 203.4h0" stroke="#6a3d9a" stroke-width="2.8" stroke-linecap="round"/><path d="M197.3 199.1h0M173.3 233h0M192 238.5h0M133 233.8h0" stroke="#6a3d9a" stroke-width="2.9" stroke-linecap="round"/><path d="M186.8 230.2h0M173.5 192.1h0M146.6 180.2h0M129.1 190h0M182.8 235h0M138.9 218h0" stroke="#6a3d9a" stroke-width="3.0" stroke-linecap="round"/><path d="M141.1 202.6h0M132 198.2h0M169.1 171.6h0M133.6 206.2h0" stroke="#6a3d9a" stroke-width="3.1" stroke-linecap="round"/><path d="M201 200.6h0M190.4 225.4h0M196.8 203.5h0M149.6 207.4h0" stroke="#6a3d9a" stroke-width="3.2" stroke-linecap="round"/><path d="M181.2 178.4h0M154.9 189.5h0M163.3 240.7h0M179.5 229.5h0M133 216.6h0M171.8 210.8h0" stroke="#6a3d9a" stroke-width="3.3" stroke-linecap="round"/><path d="M179.9 240h0" stroke="#6a3d9a" stroke-width="3.4" stroke-linecap="round"/><path d="M150.1 178.7h0M130 208h0" stroke="#6a3d9a" stroke-width="3.5" stroke-linecap="round"/><path d="M184.5 217.1h0" stroke="#6a3d9a" stroke-width="3.6" stroke-linecap="round"/><path d="M154.1 223.3h0" stroke="#6a3d9a" stroke-width="3.7" stroke-linecap="round"/><path d="M178 207.8h0" stroke="#6a3d9a" stroke-width="3.9" stroke-linecap="round"/><path d="M156.5 193.8h0M150.5 235.5h0" stroke="#a6cee3" stroke-width="2.7" stroke-linecap="round"/><path d="M177.9 191.8h0M195.6 192.1h0M159.8 233.6h0" stroke="#a6cee3" stroke-width="2.8" stroke-linecap="round"/><path d="M125.2 204.4h0M160.5 241.7h0" stroke="#a6cee3" stroke-width="2.9" stroke-linecap="round"/><path d="M151.9 198.8h0M153.2 233h0M142.2 244.9h0M203.3 212.5h0M187.7 237.5h0M188.4 200h0" stroke="#a6cee3" stroke-width="3.0" stroke-linecap="round"/><path d="M146.3 224.9h0M185 237.7h0M158.7 230h0" stroke="#a6cee3" stroke-width="3.1" stroke-linecap="round"/><path d="M157.5 176.5h0M141 206.1h0M199.1 196.9h0M124.8 201h0M142.2 241.7h0M191.7 207.6h0" stroke="#a6cee3" stroke-width="3.2" stroke-linecap="round"/><path d="M160.5 179.6h0M144.5 213.6h0M188.6 228.3h0" stroke="#a6cee3" stroke-width="3.3" stroke-linecap="round"/><path d="M128.9 215.3h0" stroke="#a6cee3" stroke-width="3.4" stroke-linecap="round"/><path d="M160.6 173.4h0M200.3 217.4h0" stroke="#a6cee3" stroke-width="3.5" stroke-linecap="round"/><path d="M172.8 249.5h0M130.4 205.6h0M134.1 199.7h0M193.5 218h0" stroke="#b15928" stroke-width="2.7" stroke-linecap="round"/><path d="M144.9 232.2h0M143 176.5h0M177.8 234.8h0M139.4 241.9h0M184.4 196.2h0" stroke="#b15928" stroke-width="2.8" stroke-linecap="round"/><path d="M145.3 193.8h0M186 226.3h0M195.4 196.9h0" stroke="#b15928" stroke-width="2.9" stroke-linecap="round"/><path d="M135.6 202h0M162.3 170.8h0" stroke="#b15928" stroke-width="3.0" stroke-linecap="round"/><path d="M134.7 194.6h0M189.7 239.1h0M186.4 240.2h0M174.3 183h0M176.6 236.8h0M136.7 242.2h0" stroke="#b15928" stroke-width="3.1" stroke-linecap="round"/><path d="M189.7 205.3h0M194.8 205.8h0M137.1 204h0M179.5 193.7h0" stroke="#b15928" stroke-width="3.2" stroke-linecap="round"/><path d="M150.9 229.7h0M125.3 198.3h0M178.8 197.2h0" stroke="#b15928" stroke-width="3.3" stroke-linecap="round"/><path d="M146.8 174.8h0M132 213.9h0M135.1 226.6h0M168.5 231.2h0" stroke="#b15928" stroke-width="3.5" stroke-linecap="round"/><path d="M181.2 196.5h0M140 244.4h0M125.8 206.7h0M144.7 235.7h0" stroke="#b2df8a" stroke-width="2.7" stroke-linecap="round"/><path d="M172.5 180h0M155.6 227.8h0M164.1 187.4h0M197.8 226.1h0M181.2 187.3h0" stroke="#b2df8a" stroke-width="2.8" stroke-linecap="round"/><path d="M155.8 250.4h0M146.9 239.9h0M143.1 204.3h0" stroke="#b2df8a" stroke-width="2.9" stroke-linecap="round"/><path d="M137.1 216.1h0M179 223h0M147.6 182.4h0M165.3 238.7h0M138.5 185.4h0M159.8 227.6h0" stroke="#b2df8a" stroke-width="3.0" stroke-linecap="round"/><path d="M138.6 189.2h0M161.2 184.8h0M130.6 234.8h0M193.8 203h0" stroke="#b2df8a" stroke-width="3.1" stroke-linecap="round"/><path d="M169.5 246.5h0" stroke="#b2df8a" stroke-width="3.2" stroke-linecap="round"/><path d="M164.1 181.6h0M152.5 185.7h0M164.2 175.4h0M131.8 211.2h0" stroke="#b2df8a" stroke-width="3.3" stroke-linecap="round"/><path d="M194.8 231.1h0M147.6 236.8h0M163.7 249.1h0M191.4 219.3h0" stroke="#b2df8a" stroke-width="3.4" stroke-linecap="round"/><path d="M135.5 238.2h0M149.1 195.5h0M201.8 206.9h0M145.4 242.7h0M184.5 201.1h0" stroke="#b2df8a" stroke-width="3.5" stroke-linecap="round"/><path d="M146.9 208.3h0" stroke="#b2df8a" stroke-width="3.7" stroke-linecap="round"/><path d="M155.6 245.4h0M176.7 179.5h0M145.5 177h0M159.6 187.5h0M199.7 204.9h0M171.7 194.1h0M154.7 184.5h0" stroke="#cab2d6" stroke-width="2.8" stroke-linecap="round"/><path d="M129.9 231.7h0M193.9 228h0M199.1 229.9h0" stroke="#cab2d6" stroke-width="2.9" stroke-linecap="round"/><path d="M131.6 189.6h0" stroke="#cab2d6" stroke-width="3.0" stroke-linecap="round"/><path d="M162.2 237.6h0M190.6 202.5h0M175.1 189.5h0M156.8 235.3h0M142.4 233.8h0M143 208.9h0M179.8 190.2h0" stroke="#cab2d6" stroke-width="3.1" stroke-linecap="round"/><path d="M149.1 191.2h0" stroke="#cab2d6" stroke-width="3.2" stroke-linecap="round"/><path d="M170.1 186.2h0M182.8 198.2h0" stroke="#cab2d6" stroke-width="3.3" stroke-linecap="round"/><path d="M141.3 189.7h0M151.3 188.6h0" stroke="#cab2d6" stroke-width="3.4" stroke-linecap="round"/><path d="M195.9 212.8h0M168.6 234.3h0M176.9 184.1h0M182.7 240.1h0M123.8 215.1h0" stroke="#cab2d6" stroke-width="3.5" stroke-linecap="round"/><path d="M138.9 195.7h0" stroke="#cab2d6" stroke-width="3.6" stroke-linecap="round"/><path d="M162.9 228h0" stroke="#cab2d6" stroke-width="4.6" stroke-linecap="round"/><path d="M144.3 211h0M136.3 189.2h0M151.7 238.5h0M144.1 196.5h0M200.1 226.9h0M199.3 193.9h0M137.3 191.8h0M146.4 195.9h0" stroke="#e31a1c" stroke-width="2.8" stroke-linecap="round"/><path d="M187.5 213.2h0M135.1 232.5h0M151 182.3h0M187 202.4h0M189.3 242.2h0M139.1 229.4h0M184.7 193.5h0M186.5 186.2h0M145.8 198.7h0M201.1 211.2h0" stroke="#e31a1c" stroke-width="2.9" stroke-linecap="round"/><path d="M133.2 208.8h0M173.5 173h0M189.5 234.5h0M126.1 222.2h0M155.3 186.8h0M142.3 230.6h0M176.8 225.9h0M197.3 194.9h0M139.5 192.9h0" stroke="#e31a1c" stroke-width="3.0" stroke-linecap="round"/><path d="M191.3 227.7h0M142 236.3h0M126.9 195.8h0M140.2 214.9h0M180.5 205.5h0M134.1 190.8h0M200 222.8h0M161.2 192.5h0M180.9 181.1h0" stroke="#e31a1c" stroke-width="3.1" stroke-linecap="round"/><path d="M161 247.7h0M166.5 229.3h0M157.8 196h0M147.6 211.3h0M192.9 212.8h0M182.1 194.1h0M154.7 192.1h0" stroke="#e31a1c" stroke-width="3.2" stroke-linecap="round"/><path d="M182.2 211.3h0M144.7 246.3h0M169.3 183.3h0M192.3 191.3h0M192.9 194.6h0" stroke="#e31a1c" stroke-width="3.3" stroke-linecap="round"/><path d="M141.1 179h0M168.1 178.5h0M192.1 231.7h0M123.3 207.2h0" stroke="#e31a1c" stroke-width="3.4" stroke-linecap="round"/><path d="M195.7 234.2h0M173.2 186.4h0M142.3 216.6h0" stroke="#e31a1c" stroke-width="3.5" stroke-linecap="round"/><path d="M171.3 223.5h0" stroke="#e31a1c" stroke-width="4.0" stroke-linecap="round"/><path d="M151.8 202.1h0" stroke="#e31a1c" stroke-width="4.3" stroke-linecap="round"/><path d="M169.7 219.7h0" stroke="#e31a1c" stroke-width="4.7" stroke-linecap="round"/><path d="M157.8 244.3h0M146.7 228h0" stroke="#fb9a99" stroke-width="2.7" stroke-linecap="round"/><path d="M178.3 181.3h0M126.8 213.4h0M128.5 192.5h0M164.5 184.8h0M171 196.4h0M138.8 209.4h0M197.5 231.7h0M178.9 247.4h0M203 218.2h0" stroke="#fb9a99" stroke-width="2.8" stroke-linecap="round"/><path d="M157.8 172.3h0M166 246.8h0M137.8 224.6h0" stroke="#fb9a99" stroke-width="2.9" stroke-linecap="round"/><path d="M135.2 223.4h0M145.1 229.7h0M174.8 175.4h0M166.6 182h0M181.2 213.9h0" stroke="#fb9a99" stroke-width="3.0" stroke-linecap="round"/><path d="M142.8 223.4h0M198.8 202h0" stroke="#fb9a99" stroke-width="3.1" stroke-linecap="round"/><path d="M173.9 226.5h0M152.4 193.1h0M163.6 244.3h0M149.2 173.4h0" stroke="#fb9a99" stroke-width="3.2" stroke-linecap="round"/><path d="M139 232.2h0M175.1 197.4h0" stroke="#fb9a99" stroke-width="3.3" stroke-linecap="round"/><path d="M172.2 189.1h0M181.4 237.2h0M155.6 240.1h0" stroke="#fb9a99" stroke-width="3.4" stroke-linecap="round"/><path d="M140.9 210.8h0M176.6 229.4h0M135.1 184.3h0M190.6 185.8h0M202.3 204.1h0" stroke="#fb9a99" stroke-width="3.5" stroke-linecap="round"/><path d="M176.9 205h0" stroke="#fb9a99" stroke-width="3.6" stroke-linecap="round"/><path d="M190 230.3h0M137 230.8h0M153.1 228.2h0" stroke="#fdbf6f" stroke-width="2.7" stroke-linecap="round"/><path d="M189.9 194.2h0M158.7 250.3h0M144.2 188.9h0M152.1 249.2h0M177.6 199.6h0M126 211h0M173.9 229h0" stroke="#fdbf6f" stroke-width="2.8" stroke-linecap="round"/><path d="M123.2 209.8h0M199 212.2h0M123.6 220.8h0M164.8 178.1h0M168.6 249.1h0M145.4 183.5h0" stroke="#fdbf6f" stroke-width="2.9" stroke-linecap="round"/><path d="M184.3 184.6h0M137.4 211.3h0M138.2 239.5h0M148.8 247.3h0M162.7 202.8h0M178.1 201.9h0M162.3 194.8h0" stroke="#fdbf6f" stroke-width="3.1" stroke-linecap="round"/><path d="M195.2 219.9h0M164.7 172h0M146.3 205.6h0M166.7 250.8h0M194.4 225.6h0" stroke="#fdbf6f" stroke-width="3.2" stroke-linecap="round"/><path d="M195.5 216.5h0" stroke="#fdbf6f" stroke-width="3.3" stroke-linecap="round"/><path d="M129.2 199h0M178.8 210.7h0M143.1 185h0M147.7 244.5h0" stroke="#fdbf6f" stroke-width="3.4" stroke-linecap="round"/><path d="M129.1 211.9h0M174.2 246.1h0M139.8 221.7h0M154.8 199.3h0M135.4 235.4h0M134.1 219.5h0" stroke="#fdbf6f" stroke-width="3.5" stroke-linecap="round"/><path d="M159.8 219.3h0" stroke="#fdbf6f" stroke-width="3.8" stroke-linecap="round"/><path d="M144.2 181.7h0M146.8 201.1h0" stroke="#ff7f00" stroke-width="2.7" stroke-linecap="round"/><path d="M152.6 180h0M160.8 235.7h0M190.6 215.5h0M160.3 245.1h0M163.8 190.7h0M179.4 183.5h0" stroke="#ff7f00" stroke-width="2.8" stroke-linecap="round"/><path d="M141.6 195.3h0M158 242.1h0M185.5 198.3h0M176.9 177.1h0M153.3 177.7h0M172.4 230.9h0M138.3 213.6h0" stroke="#ff7f00" stroke-width="2.9" stroke-linecap="round"/><path d="M138.5 235.2h0M133.8 203.6h0M150.7 241.1h0M134.4 212.9h0M170.6 237.8h0" stroke="#ff7f00" stroke-width="3.0" stroke-linecap="round"/><path d="M169.4 189.1h0M153.3 245.8h0M170.1 180.3h0M129.2 221.4h0M150.1 224.2h0M158.3 198.5h0M174.6 235.4h0M188.3 232.1h0M146.6 191.7h0" stroke="#ff7f00" stroke-width="3.1" stroke-linecap="round"/><path d="M202.2 215.3h0M171.3 226.4h0M131.7 225.2h0M197.3 221.7h0" stroke="#ff7f00" stroke-width="3.2" stroke-linecap="round"/><path d="M182.5 231.3h0M166.9 241.6h0M185.5 190.2h0M189.4 189.1h0M147 186.3h0M166.2 190.4h0M168.6 195.7h0" stroke="#ff7f00" stroke-width="3.3" stroke-linecap="round"/><path d="M202.1 221.1h0M153.5 182.3h0M156.1 220.9h0M167.7 199h0" stroke="#ff7f00" stroke-width="3.4" stroke-linecap="round"/><path d="M190.5 211.7h0M149 226.8h0" stroke="#ff7f00" stroke-width="3.5" stroke-linecap="round"/><path d="M132.2 230.9h0" stroke="#ffff99" stroke-width="2.7" stroke-linecap="round"/><path d="M180.9 243.4h0M154.9 243.1h0M187.9 223.4h0M171.7 241.2h0M176 173.1h0M127.8 205.8h0" stroke="#ffff99" stroke-width="2.8" stroke-linecap="round"/><path d="M137.3 181.2h0" stroke="#ffff99" stroke-width="2.9" stroke-linecap="round"/><path d="M185 243.8h0M166.5 193.9h0M146.9 234.2h0" stroke="#ffff99" stroke-width="3.0" stroke-linecap="round"/><path d="M184.5 214.1h0M184.5 223.6h0M196.2 228.8h0M182.7 204.5h0M178.4 231.9h0M149.3 184.4h0" stroke="#ffff99" stroke-width="3.1" stroke-linecap="round"/><path d="M170.6 250.9h0" stroke="#ffff99" stroke-width="3.2" stroke-linecap="round"/><path d="M189.6 197.5h0M164.3 235.2h0" stroke="#ffff99" stroke-width="3.3" stroke-linecap="round"/><path d="M169.4 192.5h0" stroke="#ffff99" stroke-width="3.4" stroke-linecap="round"/><path d="M198.4 208.3h0M149 199.9h0M139.8 181.7h0" stroke="#ffff99" stroke-width="3.5" stroke-linecap="round"/><circle cx="159" cy="211.7" r="4.2" fill="#a6cee3"/><circle cx="159" cy="211.7" r="4.2" fill="url(#shd)"/><circle cx="164.6" cy="218" r="2.8" fill="#1f78b4"/><circle cx="164.6" cy="218" r="2.8" fill="url(#shd)"/><circle cx="167" cy="211.7" r="3" fill="#ff7f00"/><circle cx="167" cy="211.7" r="3" fill="url(#shd)"/><circle cx="158.2" cy="204" r="2.3" fill="#e31a1c"/><circle cx="170.7" cy="206.2" r="2.3" fill="#e31a1c"/><circle cx="153.8" cy="205.8" r="2" fill="#1f78b4"/><circle cx="148" cy="218.5" r="4.2" fill="#b2df8a"/><circle cx="148" cy="218.5" r="4.2" fill="url(#shd)"/><circle cx="155" cy="217.4" r="1.9" fill="#6a3d9a"/><circle cx="166" cy="205.4" r="2.2" fill="#a6cee3"/><circle cx="152" cy="210.4" r="1.8" fill="#cab2d6"/><circle cx="172" cy="215.4" r="1.8" fill="#cab2d6"/><circle cx="164" cy="199.4" r="1.6" fill="#1f78b4"/><circle cx="160" cy="223.4" r="1.8" fill="#b2df8a"/><circle cx="175" cy="210.4" r="1.6" fill="#fdbf6f"/><rect x="208.9" y="166.6" width="87.4" height="89.4" fill="#f2f2f2"/><circle cx="252.4" cy="211.8" r="43" fill="#000" filter="url(#pnC)"/><path d="M260.1 213.8L293.2 222.5M258.5 217L284.6 239.1M257.3 218.1L278.2 245.2M254 219.6L260.8 253.1M248.9 219L234.1 249.8M246.3 217L220.1 239M244.7 213.9L211.7 223M244.4 211.1L210.3 208.3M245.9 207.2L217.9 187.6M248.5 204.8L231.8 175M251.9 203.8L249.5 169.7M254.5 204.1L263.5 171.1M258.1 206.2L282.4 182.1M259.9 209.1L292.1 197.6" stroke="#fff" stroke-width="0.7" opacity="0.45"/><path d="M262 222L280 246M264 221L283 244M258 224L270 250M240 200L226 182" stroke="#fff" stroke-width="0.6" opacity="0.6"/><path d="M248.8 206.6h0" stroke="#1f78b4" stroke-width="1.1" stroke-linecap="round"/><path d="M249.3 205.7h0" stroke="#1f78b4" stroke-width="1.6" stroke-linecap="round"/><path d="M246.6 207.1h0" stroke="#33a02c" stroke-width="1.1" stroke-linecap="round"/><path d="M247.3 216.4h0M252.1 219.1h0M250.8 216.3h0" stroke="#33a02c" stroke-width="1.2" stroke-linecap="round"/><path d="M258.6 209.2h0" stroke="#33a02c" stroke-width="1.3" stroke-linecap="round"/><path d="M247.6 217.4h0M256.1 214.5h0" stroke="#6a3d9a" stroke-width="1.2" stroke-linecap="round"/><path d="M255.4 205.7h0" stroke="#6a3d9a" stroke-width="1.8" stroke-linecap="round"/><path d="M258 216.7h0" stroke="#a6cee3" stroke-width="1.2" stroke-linecap="round"/><path d="M249.6 218.6h0M250.2 205.2h0" stroke="#a6cee3" stroke-width="1.3" stroke-linecap="round"/><path d="M247.6 206.7h0" stroke="#a6cee3" stroke-width="1.7" stroke-linecap="round"/><path d="M248.8 217.9h0" stroke="#b15928" stroke-width="1.1" stroke-linecap="round"/><path d="M249.7 217.3h0" stroke="#b2df8a" stroke-width="1.7" stroke-linecap="round"/><path d="M256.4 206.3h0M253.9 212.5h0" stroke="#cab2d6" stroke-width="1.1" stroke-linecap="round"/><path d="M253.4 205.9h0" stroke="#cab2d6" stroke-width="2.0" stroke-linecap="round"/><path d="M254.2 205h0" stroke="#e31a1c" stroke-width="1.1" stroke-linecap="round"/><path d="M252.5 207.6h0M251 218.1h0M257.3 208.5h0" stroke="#e31a1c" stroke-width="1.2" stroke-linecap="round"/><path d="M257.5 207.2h0M254.8 213.5h0M253.3 209.1h0" stroke="#fdbf6f" stroke-width="1.3" stroke-linecap="round"/><path d="M251.5 217.2h0" stroke="#fdbf6f" stroke-width="1.8" stroke-linecap="round"/><path d="M259.5 213.2h0" stroke="#ff7f00" stroke-width="1.6" stroke-linecap="round"/><path d="M254.2 210.4h0" stroke="#ff7f00" stroke-width="1.7" stroke-linecap="round"/><path d="M253.2 204.3h0" stroke="#ffff99" stroke-width="1.1" stroke-linecap="round"/><path d="M253.5 214h0" stroke="#ffff99" stroke-width="1.3" stroke-linecap="round"/><circle cx="249" cy="211.7" r="4.2" fill="#ff7f00"/><circle cx="249" cy="211.7" r="4.2" fill="url(#shd)"/><circle cx="257" cy="211.7" r="2.1" fill="#fdbf6f"/><circle cx="254.6" cy="217" r="2.1" fill="#ffff99"/><circle cx="255" cy="208" r="1.3" fill="#33a02c"/><circle cx="251.4" cy="206.3" r="1" fill="#1f78b4"/><circle cx="258.4" cy="214.8" r="1" fill="#e31a1c"/><rect x="298.5" y="166.6" width="87.8" height="89.4" fill="#f2f2f2"/><circle cx="342.2" cy="211.8" r="43.3" fill="#000" filter="url(#pnB)"/><path d="M347.2 212L384.6 213.9M346.7 214L380.2 230.8M345.8 215.3L372.5 241.6M344.1 216.4L358.6 251M342.4 216.8L344 254.3M341.3 216.7L334.2 253.5M339.7 216.1L320.8 248.5M337.9 214.3L305.4 233M337.4 213.3L301.5 224.1M337.2 211.6L299.8 209.7M338 209.2L306.1 189.3M338.7 208.2L312.5 181.4M340.5 207.1L327.7 171.9M341.8 206.8L339 169.4M343.7 207L355.1 171.3M344.8 207.6L364.6 175.7M346.4 209.1L378.1 189M347.1 211L384.1 204.7" stroke="#fff" stroke-width="0.7" opacity="0.32"/><path d="M343.5 208.8h0" stroke="#6a3d9a" stroke-width="1.7" stroke-linecap="round"/><path d="M345.1 210.1h0" stroke="#a6cee3" stroke-width="1.2" stroke-linecap="round"/><path d="M343.9 214.7h0" stroke="#b2df8a" stroke-width="1.4" stroke-linecap="round"/><path d="M344.4 209.5h0" stroke="#e31a1c" stroke-width="1.1" stroke-linecap="round"/><path d="M342.1 208.8h0" stroke="#fdbf6f" stroke-width="1.5" stroke-linecap="round"/><path d="M342.7 210.1h0" stroke="#ff7f00" stroke-width="1.9" stroke-linecap="round"/><circle cx="340.1" cy="212" r="1.7" fill="#ff7f00"/><circle cx="343.9" cy="212.3" r="1.4" fill="#b2df8a"/><circle cx="341.8" cy="214.7" r="1" fill="#e31a1c"/><circle cx="339.6" cy="215.2" r="0.8" fill="#1f78b4"/><circle cx="340.6" cy="209.4" r="0.8" fill="#e31a1c"/><circle cx="337.8" cy="211" r="0.7" fill="#ff7f00"/><text x="12.6" y="15" font-size="10.7" font-weight="bold" fill="#000" textLength="8.8" lengthAdjust="spacingAndGlyphs">A</text><text x="34.6" y="15" font-size="9.2">Patient A</text><text x="14.1" y="161.6" font-size="10.2" font-weight="bold" fill="#000" textLength="7.6" lengthAdjust="spacingAndGlyphs">B</text><text x="34.2" y="162.7" font-size="9.2">Patient B</text><text x="73.8" y="119.9" font-size="8.6" text-anchor="middle" textLength="17.7" lengthAdjust="spacingAndGlyphs">Treg</text><text x="161.6" y="121.5" font-size="8.6" text-anchor="middle" textLength="12.5" lengthAdjust="spacingAndGlyphs">Tfh</text><text x="250" y="121.8" font-size="8.6" text-anchor="middle" textLength="18.4" lengthAdjust="spacingAndGlyphs">CD8</text><text x="340" y="121.8" font-size="8.6" text-anchor="middle" textLength="18.4" lengthAdjust="spacingAndGlyphs">CD4</text><text x="73.3" y="267" font-size="8.6" text-anchor="middle" textLength="17.9" lengthAdjust="spacingAndGlyphs">Treg</text><text x="161.5" y="266.4" font-size="8.6" text-anchor="middle" textLength="12.9" lengthAdjust="spacingAndGlyphs">Tfh</text><text x="249.8" y="267" font-size="8.6" text-anchor="middle" textLength="18.8" lengthAdjust="spacingAndGlyphs">CD8</text><text x="339.5" y="266.4" font-size="8.6" text-anchor="middle" textLength="18.3" lengthAdjust="spacingAndGlyphs">CD4</text><text x="32.7" y="133" font-size="8.1" textLength="40.4" lengthAdjust="spacingAndGlyphs">Shannon_H</text><text x="32.7" y="142.2" font-size="8.1" textLength="46.5" lengthAdjust="spacingAndGlyphs">Simpson_1-D</text><text x="92.2" y="133" font-size="8.0" textLength="20.6" lengthAdjust="spacingAndGlyphs">7.166</text><text x="90.3" y="142.2" font-size="8.0" textLength="24.400000000000002" lengthAdjust="spacingAndGlyphs">0.9975</text><text x="120.8" y="134" font-size="8.1" textLength="40.4" lengthAdjust="spacingAndGlyphs">Shannon_H</text><text x="120.8" y="143.6" font-size="8.1" textLength="46.5" lengthAdjust="spacingAndGlyphs">Simpson_1-D</text><text x="178" y="134" font-size="8.0" textLength="20.3" lengthAdjust="spacingAndGlyphs">7.589</text><text x="177.5" y="143.6" font-size="8.0" textLength="25.3" lengthAdjust="spacingAndGlyphs">0.9993</text><text x="208.7" y="134.5" font-size="8.1" textLength="40.4" lengthAdjust="spacingAndGlyphs">Shannon_H</text><text x="208.7" y="144.2" font-size="8.1" textLength="46.5" lengthAdjust="spacingAndGlyphs">Simpson_1-D</text><text x="266.4" y="134.5" font-size="8.0" textLength="19.5" lengthAdjust="spacingAndGlyphs">6.069</text><text x="265.8" y="144.2" font-size="8.0" textLength="24.900000000000002" lengthAdjust="spacingAndGlyphs">0.9558</text><text x="298.7" y="134.5" font-size="8.1" textLength="40.4" lengthAdjust="spacingAndGlyphs">Shannon_H</text><text x="298.7" y="144.2" font-size="8.1" textLength="46.5" lengthAdjust="spacingAndGlyphs">Simpson_1-D</text><text x="356.8" y="134.5" font-size="8.0" textLength="15.8" lengthAdjust="spacingAndGlyphs">10.4</text><text x="356.4" y="144.2" font-size="8.0" textLength="24.3" lengthAdjust="spacingAndGlyphs">0.9999</text><text x="32.3" y="279.5" font-size="8.1" textLength="40.4" lengthAdjust="spacingAndGlyphs">Shannon_H</text><text x="32.3" y="288.9" font-size="8.1" textLength="46.5" lengthAdjust="spacingAndGlyphs">Simpson_1-D</text><text x="89.5" y="279.5" font-size="8.0" textLength="20.0" lengthAdjust="spacingAndGlyphs">7.382</text><text x="89.5" y="288.9" font-size="8.0" textLength="24.6" lengthAdjust="spacingAndGlyphs">0.9947</text><text x="122.7" y="279.3" font-size="8.1" textLength="40.4" lengthAdjust="spacingAndGlyphs">Shannon_H</text><text x="122.7" y="288.9" font-size="8.1" textLength="46.5" lengthAdjust="spacingAndGlyphs">Simpson_1-D</text><text x="179.9" y="279.3" font-size="8.0" textLength="16.2" lengthAdjust="spacingAndGlyphs">6.75</text><text x="179.5" y="288.9" font-size="8.0" textLength="20.8" lengthAdjust="spacingAndGlyphs">0.998</text><text x="208.7" y="278.9" font-size="8.1" textLength="40.4" lengthAdjust="spacingAndGlyphs">Shannon_H</text><text x="208.7" y="288.5" font-size="8.1" textLength="46.5" lengthAdjust="spacingAndGlyphs">Simpson_1-D</text><text x="265.8" y="278.9" font-size="8.0" textLength="20.7" lengthAdjust="spacingAndGlyphs">9.413</text><text x="265.8" y="288.5" font-size="8.0" textLength="24.900000000000002" lengthAdjust="spacingAndGlyphs">0.9998</text><text x="300.6" y="280.5" font-size="8.1" textLength="40.4" lengthAdjust="spacingAndGlyphs">Shannon_H</text><text x="300.6" y="289.5" font-size="8.1" textLength="46.5" lengthAdjust="spacingAndGlyphs">Simpson_1-D</text><text x="358.3" y="280.5" font-size="8.0" textLength="20.5" lengthAdjust="spacingAndGlyphs">10-78</text><text x="356.5" y="289.5" font-size="8.0">1</text><text x="401.8" y="16.8" font-size="10.0" font-weight="bold" fill="#000" textLength="8.2" lengthAdjust="spacingAndGlyphs">C</text><text x="445.4" y="19" font-size="7.9" text-anchor="middle" textLength="13.5" lengthAdjust="spacingAndGlyphs">pre-</text><text x="445.8" y="28" font-size="7.9" text-anchor="middle" textLength="20.2" lengthAdjust="spacingAndGlyphs">HSCT</text><text x="467.8" y="19" font-size="7.9" text-anchor="middle" textLength="16.9" lengthAdjust="spacingAndGlyphs">post-</text><text x="468.1" y="28" font-size="7.9" text-anchor="middle" textLength="19.8" lengthAdjust="spacingAndGlyphs">HSCT</text><path d="M435.7 31.5H455.9M458.2 31.5H478" stroke="#231f20" stroke-width="1.1"/><text x="441.7" y="56.2" font-size="7.2" textLength="21.6" lengthAdjust="spacingAndGlyphs" transform="rotate(-90 441.7 56.2)">Pat. A</text><text x="452.1" y="56.2" font-size="7.2" textLength="21.6" lengthAdjust="spacingAndGlyphs" transform="rotate(-90 452.1 56.2)">Pat. B</text><text x="463.9" y="56.2" font-size="7.2" textLength="21.6" lengthAdjust="spacingAndGlyphs" transform="rotate(-90 463.9 56.2)">Pat. A</text><text x="474.6" y="56.2" font-size="7.2" textLength="21.6" lengthAdjust="spacingAndGlyphs" transform="rotate(-90 474.6 56.2)">Pat. B</text><rect x="432" y="60.7" width="47.6" height="11.2" fill="#fff"/><rect x="434.5" y="64.8" width="9.4" height="2.9" rx="1.5" fill="rgb(0,0,0)" filter="url(#bl)"/><rect x="445.9" y="64.7" width="9.4" height="3.1" rx="1.6" fill="rgb(0,0,0)" filter="url(#bl)"/><rect x="456.7" y="65" width="9.4" height="2.7" rx="1.3" fill="rgb(12,12,12)" filter="url(#bl)"/><rect x="467.5" y="65" width="9.4" height="2.7" rx="1.3" fill="rgb(12,12,12)" filter="url(#bl)"/><rect x="432" y="60.7" width="47.6" height="11.2" fill="none" stroke="#111" stroke-width="1.3"/><text x="426.2" y="69.6" font-size="8.2" text-anchor="end">55</text><path d="M426.8 66.7H431" stroke="#231f20" stroke-width="0.9"/><text x="483.2" y="69.6" font-size="8.2">Rpn5</text><rect x="432" y="74.8" width="47.6" height="10.8" fill="#fff"/><rect x="434.5" y="78.4" width="9.4" height="3.6" rx="1.8" fill="rgb(0,0,0)" filter="url(#bl)"/><rect x="445.9" y="79.2" width="9.4" height="1.9" rx="1" fill="rgb(63,63,63)" filter="url(#bl)"/><rect x="456.7" y="78.5" width="9.4" height="3.4" rx="1.7" fill="rgb(0,0,0)" filter="url(#bl)"/><rect x="467.5" y="78.5" width="9.4" height="3.4" rx="1.7" fill="rgb(0,0,0)" filter="url(#bl)"/><rect x="432" y="74.8" width="47.6" height="10.8" fill="none" stroke="#111" stroke-width="1.3"/><text x="426.2" y="82.9" font-size="8.2" text-anchor="end">40</text><path d="M426.8 80H431" stroke="#231f20" stroke-width="0.9"/><text x="483.2" y="83.4" font-size="8.2">Rpn13</text><rect x="432" y="88.5" width="47.6" height="10.5" fill="#fff"/><rect x="434.5" y="92.2" width="9.4" height="3.1" rx="1.6" fill="rgb(0,0,0)" filter="url(#bl)"/><rect x="445.9" y="92.6" width="9.4" height="2.5" rx="1.2" fill="rgb(12,12,12)" filter="url(#bl)"/><rect x="456.7" y="92.6" width="9.4" height="2.5" rx="1.2" fill="rgb(12,12,12)" filter="url(#bl)"/><rect x="467.5" y="92.6" width="9.4" height="2.5" rx="1.2" fill="rgb(12,12,12)" filter="url(#bl)"/><rect x="432" y="88.5" width="47.6" height="10.5" fill="none" stroke="#111" stroke-width="1.3"/><text x="426.2" y="99.9" font-size="8.2" text-anchor="end">40</text><path d="M426.8 97H431" stroke="#231f20" stroke-width="0.9"/><text x="483.2" y="97.2" font-size="8.2">Rpt1</text><rect x="432" y="102" width="47.6" height="10.8" fill="#fff"/><rect x="434.5" y="105.9" width="9.4" height="2.9" rx="1.5" fill="rgb(0,0,0)" filter="url(#bl)"/><rect x="445.9" y="105.9" width="9.4" height="2.9" rx="1.5" fill="rgb(0,0,0)" filter="url(#bl)"/><rect x="456.7" y="106" width="9.4" height="2.8" rx="1.4" fill="rgb(0,0,0)" filter="url(#bl)"/><rect x="467.5" y="106" width="9.4" height="2.8" rx="1.4" fill="rgb(0,0,0)" filter="url(#bl)"/><rect x="432" y="102" width="47.6" height="10.8" fill="none" stroke="#111" stroke-width="1.3"/><text x="426.2" y="109.6" font-size="8.2" text-anchor="end">55</text><path d="M426.8 106.7H431" stroke="#231f20" stroke-width="0.9"/><text x="483.2" y="110.9" font-size="8.2">Rpt2</text><rect x="432" y="116.1" width="47.6" height="10.8" fill="#fff"/><rect x="434.5" y="120.7" width="9.4" height="1.8" rx="0.9" fill="rgb(50,50,50)" filter="url(#bl)"/><rect x="445.9" y="120.8" width="9.4" height="1.7" rx="0.8" fill="rgb(50,50,50)" filter="url(#bl)"/><rect x="456.7" y="120.3" width="9.4" height="2.7" rx="1.3" fill="rgb(12,12,12)" filter="url(#bl)"/><rect x="467.5" y="119.7" width="9.4" height="3.8" rx="1.9" fill="rgb(0,0,0)" filter="url(#bl)"/><rect x="432" y="116.1" width="47.6" height="10.8" fill="none" stroke="#111" stroke-width="1.3"/><text x="426.2" y="124.9" font-size="8.2" text-anchor="end">55</text><path d="M426.8 122H431" stroke="#231f20" stroke-width="0.9"/><text x="483.2" y="124.4" font-size="8.2">Rpt3</text><rect x="432" y="129.8" width="47.6" height="10.8" fill="#fff"/><rect x="434.5" y="133.4" width="9.4" height="3.6" rx="1.8" fill="rgb(0,0,0)" filter="url(#bl)"/><rect x="445.9" y="133.4" width="9.4" height="3.6" rx="1.8" fill="rgb(0,0,0)" filter="url(#bl)"/><rect x="456.7" y="133.6" width="9.4" height="3.1" rx="1.6" fill="rgb(0,0,0)" filter="url(#bl)"/><rect x="467.5" y="133.6" width="9.4" height="3.1" rx="1.6" fill="rgb(0,0,0)" filter="url(#bl)"/><rect x="432" y="129.8" width="47.6" height="10.8" fill="none" stroke="#111" stroke-width="1.3"/><text x="426.2" y="138.6" font-size="8.2" text-anchor="end">40</text><path d="M426.8 135.7H431" stroke="#231f20" stroke-width="0.9"/><text x="483.2" y="137.9" font-size="8.2">Rpt4</text><rect x="432" y="143.3" width="47.6" height="17.5" fill="#fff"/><rect x="434.5" y="146.2" width="9.4" height="3.6" rx="1.8" fill="rgb(0,0,0)" filter="url(#bl)"/><rect x="445.9" y="146.3" width="9.4" height="3.4" rx="1.7" fill="rgb(0,0,0)" filter="url(#bl)"/><rect x="456.7" y="146.7" width="9.4" height="2.7" rx="1.3" fill="rgb(12,12,12)" filter="url(#bl)"/><rect x="467.5" y="146.4" width="9.4" height="3.1" rx="1.6" fill="rgb(0,0,0)" filter="url(#bl)"/><rect x="434.5" y="154.7" width="9.4" height="3.4" rx="1.7" fill="rgb(0,0,0)" filter="url(#bl)"/><rect x="445.9" y="154.4" width="9.4" height="4" rx="2" fill="rgb(0,0,0)" filter="url(#bl)"/><rect x="456.7" y="154.8" width="9.4" height="3.1" rx="1.6" fill="rgb(0,0,0)" filter="url(#bl)"/><rect x="467.5" y="154.6" width="9.4" height="3.6" rx="1.8" fill="rgb(0,0,0)" filter="url(#bl)"/><rect x="432" y="143.3" width="47.6" height="17.5" fill="none" stroke="#111" stroke-width="1.3"/><text x="426.2" y="156.5" font-size="8.2" text-anchor="end">40</text><path d="M426.8 153.6H431" stroke="#231f20" stroke-width="0.9"/><text x="483.2" y="154.9" font-size="8.2">Rpt5</text><rect x="432" y="164.4" width="47.6" height="10.6" fill="#fff"/><rect x="434.5" y="168.1" width="9.4" height="2.7" rx="1.3" fill="rgb(0,0,0)" filter="url(#bl)"/><rect x="445.9" y="168.3" width="9.4" height="2.2" rx="1.1" fill="rgb(25,25,25)" filter="url(#bl)"/><rect x="456.7" y="168.2" width="9.4" height="2.5" rx="1.2" fill="rgb(12,12,12)" filter="url(#bl)"/><rect x="467.5" y="168.2" width="9.4" height="2.5" rx="1.2" fill="rgb(20,20,20)" filter="url(#bl)"/><rect x="432" y="164.4" width="47.6" height="10.6" fill="none" stroke="#111" stroke-width="1.3"/><text x="426.2" y="176.5" font-size="8.2" text-anchor="end">40</text><path d="M426.8 173.6H431" stroke="#231f20" stroke-width="0.9"/><text x="483.2" y="172.4" font-size="8.2">Rpt6</text><rect x="432" y="178" width="47.6" height="10.9" fill="#fff"/><rect x="434.5" y="181.7" width="9.4" height="3.4" rx="1.7" fill="rgb(0,0,0)" filter="url(#bl)"/><rect x="445.9" y="181.6" width="9.4" height="3.6" rx="1.8" fill="rgb(0,0,0)" filter="url(#bl)"/><rect x="456.7" y="182.3" width="9.4" height="2.2" rx="1.1" fill="rgb(114,114,114)" filter="url(#bl)"/><rect x="467.5" y="181.9" width="9.4" height="2.9" rx="1.5" fill="rgb(12,12,12)" filter="url(#bl)"/><rect x="432" y="178" width="47.6" height="10.9" fill="none" stroke="#111" stroke-width="1.3"/><text x="426.2" y="189" font-size="8.2" text-anchor="end">25</text><path d="M426.8 186.1H431" stroke="#231f20" stroke-width="0.9"/><text x="483.2" y="185.9" font-size="8.2">PA28α</text><rect x="432" y="191.9" width="47.6" height="10.9" fill="#fff"/><rect x="434.5" y="196.1" width="9.4" height="2.7" rx="1.3" fill="rgb(0,0,0)" filter="url(#bl)"/><rect x="445.9" y="196.3" width="9.4" height="2.1" rx="1.1" fill="rgb(76,76,76)" filter="url(#bl)"/><rect x="456.7" y="196.2" width="9.4" height="2.4" rx="1.2" fill="rgb(63,63,63)" filter="url(#bl)"/><rect x="467.5" y="196.3" width="9.4" height="2.1" rx="1.1" fill="rgb(102,102,102)" filter="url(#bl)"/><rect x="432" y="191.9" width="47.6" height="10.9" fill="none" stroke="#111" stroke-width="1.3"/><text x="426.2" y="196.2" font-size="8.2" text-anchor="end">25</text><path d="M426.8 193.3H431" stroke="#231f20" stroke-width="0.9"/><text x="483.2" y="199.9" font-size="8.2">LMP2</text><rect x="432" y="205.9" width="47.6" height="10.9" fill="#fff"/><rect x="434.5" y="210.1" width="9.4" height="2.7" rx="1.3" fill="rgb(38,38,38)" filter="url(#bl)"/><rect x="445.9" y="210.2" width="9.4" height="2.5" rx="1.2" fill="rgb(25,25,25)" filter="url(#bl)"/><rect x="456.7" y="209.7" width="9.4" height="3.4" rx="1.7" fill="rgb(0,0,0)" filter="url(#bl)"/><rect x="467.5" y="209.8" width="9.4" height="3.1" rx="1.6" fill="rgb(0,0,0)" filter="url(#bl)"/><rect x="432" y="205.9" width="47.6" height="10.9" fill="none" stroke="#111" stroke-width="1.3"/><text x="426.2" y="210.9" font-size="8.2" text-anchor="end">25</text><path d="M426.8 208H431" stroke="#231f20" stroke-width="0.9"/><text x="483.2" y="213.9" font-size="8.2">LMP7</text><rect x="432" y="220.1" width="47.6" height="16.5" fill="#fff"/><rect x="434.5" y="223" width="9.4" height="2.2" rx="1.1" fill="rgb(38,38,38)" filter="url(#bl)"/><rect x="445.9" y="223.2" width="9.4" height="1.8" rx="0.9" fill="rgb(165,165,165)" filter="url(#bl)"/><rect x="456.7" y="223.2" width="9.4" height="1.8" rx="0.9" fill="rgb(153,153,153)" filter="url(#bl)"/><rect x="467.5" y="223.3" width="9.4" height="1.6" rx="0.8" fill="rgb(191,191,191)" filter="url(#bl)"/><rect x="434.5" y="231.2" width="9.4" height="2.9" rx="1.5" fill="rgb(0,0,0)" filter="url(#bl)"/><rect x="445.9" y="231.5" width="9.4" height="2.5" rx="1.2" fill="rgb(0,0,0)" filter="url(#bl)"/><rect x="456.7" y="231.7" width="9.4" height="2" rx="1" fill="rgb(63,63,63)" filter="url(#bl)"/><rect x="467.5" y="231.7" width="9.4" height="2" rx="1" fill="rgb(50,50,50)" filter="url(#bl)"/><rect x="432" y="220.1" width="47.6" height="16.5" fill="none" stroke="#111" stroke-width="1.3"/><text x="426.2" y="224.4" font-size="8.2" text-anchor="end">25</text><path d="M426.8 221.5H431" stroke="#231f20" stroke-width="0.9"/><text x="483.2" y="230.9" font-size="8.2">Beta5</text><rect x="432" y="240.3" width="47.6" height="14.7" fill="#fff"/><rect x="434.5" y="242.7" width="9.4" height="2.5" rx="1.2" fill="rgb(12,12,12)" filter="url(#bl)"/><rect x="445.9" y="242.7" width="9.4" height="2.5" rx="1.2" fill="rgb(12,12,12)" filter="url(#bl)"/><rect x="456.7" y="243" width="9.4" height="1.8" rx="0.9" fill="rgb(89,89,89)" filter="url(#bl)"/><rect x="467.5" y="242.3" width="9.4" height="3.1" rx="1.6" fill="rgb(0,0,0)" filter="url(#bl)"/><rect x="434.5" y="250" width="9.4" height="2.7" rx="1.3" fill="rgb(0,0,0)" filter="url(#bl)"/><rect x="445.9" y="250.1" width="9.4" height="2.5" rx="1.2" fill="rgb(0,0,0)" filter="url(#bl)"/><rect x="456.7" y="250.1" width="9.4" height="2.5" rx="1.2" fill="rgb(0,0,0)" filter="url(#bl)"/><rect x="467.5" y="250" width="9.4" height="2.7" rx="1.3" fill="rgb(0,0,0)" filter="url(#bl)"/><rect x="432" y="240.3" width="47.6" height="14.7" fill="none" stroke="#111" stroke-width="1.3"/><text x="426.2" y="244.3" font-size="8.2" text-anchor="end">25</text><path d="M426.8 241.4H431" stroke="#231f20" stroke-width="0.9"/><text x="483.2" y="250.9" font-size="8.2">Beta1</text><rect x="432" y="257.5" width="47.6" height="15.6" fill="#fff"/><ellipse cx="439.6" cy="265.3" rx="6.2" ry="5.8" fill="#000" filter="url(#bl)"/><ellipse cx="451.2" cy="265.8" rx="4.4" ry="3.4" fill="#1a1a1a" filter="url(#bl2)"/><ellipse cx="462" cy="265.6" rx="4.6" ry="3.5" fill="#080808" filter="url(#bl)"/><ellipse cx="472.8" cy="265.6" rx="3.2" ry="2.6" fill="#888" filter="url(#bl2)"/><rect x="432" y="257.5" width="47.6" height="15.6" fill="none" stroke="#111" stroke-width="1.3"/><text x="426.2" y="268.5" font-size="8.2" text-anchor="end">17</text><path d="M426.8 265.6H431" stroke="#231f20" stroke-width="0.9"/><text x="483.2" y="268.4" font-size="8.2">POMP</text><rect x="432" y="275.6" width="47.6" height="11" fill="#fff"/><rect x="434.5" y="278.7" width="9.4" height="4" rx="2" fill="rgb(0,0,0)" filter="url(#bl)"/><rect x="445.9" y="278.7" width="9.4" height="4" rx="2" fill="rgb(0,0,0)" filter="url(#bl)"/><rect x="456.7" y="278.7" width="9.4" height="4" rx="2" fill="rgb(0,0,0)" filter="url(#bl)"/><rect x="467.5" y="278.7" width="9.4" height="4" rx="2" fill="rgb(0,0,0)" filter="url(#bl)"/><rect x="432" y="275.6" width="47.6" height="11" fill="none" stroke="#111" stroke-width="1.3"/><text x="426.2" y="284.1" font-size="8.2" text-anchor="end">35</text><path d="M426.8 281.2H431" stroke="#231f20" stroke-width="0.9"/><text x="483.2" y="283.9" font-size="8.2">GAPDH</text><text x="13.1" y="313.7" font-size="10.6" font-weight="bold" fill="#000" textLength="8.4" lengthAdjust="spacingAndGlyphs">D</text><text x="46.5" y="358" font-size="7.4" textLength="53.6" lengthAdjust="spacingAndGlyphs" transform="rotate(-90 46.5 358)">20S/26S Reference</text><text x="56" y="358" font-size="7.4" textLength="46.6" lengthAdjust="spacingAndGlyphs" transform="rotate(-90 56 358)">Pat. A/pre-HSCT</text><text x="65.4" y="358" font-size="7.4" textLength="49.8" lengthAdjust="spacingAndGlyphs" transform="rotate(-90 65.4 358)">Pat. A/post-HSCT</text><text x="74.8" y="358" font-size="7.4" textLength="45.8" lengthAdjust="spacingAndGlyphs" transform="rotate(-90 74.8 358)">Pat. B/pre-HSCT</text><text x="84.1" y="358" font-size="7.4" textLength="48.9" lengthAdjust="spacingAndGlyphs" transform="rotate(-90 84.1 358)">Pat. B/post-HSCT</text><rect x="40.1" y="359.8" width="46.7" height="169.8" fill="#0b0b0b"/><rect x="40.1" y="444.1" width="46.7" height="1.4" fill="#5a5a5a"/><rect x="42" y="380.8" width="6.6" height="1.6" rx="1" fill="rgb(70,70,70)" filter="url(#gl)"/><rect x="41.4" y="391.5" width="7.8" height="4.4" fill="rgb(40,40,40)" filter="url(#gl2)"/><rect x="41.9" y="392.7" width="6.8" height="2" rx="1" fill="rgb(140,140,140)" filter="url(#gl)"/><rect x="51.2" y="378.8" width="6.6" height="1.6" rx="1" fill="rgb(48,48,48)" filter="url(#gl)"/><rect x="50.6" y="389.5" width="7.8" height="4.4" fill="rgb(70,70,70)" filter="url(#gl2)"/><rect x="51.1" y="390.7" width="6.8" height="2" rx="1" fill="rgb(200,200,200)" filter="url(#gl)"/><rect x="60.7" y="378.8" width="6.6" height="1.6" rx="1" fill="rgb(60,60,60)" filter="url(#gl)"/><rect x="60.1" y="389.5" width="7.8" height="4.4" fill="rgb(70,70,70)" filter="url(#gl2)"/><rect x="60.6" y="390.7" width="6.8" height="2" rx="1" fill="rgb(245,245,245)" filter="url(#gl)"/><rect x="70" y="378.8" width="6.6" height="1.6" rx="1" fill="rgb(45,45,45)" filter="url(#gl)"/><rect x="69.4" y="389.5" width="7.8" height="4.4" fill="rgb(70,70,70)" filter="url(#gl2)"/><rect x="69.9" y="390.7" width="6.8" height="2" rx="1" fill="rgb(215,215,215)" filter="url(#gl)"/><rect x="78.9" y="378.8" width="6.6" height="1.6" rx="1" fill="rgb(48,48,48)" filter="url(#gl)"/><rect x="78.3" y="389.5" width="7.8" height="4.4" fill="rgb(70,70,70)" filter="url(#gl2)"/><rect x="78.8" y="390.7" width="6.8" height="2" rx="1" fill="rgb(240,240,240)" filter="url(#gl)"/><rect x="41.6" y="465.6" width="7.4" height="4" fill="rgb(35,35,35)" filter="url(#gl2)"/><rect x="42.1" y="466.8" width="6.4" height="1.6" rx="1" fill="rgb(115,115,115)" filter="url(#gl)"/><rect x="41.3" y="477.4" width="8" height="4.6" fill="rgb(60,60,60)" filter="url(#gl2)"/><rect x="41.8" y="478.6" width="7" height="2.2" rx="1" fill="rgb(175,175,175)" filter="url(#gl)"/><rect x="50.8" y="463.2" width="7.4" height="4" fill="rgb(35,35,35)" filter="url(#gl2)"/><rect x="51.3" y="464.4" width="6.4" height="1.6" rx="1" fill="rgb(80,80,80)" filter="url(#gl)"/><rect x="50.5" y="474.7" width="8" height="5.3" fill="rgb(110,110,110)" filter="url(#gl2)"/><rect x="51" y="475.9" width="7" height="2.9" rx="1" fill="rgb(240,240,240)" filter="url(#gl)"/><rect x="60.3" y="463.2" width="7.4" height="4" fill="rgb(35,35,35)" filter="url(#gl2)"/><rect x="60.8" y="464.4" width="6.4" height="1.6" rx="1" fill="rgb(105,105,105)" filter="url(#gl)"/><rect x="60" y="474.7" width="8" height="5.3" fill="rgb(110,110,110)" filter="url(#gl2)"/><rect x="60.5" y="475.9" width="7" height="2.9" rx="1" fill="rgb(255,255,255)" filter="url(#gl)"/><rect x="69.6" y="463.2" width="7.4" height="4" fill="rgb(35,35,35)" filter="url(#gl2)"/><rect x="70.1" y="464.4" width="6.4" height="1.6" rx="1" fill="rgb(78,78,78)" filter="url(#gl)"/><rect x="69.3" y="474.7" width="8" height="5.3" fill="rgb(110,110,110)" filter="url(#gl2)"/><rect x="69.8" y="475.9" width="7" height="2.9" rx="1" fill="rgb(255,255,255)" filter="url(#gl)"/><rect x="78.5" y="463.2" width="7.4" height="4" fill="rgb(35,35,35)" filter="url(#gl2)"/><rect x="79" y="464.4" width="6.4" height="1.6" rx="1" fill="rgb(82,82,82)" filter="url(#gl)"/><rect x="78.2" y="474.7" width="8" height="5.3" fill="rgb(110,110,110)" filter="url(#gl2)"/><rect x="78.7" y="475.9" width="7" height="2.9" rx="1" fill="rgb(255,255,255)" filter="url(#gl)"/><text x="35.8" y="383.8" font-size="7.6" text-anchor="end" textLength="10.8" lengthAdjust="spacingAndGlyphs">26S</text><text x="35.8" y="396.4" font-size="7.6" text-anchor="end" textLength="10.8" lengthAdjust="spacingAndGlyphs">20S</text><text x="35.8" y="470.4" font-size="7.6" text-anchor="end" textLength="10.8" lengthAdjust="spacingAndGlyphs">26S</text><text x="35.8" y="483.4" font-size="7.6" text-anchor="end" textLength="10.8" lengthAdjust="spacingAndGlyphs">20S</text><text x="90.6" y="380.8" font-size="7.4" textLength="43.2" lengthAdjust="spacingAndGlyphs" transform="rotate(90 90.6 380.8)">Short exposure</text><text x="90.6" y="466.8" font-size="7.4" textLength="42.4" lengthAdjust="spacingAndGlyphs" transform="rotate(90 90.6 466.8)">Long exposure</text><text x="63.3" y="538.2" font-size="7.6" text-anchor="middle" textLength="41.9" lengthAdjust="spacingAndGlyphs">Suc-LLVY-AMC</text><text x="105.2" y="313.8" font-size="10.4" font-weight="bold" fill="#000" textLength="6.4" lengthAdjust="spacingAndGlyphs">E</text><text x="228.5" y="310.8" font-size="7.8" text-anchor="middle">Suc-LLVY-AMC</text><path d="M137.5 313.8H318.8" stroke="#231f20" stroke-width="1.1"/><path d="M137.6 323.2V363.4H197.6M134.6 363.4H137.6M134.6 350.2H137.6M134.6 336.3H137.6M134.6 323.2H137.6M152.6 363.4V366M167.6 363.4V366M182.6 363.4V366M197.6 363.4V366" stroke="#231f20" stroke-width="0.9" fill="none"/><text x="133.1" y="365.5" font-size="6.2" text-anchor="end">0</text><text x="133.1" y="352.3" font-size="6.2" text-anchor="end">1000</text><text x="133.1" y="338.4" font-size="6.2" text-anchor="end">2000</text><text x="133.1" y="325.3" font-size="6.2" text-anchor="end">3000</text><text x="137.6" y="373.4" font-size="6.2" text-anchor="middle">0</text><text x="152.6" y="373.4" font-size="6.2" text-anchor="middle">50</text><text x="167.6" y="373.4" font-size="6.2" text-anchor="middle">100</text><text x="182.6" y="373.4" font-size="6.2" text-anchor="middle">150</text><text x="197.6" y="373.4" font-size="6.2" text-anchor="middle">200</text><text x="167.1" y="384.4" font-size="8.6" text-anchor="middle" textLength="34.6" lengthAdjust="spacingAndGlyphs">Time (min)</text><text x="114.6" y="343.8" font-size="8.6" text-anchor="middle" textLength="31.7" lengthAdjust="spacingAndGlyphs" transform="rotate(-90 114.6 343.8)">OD values</text><text x="140.6" y="326.2" font-size="5.9" textLength="17.3" lengthAdjust="spacingAndGlyphs">Pat. A</text><path d="M137.6 363.4L142.1 359.6L146.6 355L151.1 350.6L155.6 347.7L164.6 341.9L173.6 338.1L182.6 335.6L191.6 332.3" stroke="#3dbb4a" stroke-width="1.5" fill="none" stroke-linejoin="round"/><path d="M137.6 361.8l1.45 2.5h-2.9zM142.1 358l1.45 2.5h-2.9zM146.6 353.4l1.45 2.5h-2.9zM151.1 349l1.45 2.5h-2.9zM155.6 346.1l1.45 2.5h-2.9zM164.6 340.3l1.45 2.5h-2.9zM173.6 336.5l1.45 2.5h-2.9zM182.6 334l1.45 2.5h-2.9zM191.6 330.7l1.45 2.5h-2.9z" fill="#3dbb4a"/><path d="M137.6 363.4L142.1 360.8L146.6 357.7L151.1 354.8L155.6 352.5L164.6 348.1L173.6 344.2L182.6 341.9L191.6 339" stroke="#1a4f8f" stroke-width="1.5" fill="none" stroke-linejoin="round"/><path d="M137.6 363.4h0M142.1 360.8h0M146.6 357.7h0M151.1 354.8h0M155.6 352.5h0M164.6 348.1h0M173.6 344.2h0M182.6 341.9h0M191.6 339h0" stroke="#1a4f8f" stroke-width="2.9" stroke-linecap="round"/><path d="M137.6 363.4L142.1 358.3L146.6 353.5L151.1 348.1L155.6 345.2L164.6 339L173.6 333.7L182.6 331.3L191.6 327.7" stroke="#d4163c" stroke-width="1.5" fill="none" stroke-linejoin="round"/><path d="M137.6 363.4h0M142.1 358.3h0M146.6 353.5h0M151.1 348.1h0M155.6 345.2h0M164.6 339h0M173.6 333.7h0M182.6 331.3h0M191.6 327.7h0" stroke="#d4163c" stroke-width="2.9" stroke-linecap="round"/><path d="M196.3 332.7h1.5V339.6h-1.5" stroke="#231f20" stroke-width="1.05" fill="none"/><text x="198.7" y="339.1" font-size="6.6">***</text><path d="M259.2 322.8V363.7H319.2M256.2 363.7H259.2M256.2 350.5H259.2M256.2 336.6H259.2M256.2 322.8H259.2M274.2 363.7V366.3M289.2 363.7V366.3M304.2 363.7V366.3M319.2 363.7V366.3" stroke="#231f20" stroke-width="0.9" fill="none"/><text x="254.7" y="365.8" font-size="6.2" text-anchor="end">0</text><text x="254.7" y="352.6" font-size="6.2" text-anchor="end">1000</text><text x="254.7" y="338.7" font-size="6.2" text-anchor="end">2000</text><text x="254.7" y="324.9" font-size="6.2" text-anchor="end">3000</text><text x="259.2" y="373.7" font-size="6.2" text-anchor="middle">0</text><text x="274.2" y="373.7" font-size="6.2" text-anchor="middle">50</text><text x="289.2" y="373.7" font-size="6.2" text-anchor="middle">100</text><text x="304.2" y="373.7" font-size="6.2" text-anchor="middle">150</text><text x="319.2" y="373.7" font-size="6.2" text-anchor="middle">200</text><text x="288.7" y="384.7" font-size="8.6" text-anchor="middle" textLength="34.6" lengthAdjust="spacingAndGlyphs">Time (min)</text><text x="236.2" y="343.8" font-size="8.6" text-anchor="middle" textLength="31.7" lengthAdjust="spacingAndGlyphs" transform="rotate(-90 236.2 343.8)">OD values</text><text x="262.2" y="325.8" font-size="5.9" textLength="17.3" lengthAdjust="spacingAndGlyphs">Pat. B</text><path d="M259.2 363.7L263.7 358.5L268.2 353.8L272.7 349.2L277.2 346.2L286.2 340.3L295.2 334.9L304.2 332.1L313.2 329.7" stroke="#3dbb4a" stroke-width="1.5" fill="none" stroke-linejoin="round"/><path d="M259.2 362.1l1.45 2.5h-2.9zM263.7 356.9l1.45 2.5h-2.9zM268.2 352.2l1.45 2.5h-2.9zM272.7 347.6l1.45 2.5h-2.9zM277.2 344.6l1.45 2.5h-2.9zM286.2 338.7l1.45 2.5h-2.9zM295.2 333.3l1.45 2.5h-2.9zM304.2 330.5l1.45 2.5h-2.9zM313.2 328.1l1.45 2.5h-2.9z" fill="#3dbb4a"/><path d="M259.2 363.7L263.7 358.1L268.2 353.1L272.7 348.5L277.2 345.4L286.2 339.6L295.2 333.8L304.2 331.2L313.2 327.3" stroke="#d4163c" stroke-width="1.5" fill="none" stroke-linejoin="round"/><path d="M259.2 363.7h0M263.7 358.1h0M268.2 353.1h0M272.7 348.5h0M277.2 345.4h0M286.2 339.6h0M295.2 333.8h0M304.2 331.2h0M313.2 327.3h0" stroke="#d4163c" stroke-width="2.9" stroke-linecap="round"/><path d="M259.2 363.7L263.7 358.8L268.2 354.6L272.7 350.4L277.2 346.9L286.2 341.5L295.2 336.3L304.2 333.5L313.2 329.2" stroke="#1a4f8f" stroke-width="1.5" fill="none" stroke-linejoin="round"/><path d="M259.2 363.7h0M263.7 358.8h0M268.2 354.6h0M272.7 350.4h0M277.2 346.9h0M286.2 341.5h0M295.2 336.3h0M304.2 333.5h0M313.2 329.2h0" stroke="#1a4f8f" stroke-width="2.9" stroke-linecap="round"/><text x="228.5" y="392.2" font-size="7.8" text-anchor="middle">Suc-LLE-AMC</text><path d="M137.5 396.3H319.6" stroke="#231f20" stroke-width="1.1"/><path d="M137.4 402.9V443.6H197.4M134.4 443.6H137.4M134.4 433.5H137.4M134.4 423.4H137.4M134.4 412.8H137.4M134.4 402.9H137.4M152.4 443.6V446.2M167.4 443.6V446.2M182.4 443.6V446.2M197.4 443.6V446.2" stroke="#231f20" stroke-width="0.9" fill="none"/><text x="132.9" y="445.7" font-size="6.2" text-anchor="end">0</text><text x="132.9" y="435.6" font-size="6.2" text-anchor="end">200</text><text x="132.9" y="425.5" font-size="6.2" text-anchor="end">300</text><text x="132.9" y="414.9" font-size="6.2" text-anchor="end">400</text><text x="132.9" y="405" font-size="6.2" text-anchor="end">500</text><text x="137.4" y="453.6" font-size="6.2" text-anchor="middle">0</text><text x="152.4" y="453.6" font-size="6.2" text-anchor="middle">50</text><text x="167.4" y="453.6" font-size="6.2" text-anchor="middle">100</text><text x="182.4" y="453.6" font-size="6.2" text-anchor="middle">150</text><text x="197.4" y="453.6" font-size="6.2" text-anchor="middle">200</text><text x="166.9" y="464.6" font-size="8.6" text-anchor="middle" textLength="34.6" lengthAdjust="spacingAndGlyphs">Time (min)</text><text x="114.4" y="423.8" font-size="8.6" text-anchor="middle" textLength="31.7" lengthAdjust="spacingAndGlyphs" transform="rotate(-90 114.4 423.8)">OD values</text><text x="140.4" y="405.9" font-size="5.9" textLength="17.3" lengthAdjust="spacingAndGlyphs">Pat. A</text><path d="M137.4 437.7L141.9 436.9L146.4 436.2L150.9 435.4L155.4 435.2L164.4 433.3L173.4 431.5L182.4 431L191.4 429" stroke="#d4163c" stroke-width="1.5" fill="none" stroke-linejoin="round"/><path d="M137.4 437.7h0M141.9 436.9h0M146.4 436.2h0M150.9 435.4h0M155.4 435.2h0M164.4 433.3h0M173.4 431.5h0M182.4 431h0M191.4 429h0" stroke="#d4163c" stroke-width="2.9" stroke-linecap="round"/><path d="M137.4 437.1L141.9 436.2L146.4 435.2L150.9 434.2L155.4 434.4L164.4 432.3L173.4 431.5L182.4 431.9L191.4 430.4" stroke="#1a4f8f" stroke-width="1.5" fill="none" stroke-linejoin="round"/><path d="M137.4 437.1h0M141.9 436.2h0M146.4 435.2h0M150.9 434.2h0M155.4 434.4h0M164.4 432.3h0M173.4 431.5h0M182.4 431.9h0M191.4 430.4h0" stroke="#1a4f8f" stroke-width="2.9" stroke-linecap="round"/><path d="M137.4 437.7L141.9 436.7L146.4 435.8L150.9 434.4L155.4 433.5L164.4 431L173.4 428.7L182.4 428.1L191.4 425.8" stroke="#3dbb4a" stroke-width="1.5" fill="none" stroke-linejoin="round"/><path d="M137.4 436.1l1.45 2.5h-2.9zM141.9 435.1l1.45 2.5h-2.9zM146.4 434.2l1.45 2.5h-2.9zM150.9 432.8l1.45 2.5h-2.9zM155.4 431.9l1.45 2.5h-2.9zM164.4 429.4l1.45 2.5h-2.9zM173.4 427.1l1.45 2.5h-2.9zM182.4 426.5l1.45 2.5h-2.9zM191.4 424.2l1.45 2.5h-2.9z" fill="#3dbb4a"/><path d="M196.3 426h1.5V432h-1.5" stroke="#231f20" stroke-width="1.05" fill="none"/><text x="198.7" y="432" font-size="6.6">***</text><path d="M259.1 403.7V444H319.1M256.1 444H259.1M256.1 435.8H259.1M256.1 427.7H259.1M256.1 419.6H259.1M256.1 411.7H259.1M256.1 403.7H259.1M274.1 444V446.6M289.1 444V446.6M304.1 444V446.6M319.1 444V446.6" stroke="#231f20" stroke-width="0.9" fill="none"/><text x="254.6" y="446.1" font-size="6.2" text-anchor="end">0</text><text x="254.6" y="437.9" font-size="6.2" text-anchor="end">100</text><text x="254.6" y="429.8" font-size="6.2" text-anchor="end">200</text><text x="254.6" y="421.7" font-size="6.2" text-anchor="end">300</text><text x="254.6" y="413.8" font-size="6.2" text-anchor="end">400</text><text x="254.6" y="405.8" font-size="6.2" text-anchor="end">500</text><text x="259.1" y="454" font-size="6.2" text-anchor="middle">0</text><text x="274.1" y="454" font-size="6.2" text-anchor="middle">50</text><text x="289.1" y="454" font-size="6.2" text-anchor="middle">100</text><text x="304.1" y="454" font-size="6.2" text-anchor="middle">150</text><text x="319.1" y="454" font-size="6.2" text-anchor="middle">200</text><text x="288.6" y="465" font-size="8.6" text-anchor="middle" textLength="34.6" lengthAdjust="spacingAndGlyphs">Time (min)</text><text x="236.1" y="424.4" font-size="8.6" text-anchor="middle" textLength="31.7" lengthAdjust="spacingAndGlyphs" transform="rotate(-90 236.1 424.4)">OD values</text><text x="262.1" y="406.7" font-size="5.9" textLength="17.3" lengthAdjust="spacingAndGlyphs">Pat. B</text><path d="M259.1 429.6L263.6 429.2L268.1 429.6L272.6 428.3L277.1 428.1L286.1 426.7L295.1 425.4L304.1 424.8L313.1 424.2" stroke="#d4163c" stroke-width="1.5" fill="none" stroke-linejoin="round"/><path d="M259.1 429.6h0M263.6 429.2h0M268.1 429.6h0M272.6 428.3h0M277.1 428.1h0M286.1 426.7h0M295.1 425.4h0M304.1 424.8h0M313.1 424.2h0" stroke="#d4163c" stroke-width="2.9" stroke-linecap="round"/><path d="M259.1 429.2L263.6 428.8L268.1 428.3L272.6 427.3L277.1 426.7L286.1 425.4L295.1 423.8L304.1 423.3L313.1 421.3" stroke="#1a4f8f" stroke-width="1.5" fill="none" stroke-linejoin="round"/><path d="M259.1 429.2h0M263.6 428.8h0M268.1 428.3h0M272.6 427.3h0M277.1 426.7h0M286.1 425.4h0M295.1 423.8h0M304.1 423.3h0M313.1 421.3h0" stroke="#1a4f8f" stroke-width="2.9" stroke-linecap="round"/><path d="M259.1 429.2L263.6 428.7L268.1 428.1L272.6 424.8L277.1 423.8L286.1 420.6L295.1 417.7L304.1 416.2L313.1 412.9" stroke="#3dbb4a" stroke-width="1.5" fill="none" stroke-linejoin="round"/><path d="M259.1 427.6l1.45 2.5h-2.9zM263.6 427.1l1.45 2.5h-2.9zM268.1 426.5l1.45 2.5h-2.9zM272.6 423.2l1.45 2.5h-2.9zM277.1 422.2l1.45 2.5h-2.9zM286.1 419l1.45 2.5h-2.9zM295.1 416.1l1.45 2.5h-2.9zM304.1 414.6l1.45 2.5h-2.9zM313.1 411.3l1.45 2.5h-2.9z" fill="#3dbb4a"/><path d="M317.9 412.7h1.5V422h-1.5" stroke="#231f20" stroke-width="1.05" fill="none"/><text x="320.3" y="420.4" font-size="6.6">***</text><text x="229" y="473.6" font-size="7.8" text-anchor="middle">Bz-GGR-AMC</text><path d="M137.5 477H318.8" stroke="#231f20" stroke-width="1.1"/><path d="M137.6 483V523.8H197.6M134.6 523.8H137.6M134.6 515.8H137.6M134.6 507.7H137.6M134.6 499.4H137.6M134.6 491.2H137.6M134.6 483H137.6M152.6 523.8V526.4M167.6 523.8V526.4M182.6 523.8V526.4M197.6 523.8V526.4" stroke="#231f20" stroke-width="0.9" fill="none"/><text x="133.1" y="525.9" font-size="6.2" text-anchor="end">0</text><text x="133.1" y="517.9" font-size="6.2" text-anchor="end">100</text><text x="133.1" y="509.8" font-size="6.2" text-anchor="end">200</text><text x="133.1" y="501.5" font-size="6.2" text-anchor="end">300</text><text x="133.1" y="493.3" font-size="6.2" text-anchor="end">400</text><text x="133.1" y="485.1" font-size="6.2" text-anchor="end">500</text><text x="137.6" y="533.8" font-size="6.2" text-anchor="middle">0</text><text x="152.6" y="533.8" font-size="6.2" text-anchor="middle">50</text><text x="167.6" y="533.8" font-size="6.2" text-anchor="middle">100</text><text x="182.6" y="533.8" font-size="6.2" text-anchor="middle">150</text><text x="197.6" y="533.8" font-size="6.2" text-anchor="middle">200</text><text x="167.1" y="544.8" font-size="8.6" text-anchor="middle" textLength="34.6" lengthAdjust="spacingAndGlyphs">Time (min)</text><text x="114.6" y="503.9" font-size="8.6" text-anchor="middle" textLength="31.7" lengthAdjust="spacingAndGlyphs" transform="rotate(-90 114.6 503.9)">OD values</text><text x="140.6" y="486" font-size="5.9" textLength="17.3" lengthAdjust="spacingAndGlyphs">Pat. A</text><path d="M137.6 517.3L142.1 516.7L146.6 515.8L151.1 514.8L155.6 513.8L164.6 511.9L173.6 510L182.6 509L191.6 507.7" stroke="#1a4f8f" stroke-width="1.5" fill="none" stroke-linejoin="round"/><path d="M137.6 517.3h0M142.1 516.7h0M146.6 515.8h0M151.1 514.8h0M155.6 513.8h0M164.6 511.9h0M173.6 510h0M182.6 509h0M191.6 507.7h0" stroke="#1a4f8f" stroke-width="2.9" stroke-linecap="round"/><path d="M137.6 517.3L142.1 516.2L146.6 515L151.1 513.3L155.6 511.9L164.6 509L173.6 506.7L182.6 505.6L191.6 503.8" stroke="#3dbb4a" stroke-width="1.5" fill="none" stroke-linejoin="round"/><path d="M137.6 515.7l1.45 2.5h-2.9zM142.1 514.6l1.45 2.5h-2.9zM146.6 513.4l1.45 2.5h-2.9zM151.1 511.7l1.45 2.5h-2.9zM155.6 510.3l1.45 2.5h-2.9zM164.6 507.4l1.45 2.5h-2.9zM173.6 505.1l1.45 2.5h-2.9zM182.6 504l1.45 2.5h-2.9zM191.6 502.2l1.45 2.5h-2.9z" fill="#3dbb4a"/><path d="M137.6 517.3L142.1 515.8L146.6 514.4L151.1 512.3L155.6 511L164.6 508.1L173.6 505.2L182.6 503.3L191.6 501.3" stroke="#d4163c" stroke-width="1.5" fill="none" stroke-linejoin="round"/><path d="M137.6 517.3h0M142.1 515.8h0M146.6 514.4h0M151.1 512.3h0M155.6 511h0M164.6 508.1h0M173.6 505.2h0M182.6 503.3h0M191.6 501.3h0" stroke="#d4163c" stroke-width="2.9" stroke-linecap="round"/><path d="M196.3 501.5h1.5V508h-1.5" stroke="#231f20" stroke-width="1.05" fill="none"/><text x="198.7" y="507.8" font-size="6.6">*</text><path d="M258.9 484.7V524.6H318.9M255.9 524.6H258.9M255.9 514.7H258.9M255.9 504.5H258.9M255.9 494.6H258.9M255.9 484.7H258.9M273.9 524.6V527.2M288.9 524.6V527.2M303.9 524.6V527.2M318.9 524.6V527.2" stroke="#231f20" stroke-width="0.9" fill="none"/><text x="254.4" y="526.7" font-size="6.2" text-anchor="end">0</text><text x="254.4" y="516.8" font-size="6.2" text-anchor="end">100</text><text x="254.4" y="506.6" font-size="6.2" text-anchor="end">200</text><text x="254.4" y="496.7" font-size="6.2" text-anchor="end">300</text><text x="254.4" y="486.8" font-size="6.2" text-anchor="end">400</text><text x="258.9" y="534.6" font-size="6.2" text-anchor="middle">0</text><text x="273.9" y="534.6" font-size="6.2" text-anchor="middle">50</text><text x="288.9" y="534.6" font-size="6.2" text-anchor="middle">100</text><text x="303.9" y="534.6" font-size="6.2" text-anchor="middle">150</text><text x="318.9" y="534.6" font-size="6.2" text-anchor="middle">200</text><text x="288.4" y="545.6" font-size="8.6" text-anchor="middle" textLength="34.6" lengthAdjust="spacingAndGlyphs">Time (min)</text><text x="235.9" y="505.1" font-size="8.6" text-anchor="middle" textLength="31.7" lengthAdjust="spacingAndGlyphs" transform="rotate(-90 235.9 505.1)">OD values</text><text x="261.9" y="487.7" font-size="5.9" textLength="17.3" lengthAdjust="spacingAndGlyphs">Pat. B</text><path d="M258.9 516.5L263.4 515.2L267.9 513.5L272.4 511.2L276.9 509.6L285.9 505L294.9 502.2L303.9 500.4L312.9 497.4" stroke="#d4163c" stroke-width="1.5" fill="none" stroke-linejoin="round"/><path d="M258.9 516.5h0M263.4 515.2h0M267.9 513.5h0M272.4 511.2h0M276.9 509.6h0M285.9 505h0M294.9 502.2h0M303.9 500.4h0M312.9 497.4h0" stroke="#d4163c" stroke-width="2.9" stroke-linecap="round"/><path d="M258.9 516.5L263.4 515L267.9 513.2L272.4 510.9L276.9 509.2L285.9 504.3L294.9 501.2L303.9 499.4L312.9 496.2" stroke="#3dbb4a" stroke-width="1.5" fill="none" stroke-linejoin="round"/><path d="M258.9 514.9l1.45 2.5h-2.9zM263.4 513.4l1.45 2.5h-2.9zM267.9 511.6l1.45 2.5h-2.9zM272.4 509.3l1.45 2.5h-2.9zM276.9 507.6l1.45 2.5h-2.9zM285.9 502.7l1.45 2.5h-2.9zM294.9 499.6l1.45 2.5h-2.9zM303.9 497.8l1.45 2.5h-2.9zM312.9 494.6l1.45 2.5h-2.9z" fill="#3dbb4a"/><path d="M258.9 516.5L263.4 515.2L267.9 513.6L272.4 511.4L276.9 509.8L285.9 505.6L294.9 503L303.9 501.2L312.9 498.1" stroke="#1a4f8f" stroke-width="1.5" fill="none" stroke-linejoin="round"/><path d="M258.9 516.5h0M263.4 515.2h0M267.9 513.6h0M272.4 511.4h0M276.9 509.8h0M285.9 505.6h0M294.9 503h0M303.9 501.2h0M312.9 498.1h0" stroke="#1a4f8f" stroke-width="2.9" stroke-linecap="round"/><path d="M309.6 509h4.4" stroke="#d4163c" stroke-width="1.1"/><path d="M311.8 507.6l1.3 1.4l-1.3 1.4l-1.3-1.4z" fill="#d4163c"/><text x="315" y="510.7" font-size="5.2">Healthy depot</text><path d="M309.6 514.2h4.4" stroke="#1a4f8f" stroke-width="1.1"/><circle cx="311.8" cy="514.2" r="1.2" fill="#1a4f8f"/><text x="315" y="515.9" font-size="5.2">pre-HSCT</text><path d="M309.6 519.3h4.4" stroke="#3dbb4a" stroke-width="1.1"/><path d="M311.8 518l1.2 2.1h-2.4z" fill="#3dbb4a"/><text x="315" y="521" font-size="5.2">post-HSCT</text><text x="346.5" y="315.8" font-size="11.1" font-weight="bold" fill="#000" textLength="6.2" lengthAdjust="spacingAndGlyphs">F</text><text x="406.3" y="314.4" font-size="6.9" text-anchor="middle" textLength="11.5" lengthAdjust="spacingAndGlyphs">pre-</text><text x="406.3" y="321.3" font-size="6.9" text-anchor="middle" textLength="16.6" lengthAdjust="spacingAndGlyphs">HSCT</text><text x="426.3" y="314.4" font-size="6.9" text-anchor="middle" textLength="14.2" lengthAdjust="spacingAndGlyphs">post-</text><text x="426.3" y="321.3" font-size="6.9" text-anchor="middle" textLength="16.6" lengthAdjust="spacingAndGlyphs">HSCT</text><path d="M398 323.8H414.6M418 323.8H434.6" stroke="#231f20" stroke-width="1"/><text x="387.4" y="343.6" font-size="6.5" textLength="14.2" lengthAdjust="spacingAndGlyphs" transform="rotate(-90 387.4 343.6)">HD 1</text><text x="395.7" y="343.6" font-size="6.5" textLength="14.2" lengthAdjust="spacingAndGlyphs" transform="rotate(-90 395.7 343.6)">HD 2</text><text x="403.7" y="343.6" font-size="6.5" textLength="16.2" lengthAdjust="spacingAndGlyphs" transform="rotate(-90 403.7 343.6)">Pat. A</text><text x="411.8" y="343.6" font-size="6.5" textLength="15.4" lengthAdjust="spacingAndGlyphs" transform="rotate(-90 411.8 343.6)">Pat. B</text><text x="423.2" y="343.6" font-size="6.5" textLength="16.2" lengthAdjust="spacingAndGlyphs" transform="rotate(-90 423.2 343.6)">Pat. A</text><text x="431.6" y="343.6" font-size="6.5" textLength="15.4" lengthAdjust="spacingAndGlyphs" transform="rotate(-90 431.6 343.6)">Pat. B</text><rect x="377.8" y="347.1" width="57.9" height="84.8" fill="#fbfbfb"/><rect x="381.7" y="351.2" width="6.8" height="49" rx="2.5" fill="url(#sm1)" filter="url(#smb)"/><rect x="389.9" y="351.4" width="6.8" height="49" rx="2.5" fill="url(#sm2)" filter="url(#smb)"/><rect x="398.7" y="349.6" width="7.6" height="57" rx="2.5" fill="url(#sm3)" filter="url(#smb)"/><rect x="407.4" y="350.4" width="7.4" height="51" rx="2.5" fill="url(#sm1)" filter="url(#smb)"/><rect x="415.9" y="350.8" width="7.2" height="49" rx="2.5" fill="url(#sm1)" filter="url(#smb)"/><rect x="424.3" y="350.6" width="7.4" height="51" rx="2.5" fill="url(#sm1)" filter="url(#smb)"/><rect x="400" y="413" width="4.2" height="7" fill="#d6d6d6" filter="url(#bl2)"/><rect x="377.8" y="347.1" width="57.9" height="84.8" fill="none" stroke="#111" stroke-width="1.3"/><rect x="377.8" y="435.9" width="57.9" height="85" fill="#ebebeb"/><rect x="381.9" y="439.2" width="6.4" height="14" rx="2.4" fill="url(#kg)" opacity="0.5" filter="url(#smb)"/><rect x="390.1" y="439.4" width="6.4" height="14" rx="2.4" fill="url(#kg)" opacity="0.38" filter="url(#smb)"/><rect x="398.7" y="437.2" width="7.6" height="20" rx="2.4" fill="url(#kg)" opacity="1" filter="url(#smb)"/><rect x="407.5" y="438.2" width="7.2" height="16" rx="2.4" fill="url(#kg)" opacity="0.97" filter="url(#smb)"/><rect x="416" y="438.6" width="7" height="15" rx="2.4" fill="url(#kg)" opacity="0.85" filter="url(#smb)"/><rect x="424.5" y="438.6" width="7" height="15" rx="2.4" fill="url(#kg)" opacity="0.83" filter="url(#smb)"/><rect x="377.8" y="435.9" width="57.9" height="85" fill="none" stroke="#111" stroke-width="1.3"/><rect x="377.8" y="524" width="57.9" height="9.2" fill="#fff" stroke="#111" stroke-width="1.3"/><rect x="381.5" y="527.4" width="7.2" height="2.2" rx="1.1" fill="rgb(0,0,0)" filter="url(#bl)"/><rect x="389.7" y="527.5" width="7.2" height="2" rx="1" fill="rgb(12,12,12)" filter="url(#bl)"/><rect x="398.9" y="527.5" width="7.2" height="2" rx="1" fill="rgb(12,12,12)" filter="url(#bl)"/><rect x="407.5" y="527.1" width="7.2" height="2" rx="1" fill="rgb(0,0,0)" filter="url(#bl)"/><rect x="415.9" y="527.7" width="7.2" height="2.8" rx="1.4" fill="rgb(0,0,0)" filter="url(#bl)"/><rect x="424.4" y="526.9" width="7.2" height="2.8" rx="1.4" fill="rgb(0,0,0)" filter="url(#bl)"/><text x="373.2" y="354.9" font-size="6.3" text-anchor="end">200</text><path d="M373.8 352.7H377.5" stroke="#231f20" stroke-width="0.8"/><text x="373.2" y="363.2" font-size="6.3" text-anchor="end">120</text><path d="M373.8 361H377.5" stroke="#231f20" stroke-width="0.8"/><text x="373.2" y="369.3" font-size="6.3" text-anchor="end">100</text><path d="M373.8 367.1H377.5" stroke="#231f20" stroke-width="0.8"/><text x="373.2" y="376.4" font-size="6.3" text-anchor="end">70</text><path d="M373.8 374.2H377.5" stroke="#231f20" stroke-width="0.8"/><text x="373.2" y="380.9" font-size="6.3" text-anchor="end">60</text><path d="M373.8 378.7H377.5" stroke="#231f20" stroke-width="0.8"/><text x="373.2" y="388.5" font-size="6.3" text-anchor="end">50</text><path d="M373.8 386.3H377.5" stroke="#231f20" stroke-width="0.8"/><text x="373.2" y="394.3" font-size="6.3" text-anchor="end">40</text><path d="M373.8 392.1H377.5" stroke="#231f20" stroke-width="0.8"/><text x="373.2" y="412.6" font-size="6.3" text-anchor="end">30</text><path d="M373.8 410.4H377.5" stroke="#231f20" stroke-width="0.8"/><text x="373.2" y="422" font-size="6.3" text-anchor="end">25</text><path d="M373.8 419.8H377.5" stroke="#231f20" stroke-width="0.8"/><text x="373.2" y="450.8" font-size="6.3" text-anchor="end">200</text><path d="M373.8 448.6H377.5" stroke="#231f20" stroke-width="0.8"/><text x="373.2" y="458.2" font-size="6.3" text-anchor="end">120</text><path d="M373.8 456H377.5" stroke="#231f20" stroke-width="0.8"/><text x="373.2" y="464.5" font-size="6.3" text-anchor="end">100</text><path d="M373.8 462.3H377.5" stroke="#231f20" stroke-width="0.8"/><text x="373.2" y="472.4" font-size="6.3" text-anchor="end">70</text><path d="M373.8 470.2H377.5" stroke="#231f20" stroke-width="0.8"/><text x="373.2" y="476.7" font-size="6.3" text-anchor="end">60</text><path d="M373.8 474.5H377.5" stroke="#231f20" stroke-width="0.8"/><text x="373.2" y="484.2" font-size="6.3" text-anchor="end">50</text><path d="M373.8 482H377.5" stroke="#231f20" stroke-width="0.8"/><text x="373.2" y="490.6" font-size="6.3" text-anchor="end">40</text><path d="M373.8 488.4H377.5" stroke="#231f20" stroke-width="0.8"/><text x="373.2" y="508.2" font-size="6.3" text-anchor="end">30</text><path d="M373.8 506H377.5" stroke="#231f20" stroke-width="0.8"/><text x="373.2" y="517.1" font-size="6.3" text-anchor="end">25</text><path d="M373.8 514.9H377.5" stroke="#231f20" stroke-width="0.8"/><text x="373.2" y="530.6" font-size="6.3" text-anchor="end">25</text><path d="M373.8 528.4H377.5" stroke="#231f20" stroke-width="0.8"/><path d="M438.8 349.4H441.4V391.4H438.8M438.8 438.8H441.4V452H438.8" stroke="#231f20" stroke-width="0.8" fill="none"/><text x="444" y="368.9" font-size="7.2" textLength="45.3" lengthAdjust="spacingAndGlyphs">Mono-and poly-</text><text x="444" y="376.6" font-size="7.2" textLength="63.6" lengthAdjust="spacingAndGlyphs">ubiquitinated proteins</text><text x="443.8" y="443.9" font-size="7.2" textLength="60.5" lengthAdjust="spacingAndGlyphs">K48-linked ubiquitin-</text><text x="443.8" y="450.9" font-size="7.2" textLength="51" lengthAdjust="spacingAndGlyphs">modified proteins</text><text x="438.3" y="531.2" font-size="7.2" textLength="28.3" lengthAdjust="spacingAndGlyphs">α-Tubulin</text><text x="10.2" y="566.6" font-size="10.6" font-weight="bold" fill="#000" textLength="8.9" lengthAdjust="spacingAndGlyphs">G</text><rect x="51.6" y="659.7" width="3" height="7" fill="#d4213d"/><path d="M53.1 659.7V659M52 659h2.2" stroke="#d4213d" stroke-width="0.9"/><rect x="56" y="645" width="3" height="21.7" fill="#1d4f8e"/><path d="M57.5 645V641.5M56.4 641.5h2.2" stroke="#1d4f8e" stroke-width="0.9"/><rect x="60.5" y="661.8" width="2.8" height="4.9" fill="#3cb64a"/><path d="M61.9 661.8V660.1M60.8 660.1h2.2" stroke="#3cb64a" stroke-width="0.9"/><rect x="67.1" y="660.1" width="3" height="6.6" fill="#d4213d"/><path d="M68.6 660.1V657.6M67.5 657.6h2.2" stroke="#d4213d" stroke-width="0.9"/><rect x="71.5" y="638.7" width="3" height="28" fill="#1d4f8e"/><rect x="71.5" y="617.4" width="3" height="14.2" fill="#1d4f8e"/><path d="M73 617.4V614.3M71.9 614.3h2.2" stroke="#1d4f8e" stroke-width="0.9"/><rect x="76" y="638.7" width="2.8" height="28" fill="#3cb64a"/><rect x="76" y="630.8" width="2.8" height="0.8" fill="#3cb64a"/><path d="M77.4 630.8V630.5M76.3 630.5h2.2" stroke="#3cb64a" stroke-width="0.9"/><rect x="82.5" y="659.7" width="3" height="7" fill="#d4213d"/><path d="M84 659.7V659.4M82.9 659.4h2.2" stroke="#d4213d" stroke-width="0.9"/><rect x="86.9" y="654.8" width="3" height="11.9" fill="#1d4f8e"/><path d="M88.4 654.8V652M87.3 652h2.2" stroke="#1d4f8e" stroke-width="0.9"/><rect x="91.4" y="660.4" width="2.8" height="6.3" fill="#3cb64a"/><path d="M92.8 660.4V659.7M91.7 659.7h2.2" stroke="#3cb64a" stroke-width="0.9"/><rect x="98" y="659.7" width="3" height="7" fill="#d4213d"/><path d="M99.5 659.7V659.4M98.4 659.4h2.2" stroke="#d4213d" stroke-width="0.9"/><rect x="102.4" y="646.4" width="3" height="20.3" fill="#1d4f8e"/><path d="M103.9 646.4V642.9M102.8 642.9h2.2" stroke="#1d4f8e" stroke-width="0.9"/><rect x="106.9" y="660.4" width="2.8" height="6.3" fill="#3cb64a"/><path d="M108.3 660.4V659M107.2 659h2.2" stroke="#3cb64a" stroke-width="0.9"/><rect x="113.5" y="660.4" width="3" height="6.3" fill="#d4213d"/><path d="M115 660.4V658.3M113.9 658.3h2.2" stroke="#d4213d" stroke-width="0.9"/><rect x="117.9" y="638.7" width="3" height="28" fill="#1d4f8e"/><rect x="117.9" y="626.3" width="3" height="5.3" fill="#1d4f8e"/><path d="M119.4 626.3V625.5M118.3 625.5h2.2" stroke="#1d4f8e" stroke-width="0.9"/><rect x="122.4" y="638.7" width="2.8" height="28" fill="#3cb64a"/><rect x="122.4" y="631" width="2.8" height="0.6" fill="#3cb64a"/><path d="M123.8 631V630.7M122.7 630.7h2.2" stroke="#3cb64a" stroke-width="0.9"/><rect x="129" y="660.4" width="3" height="6.3" fill="#d4213d"/><path d="M130.5 660.4V654.1M129.4 654.1h2.2" stroke="#d4213d" stroke-width="0.9"/><rect x="133.4" y="638.7" width="3" height="28" fill="#1d4f8e"/><rect x="133.4" y="608" width="3" height="23.6" fill="#1d4f8e"/><rect x="133.4" y="581.7" width="3" height="19.3" fill="#1d4f8e"/><path d="M134.9 581.7V577.2M133.8 577.2h2.2" stroke="#1d4f8e" stroke-width="0.9"/><rect x="137.9" y="638.7" width="2.8" height="28" fill="#3cb64a"/><rect x="137.9" y="626.7" width="2.8" height="4.9" fill="#3cb64a"/><path d="M139.3 626.7V626.1M138.2 626.1h2.2" stroke="#3cb64a" stroke-width="0.9"/><rect x="144.4" y="661.1" width="3" height="5.6" fill="#d4213d"/><path d="M145.9 661.1V659M144.8 659h2.2" stroke="#d4213d" stroke-width="0.9"/><rect x="148.8" y="638.7" width="3" height="28" fill="#1d4f8e"/><rect x="148.8" y="628" width="3" height="3.6" fill="#1d4f8e"/><path d="M150.3 628V626.9M149.2 626.9h2.2" stroke="#1d4f8e" stroke-width="0.9"/><rect x="153.3" y="638.7" width="2.8" height="28" fill="#3cb64a"/><rect x="153.3" y="631.2" width="2.8" height="0.4" fill="#3cb64a"/><path d="M154.7 631.2V631M153.6 631h2.2" stroke="#3cb64a" stroke-width="0.9"/><rect x="159.9" y="661.1" width="3" height="5.6" fill="#d4213d"/><path d="M161.4 661.1V657.6M160.3 657.6h2.2" stroke="#d4213d" stroke-width="0.9"/><rect x="164.3" y="638.7" width="3" height="28" fill="#1d4f8e"/><rect x="164.3" y="628" width="3" height="3.6" fill="#1d4f8e"/><path d="M165.8 628V625.7M164.7 625.7h2.2" stroke="#1d4f8e" stroke-width="0.9"/><rect x="168.8" y="657.6" width="2.8" height="9.1" fill="#3cb64a"/><path d="M170.2 657.6V654.8M169.1 654.8h2.2" stroke="#3cb64a" stroke-width="0.9"/><rect x="175.4" y="661.1" width="3" height="5.6" fill="#d4213d"/><path d="M176.9 661.1V659.7M175.8 659.7h2.2" stroke="#d4213d" stroke-width="0.9"/><rect x="179.8" y="638.7" width="3" height="28" fill="#1d4f8e"/><rect x="179.8" y="630.7" width="3" height="0.9" fill="#1d4f8e"/><path d="M181.3 630.7V629.6M180.2 629.6h2.2" stroke="#1d4f8e" stroke-width="0.9"/><rect x="184.3" y="656.9" width="2.8" height="9.8" fill="#3cb64a"/><path d="M185.7 656.9V655.5M184.6 655.5h2.2" stroke="#3cb64a" stroke-width="0.9"/><rect x="190.8" y="661.8" width="3" height="4.9" fill="#d4213d"/><path d="M192.3 661.8V659.7M191.2 659.7h2.2" stroke="#d4213d" stroke-width="0.9"/><rect x="195.2" y="638.7" width="3" height="28" fill="#1d4f8e"/><rect x="195.2" y="630.7" width="3" height="0.9" fill="#1d4f8e"/><path d="M196.7 630.7V629.6M195.6 629.6h2.2" stroke="#1d4f8e" stroke-width="0.9"/><rect x="199.7" y="655.5" width="2.8" height="11.2" fill="#3cb64a"/><path d="M201.1 655.5V654.1M200 654.1h2.2" stroke="#3cb64a" stroke-width="0.9"/><path d="M47.7 666.7H203.5M50.7 666.7V638.7M50.7 631.6V608M50.7 601V571.3M48.1 666.7H50.7M48.1 659.7H50.7M48.1 652.7H50.7M48.1 645.7H50.7M47.3 638.7H53.9M47.3 631.6H53.9M48.1 623.9H50.7M48.1 615.8H50.7M47.3 608H53.9M47.3 601H53.9M48.1 586.3H50.7M48.1 571.3H50.7M57.5 666.7V669.1M73 666.7V669.1M88.4 666.7V669.1M103.9 666.7V669.1M119.4 666.7V669.1M134.9 666.7V669.1M150.3 666.7V669.1M165.8 666.7V669.1M181.3 666.7V669.1M196.7 666.7V669.1" stroke="#231f20" stroke-width="0.95" fill="none"/><text x="45.1" y="668.8" font-size="6.1" text-anchor="end">0</text><text x="45.1" y="661.8" font-size="6.1" text-anchor="end">1</text><text x="45.1" y="654.8" font-size="6.1" text-anchor="end">2</text><text x="45.1" y="647.8" font-size="6.1" text-anchor="end">3</text><text x="45.1" y="640.8" font-size="6.1" text-anchor="end">4</text><text x="45.1" y="633.7" font-size="6.1" text-anchor="end">10</text><text x="45.1" y="626" font-size="6.1" text-anchor="end">20</text><text x="45.1" y="617.9" font-size="6.1" text-anchor="end">30</text><text x="45.1" y="610.1" font-size="6.1" text-anchor="end">40</text><text x="45.1" y="603.1" font-size="6.1" text-anchor="end">500</text><text x="45.1" y="588.4" font-size="6.1" text-anchor="end">1000</text><text x="45.1" y="573.4" font-size="6.1" text-anchor="end">1500</text><text x="60.1" y="674.6" font-size="6.3" text-anchor="end" transform="rotate(-45 60.1 674.6)">IFIT1</text><text x="75.6" y="674.6" font-size="6.3" text-anchor="end" transform="rotate(-45 75.6 674.6)">RSAD2</text><text x="91" y="674.6" font-size="6.3" text-anchor="end" transform="rotate(-45 91 674.6)">ISG15</text><text x="106.5" y="674.6" font-size="6.3" text-anchor="end" transform="rotate(-45 106.5 674.6)">MX1</text><text x="122" y="674.6" font-size="6.3" text-anchor="end" transform="rotate(-45 122 674.6)">IFI44L</text><text x="137.5" y="674.6" font-size="6.3" text-anchor="end" transform="rotate(-45 137.5 674.6)">IFI27</text><text x="152.9" y="674.6" font-size="6.3" text-anchor="end" transform="rotate(-45 152.9 674.6)">IFI44</text><text x="168.4" y="674.6" font-size="6.3" text-anchor="end" transform="rotate(-45 168.4 674.6)">USP18</text><text x="183.9" y="674.6" font-size="6.3" text-anchor="end" transform="rotate(-45 183.9 674.6)">OAS1</text><text x="199.3" y="674.6" font-size="6.3" text-anchor="end" transform="rotate(-45 199.3 674.6)">OAS3</text><text x="58.4" y="634.1" font-size="6.6" text-anchor="middle">****</text><path d="M57.5 640.7V638.7H62.1V658.5" stroke="#231f20" stroke-width="0.75" fill="none"/><text x="74" y="604.9" font-size="6.6" text-anchor="middle">****</text><path d="M73.3 610V608H77.6V629.5" stroke="#231f20" stroke-width="0.75" fill="none"/><text x="90" y="644.8" font-size="6.6" text-anchor="middle">****</text><path d="M88.6 648.2V646.2H93.3V659" stroke="#231f20" stroke-width="0.75" fill="none"/><text x="102.9" y="635.2" font-size="6.6" text-anchor="middle">****</text><path d="M104 639.7V637.7H108.6V659" stroke="#231f20" stroke-width="0.75" fill="none"/><text x="121.5" y="614.4" font-size="6.6" text-anchor="middle">****</text><path d="M119.6 619V617H124.1V630" stroke="#231f20" stroke-width="0.75" fill="none"/><text x="137.4" y="567.7" font-size="6.6" text-anchor="middle">****</text><path d="M135.1 571.4V569.4H139.6V625" stroke="#231f20" stroke-width="0.75" fill="none"/><text x="152.9" y="617.5" font-size="6.6" text-anchor="middle">****</text><path d="M150.5 622.5V620.5H155V628" stroke="#231f20" stroke-width="0.75" fill="none"/><text x="168.3" y="617.5" font-size="6.6" text-anchor="middle">**</text><path d="M166 622.5V620.5H170.5V653.7" stroke="#231f20" stroke-width="0.75" fill="none"/><text x="183.8" y="620.7" font-size="6.6" text-anchor="middle">**</text><path d="M181.5 624.2V622.2H186V655" stroke="#231f20" stroke-width="0.75" fill="none"/><text x="199.3" y="620.7" font-size="6.6" text-anchor="middle">*</text><path d="M197 624.2V622.2H201.5V653" stroke="#231f20" stroke-width="0.75" fill="none"/><text x="16.8" y="621.8" font-size="7.6" text-anchor="middle" textLength="78.1" lengthAdjust="spacingAndGlyphs" transform="rotate(-90 16.8 621.8)">Fold expression relative</text><text x="28.6" y="623" font-size="7.8" text-anchor="middle" textLength="32.9" lengthAdjust="spacingAndGlyphs" transform="rotate(-90 28.6 623)">to control</text><rect x="179.8" y="564.4" width="8.9" height="4.6" fill="#d4213d"/><text x="193.8" y="569.3" font-size="7.3" textLength="48.300000000000004" lengthAdjust="spacingAndGlyphs">Control PBMC</text><rect x="179.8" y="574.1" width="8.9" height="4.6" fill="#1d4f8e"/><text x="193.8" y="579" font-size="7.3" textLength="47.800000000000004" lengthAdjust="spacingAndGlyphs">Ind A Pre-SCT</text><rect x="179.8" y="583.5" width="8.9" height="4.6" fill="#3cb64a"/><text x="193.8" y="588.4" font-size="7.3" textLength="51.0" lengthAdjust="spacingAndGlyphs">Ind A Post-SCT</text><text x="277.8" y="568.7" font-size="10.3" font-weight="bold" fill="#000" textLength="8.4" lengthAdjust="spacingAndGlyphs">H</text><rect x="311.6" y="660.4" width="3.4" height="6.2" fill="#5b2a80"/><path d="M313.3 660.4V658.7M312.2 658.7h2.2" stroke="#5b2a80" stroke-width="0.9"/><rect x="315.9" y="639" width="3.8" height="27.6" fill="#f7941e"/><rect x="315.9" y="623.9" width="3.8" height="8.5" fill="#f7941e"/><path d="M317.8 623.9V622.4M316.7 622.4h2.2" stroke="#f7941e" stroke-width="0.9"/><rect x="320.2" y="659" width="3.4" height="7.6" fill="#0f6a4e"/><path d="M321.9 659V650.4M320.8 650.4h2.2" stroke="#0f6a4e" stroke-width="0.9"/><rect x="327.2" y="660.4" width="3.4" height="6.2" fill="#5b2a80"/><path d="M328.9 660.4V658.7M327.8 658.7h2.2" stroke="#5b2a80" stroke-width="0.9"/><rect x="331.5" y="639" width="3.8" height="27.6" fill="#f7941e"/><rect x="331.5" y="616.4" width="3.8" height="16" fill="#f7941e"/><path d="M333.4 616.4V614.9M332.3 614.9h2.2" stroke="#f7941e" stroke-width="0.9"/><rect x="335.8" y="652.8" width="3.4" height="13.8" fill="#0f6a4e"/><path d="M337.5 652.8V645.2M336.4 645.2h2.2" stroke="#0f6a4e" stroke-width="0.9"/><rect x="342.9" y="659.7" width="3.4" height="6.9" fill="#5b2a80"/><path d="M344.6 659.7V659.4M343.5 659.4h2.2" stroke="#5b2a80" stroke-width="0.9"/><rect x="347.2" y="639" width="3.8" height="27.6" fill="#f7941e"/><rect x="347.2" y="622.4" width="3.8" height="10" fill="#f7941e"/><path d="M349.1 622.4V621.3M348 621.3h2.2" stroke="#f7941e" stroke-width="0.9"/><rect x="351.5" y="664.5" width="3.4" height="2.1" fill="#0f6a4e"/><path d="M353.2 664.5V663.8M352.1 663.8h2.2" stroke="#0f6a4e" stroke-width="0.9"/><rect x="358.5" y="659.7" width="3.4" height="6.9" fill="#5b2a80"/><path d="M360.2 659.7V658.7M359.1 658.7h2.2" stroke="#5b2a80" stroke-width="0.9"/><rect x="362.8" y="639" width="3.8" height="27.6" fill="#f7941e"/><rect x="362.8" y="630.6" width="3.8" height="1.8" fill="#f7941e"/><path d="M364.7 630.6V629.9M363.6 629.9h2.2" stroke="#f7941e" stroke-width="0.9"/><rect x="367.1" y="664.5" width="3.4" height="2.1" fill="#0f6a4e"/><path d="M368.8 664.5V664.2M367.7 664.2h2.2" stroke="#0f6a4e" stroke-width="0.9"/><rect x="374.1" y="659.7" width="3.4" height="6.9" fill="#5b2a80"/><path d="M375.8 659.7V658.7M374.7 658.7h2.2" stroke="#5b2a80" stroke-width="0.9"/><rect x="378.4" y="639" width="3.8" height="27.6" fill="#f7941e"/><rect x="378.4" y="620.1" width="3.8" height="12.3" fill="#f7941e"/><path d="M380.3 620.1V619.4M379.2 619.4h2.2" stroke="#f7941e" stroke-width="0.9"/><rect x="382.7" y="663.1" width="3.4" height="3.5" fill="#0f6a4e"/><path d="M384.4 663.1V661.8M383.3 661.8h2.2" stroke="#0f6a4e" stroke-width="0.9"/><rect x="389.8" y="660" width="3.4" height="6.6" fill="#5b2a80"/><path d="M391.5 660V656.2M390.4 656.2h2.2" stroke="#5b2a80" stroke-width="0.9"/><rect x="394.1" y="639" width="3.8" height="27.6" fill="#f7941e"/><rect x="394.1" y="605.2" width="3.8" height="27.2" fill="#f7941e"/><rect x="394.1" y="582.9" width="3.8" height="15.9" fill="#f7941e"/><path d="M396 582.9V575.3M394.9 575.3h2.2" stroke="#f7941e" stroke-width="0.9"/><rect x="398.4" y="639" width="3.4" height="27.6" fill="#0f6a4e"/><rect x="398.4" y="623.9" width="3.4" height="8.5" fill="#0f6a4e"/><path d="M400.1 623.9V623.1M399 623.1h2.2" stroke="#0f6a4e" stroke-width="0.9"/><rect x="405.4" y="659.7" width="3.4" height="6.9" fill="#5b2a80"/><path d="M407.1 659.7V657.6M406 657.6h2.2" stroke="#5b2a80" stroke-width="0.9"/><rect x="409.7" y="639" width="3.8" height="27.6" fill="#f7941e"/><rect x="409.7" y="630.6" width="3.8" height="1.8" fill="#f7941e"/><path d="M411.6 630.6V630.4M410.5 630.4h2.2" stroke="#f7941e" stroke-width="0.9"/><rect x="414" y="661.8" width="3.4" height="4.8" fill="#0f6a4e"/><path d="M415.7 661.8V660.7M414.6 660.7h2.2" stroke="#0f6a4e" stroke-width="0.9"/><rect x="421" y="659.7" width="3.4" height="6.9" fill="#5b2a80"/><path d="M422.7 659.7V658.7M421.6 658.7h2.2" stroke="#5b2a80" stroke-width="0.9"/><rect x="425.3" y="639" width="3.8" height="27.6" fill="#f7941e"/><rect x="425.3" y="630.6" width="3.8" height="1.8" fill="#f7941e"/><path d="M427.2 630.6V630.4M426.1 630.4h2.2" stroke="#f7941e" stroke-width="0.9"/><rect x="429.6" y="663.8" width="3.4" height="2.8" fill="#0f6a4e"/><path d="M431.3 663.8V662.5M430.2 662.5h2.2" stroke="#0f6a4e" stroke-width="0.9"/><rect x="436.6" y="659.7" width="3.4" height="6.9" fill="#5b2a80"/><path d="M438.3 659.7V658.7M437.2 658.7h2.2" stroke="#5b2a80" stroke-width="0.9"/><rect x="440.9" y="639" width="3.8" height="27.6" fill="#f7941e"/><rect x="440.9" y="630.6" width="3.8" height="1.8" fill="#f7941e"/><path d="M442.8 630.6V630.4M441.7 630.4h2.2" stroke="#f7941e" stroke-width="0.9"/><rect x="445.2" y="665.2" width="3.4" height="1.4" fill="#0f6a4e"/><path d="M446.9 665.2V664.9M445.8 664.9h2.2" stroke="#0f6a4e" stroke-width="0.9"/><rect x="452.3" y="660.4" width="3.4" height="6.2" fill="#5b2a80"/><path d="M454 660.4V659.7M452.9 659.7h2.2" stroke="#5b2a80" stroke-width="0.9"/><rect x="456.6" y="654.2" width="3.8" height="12.4" fill="#f7941e"/><path d="M458.5 654.2V653.5M457.4 653.5h2.2" stroke="#f7941e" stroke-width="0.9"/><rect x="460.9" y="664.5" width="3.4" height="2.1" fill="#0f6a4e"/><path d="M462.6 664.5V663.8M461.5 663.8h2.2" stroke="#0f6a4e" stroke-width="0.9"/><path d="M308 666.6H465.6M311 666.6V639M311 632.4V605.2M311 598.8V571.2M308.4 666.6H311M308.4 659.7H311M308.4 652.8H311M308.4 645.7H311M307.6 639H314.2M307.6 632.4H314.2M308.4 627.6H311M308.4 620.3H311M308.4 612.6H311M307.6 605.2H314.2M307.6 598.8H314.2M308.4 594.5H311M308.4 588.4H311M308.4 582.4H311M308.4 576.9H311M308.4 571.2H311M317.8 666.6V669M333.4 666.6V669M349.1 666.6V669M364.7 666.6V669M380.3 666.6V669M396 666.6V669M411.6 666.6V669M427.2 666.6V669M442.8 666.6V669M458.5 666.6V669" stroke="#231f20" stroke-width="0.95" fill="none"/><text x="306.8" y="668.7" font-size="5.8" text-anchor="end">0</text><text x="306.8" y="661.8" font-size="5.8" text-anchor="end">1</text><text x="306.8" y="654.9" font-size="5.8" text-anchor="end">2</text><text x="306.8" y="647.8" font-size="5.8" text-anchor="end">3</text><text x="306.8" y="641.1" font-size="5.8" text-anchor="end">4</text><text x="306.8" y="629.7" font-size="5.8" text-anchor="end">10</text><text x="306.8" y="622.4" font-size="5.8" text-anchor="end">20</text><text x="306.8" y="614.7" font-size="5.8" text-anchor="end">30</text><text x="306.8" y="607.3" font-size="5.8" text-anchor="end">40</text><text x="306.8" y="596.6" font-size="5.8" text-anchor="end">100</text><text x="306.8" y="590.5" font-size="5.8" text-anchor="end">200</text><text x="306.8" y="584.5" font-size="5.8" text-anchor="end">300</text><text x="306.8" y="579" font-size="5.8" text-anchor="end">400</text><text x="306.8" y="573.3" font-size="5.8" text-anchor="end">500</text><text x="320.4" y="674.6" font-size="6.3" text-anchor="end" transform="rotate(-45 320.4 674.6)">IFIT1</text><text x="336" y="674.6" font-size="6.3" text-anchor="end" transform="rotate(-45 336 674.6)">RSAD2</text><text x="351.7" y="674.6" font-size="6.3" text-anchor="end" transform="rotate(-45 351.7 674.6)">ISG15</text><text x="367.3" y="674.6" font-size="6.3" text-anchor="end" transform="rotate(-45 367.3 674.6)">MX1</text><text x="382.9" y="674.6" font-size="6.3" text-anchor="end" transform="rotate(-45 382.9 674.6)">IFI44L</text><text x="398.6" y="674.6" font-size="6.3" text-anchor="end" transform="rotate(-45 398.6 674.6)">IFI27</text><text x="414.2" y="674.6" font-size="6.3" text-anchor="end" transform="rotate(-45 414.2 674.6)">IFI44</text><text x="429.8" y="674.6" font-size="6.3" text-anchor="end" transform="rotate(-45 429.8 674.6)">USP18</text><text x="445.4" y="674.6" font-size="6.3" text-anchor="end" transform="rotate(-45 445.4 674.6)">OAS1</text><text x="461.1" y="674.6" font-size="6.3" text-anchor="end" transform="rotate(-45 461.1 674.6)">OAS3</text><text x="279.6" y="618.8" font-size="7.6" text-anchor="middle" textLength="74" lengthAdjust="spacingAndGlyphs" transform="rotate(-90 279.6 618.8)">Fold expresion relative</text><text x="291.4" y="620.5" font-size="7.8" text-anchor="middle" textLength="32.9" lengthAdjust="spacingAndGlyphs" transform="rotate(-90 291.4 620.5)">to control</text><rect x="446.5" y="564.5" width="9.9" height="4.6" fill="#5b2a80"/><text x="459.1" y="569.2" font-size="7.2" textLength="37.300000000000004" lengthAdjust="spacingAndGlyphs">HD PBMCs</text><rect x="446.5" y="574.5" width="9.9" height="4.6" fill="#f7941e"/><text x="459.1" y="579.2" font-size="7.2" textLength="47.6" lengthAdjust="spacingAndGlyphs">Ind. B Pre SCT</text><rect x="446.5" y="584.9" width="9.9" height="4.6" fill="#0f6a4e"/><text x="459.1" y="589.6" font-size="7.2" textLength="51.9" lengthAdjust="spacingAndGlyphs">Ind. B Post SCT</text><text x="471.6" y="669.5" font-size="6.8" textLength="29" lengthAdjust="spacingAndGlyphs">P <0.0001</text><path d="M294.9 502.2V498.2M293.8 498.2h2.2" stroke="#3dbb4a" stroke-width="0.8"/><path d="M303.9 501V497M302.8 497h2.2" stroke="#3dbb4a" stroke-width="0.8"/><path d="M312.9 495.8V491.8M311.8 491.8h2.2" stroke="#3dbb4a" stroke-width="0.8"/><path d="M303.9 499.7V502.7M302.8 502.7h2.2" stroke="#1a4f8f" stroke-width="0.8"/><path d="M312.9 497.6V500.6M311.8 500.6h2.2" stroke="#1a4f8f" stroke-width="0.8"/><rect x="0" y="0" width="520" height="697" fill="none" stroke="#000" stroke-width="2.4"/></svg></body></html>
